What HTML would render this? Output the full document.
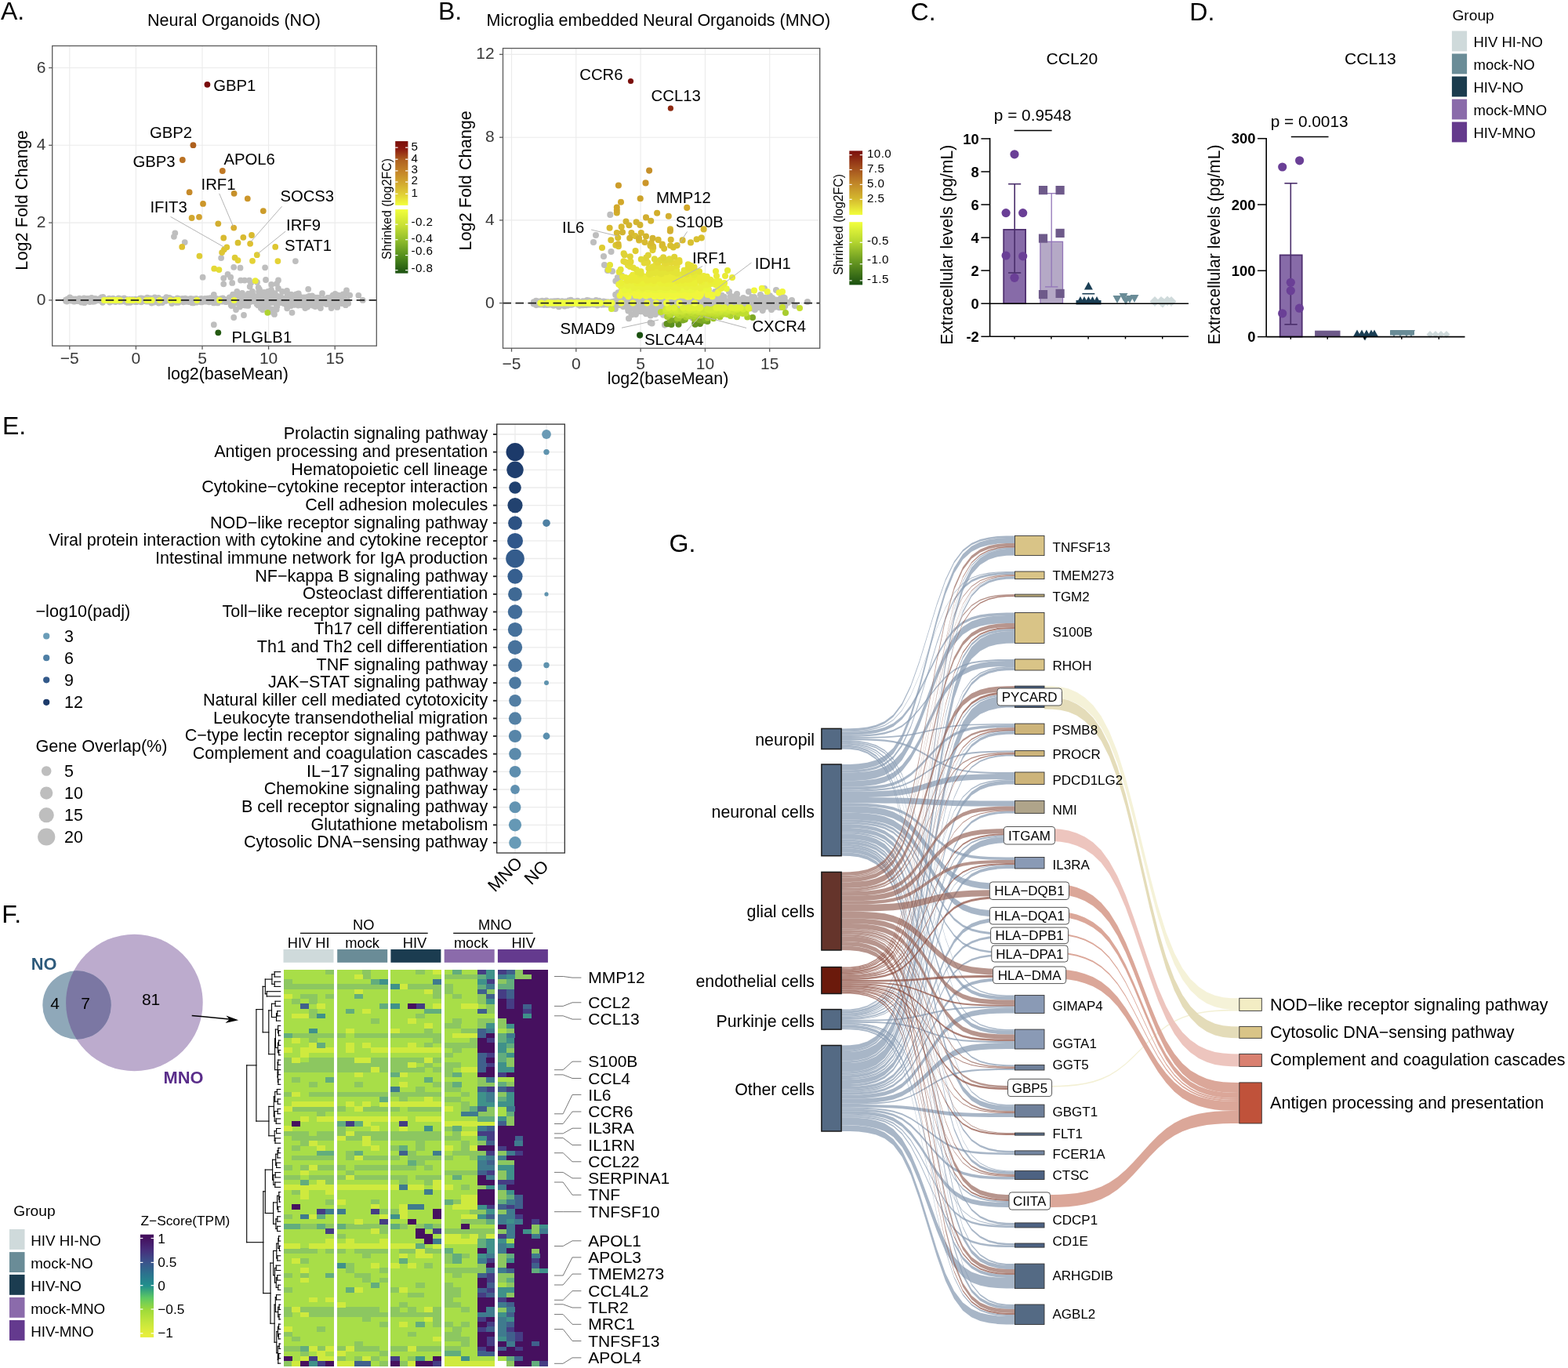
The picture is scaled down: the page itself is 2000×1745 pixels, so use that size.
<!DOCTYPE html>
<html><head><meta charset="utf-8"><title>Figure</title>
<style>html,body{margin:0;padding:0;background:#fff;}svg{display:block;}</style></head>
<body><svg width="2000" height="1745" viewBox="0 0 2000 1745" font-family="Liberation Sans, sans-serif" fill="#000">
<text x="1" y="24.7" font-size="32">A.</text>
<text x="298.5" y="32.8" font-size="21.5" text-anchor="middle">Neural Organoids (NO)</text>
<rect x="66.7" y="58.5" width="413.6" height="382.7" fill="#fff"/>
<g stroke="#ebebeb" stroke-width="1.1"><line x1="88.8" y1="58.5" x2="88.8" y2="441.2"/><line x1="173.4" y1="58.5" x2="173.4" y2="441.2"/><line x1="258" y1="58.5" x2="258" y2="441.2"/><line x1="342.6" y1="58.5" x2="342.6" y2="441.2"/><line x1="427.2" y1="58.5" x2="427.2" y2="441.2"/><line x1="66.7" y1="382.9" x2="480.3" y2="382.9"/><line x1="66.7" y1="284.1" x2="480.3" y2="284.1"/><line x1="66.7" y1="185.3" x2="480.3" y2="185.3"/><line x1="66.7" y1="86.5" x2="480.3" y2="86.5"/></g>
<path d="M201.5 381.6h0M110.1 381.2h0M278.7 383.2h0M268.3 382.5h0M97.4 383.4h0M116.7 382.7h0M238.2 382.5h0M164.9 383.6h0M312.0 389.1h0M438.9 384.3h0M396.0 382.0h0M195.9 382.3h0M380.6 386.6h0M219.2 383.9h0M283.0 382.4h0M158.6 382.7h0M331.2 384.4h0M248.6 381.1h0M192.8 382.3h0M172.5 385.1h0M292.7 379.5h0M188.5 384.6h0M440.3 387.2h0M139.0 381.7h0M261.6 380.8h0M361.9 381.8h0M402.2 384.2h0M294.7 386.6h0M389.3 393.0h0M105.8 382.5h0M338.9 377.4h0M187.3 383.0h0M224.1 383.1h0M251.7 383.2h0M144.9 382.5h0M363.2 382.2h0M173.8 385.2h0M113.0 381.0h0M247.1 385.8h0M381.8 387.3h0M185.0 384.1h0M405.4 379.6h0M138.6 382.4h0M168.6 381.9h0M260.1 383.9h0M85.2 383.5h0M236.1 384.2h0M430.4 380.1h0M271.2 384.5h0M103.4 384.4h0M411.0 374.2h0M226.5 384.8h0M228.9 381.2h0M106.4 381.6h0M108.2 382.7h0M207.4 382.0h0M102.8 382.1h0M120.6 382.9h0M216.0 379.9h0M307.1 381.9h0M175.5 383.7h0M128.4 381.7h0M392.6 390.7h0M115.0 382.5h0M120.9 383.5h0M385.2 381.0h0M92.1 381.2h0M137.1 383.5h0M281.3 381.1h0M439.7 381.5h0M337.0 384.1h0M364.5 381.6h0M367.1 382.0h0M442.0 370.4h0M377.0 383.2h0M272.0 384.0h0M213.1 382.6h0M185.4 382.8h0M178.0 384.2h0M246.4 386.4h0M424.6 376.6h0M163.9 383.3h0M166.2 382.6h0M310.7 378.5h0M389.5 385.9h0M114.6 385.1h0M324.0 380.6h0M257.6 385.3h0M148.7 382.6h0M375.0 388.9h0M227.7 385.8h0M347.4 378.7h0M129.9 381.0h0M377.1 377.7h0M384.4 386.4h0M283.3 384.0h0M131.4 379.0h0M320.1 382.2h0M423.4 379.1h0M160.5 384.9h0M175.3 383.2h0M297.1 380.8h0M236.2 380.7h0M212.4 380.5h0M250.4 385.7h0M236.7 384.5h0M417.6 386.4h0M90.5 383.3h0M243.8 382.8h0M374.4 382.7h0M256.0 383.2h0M202.3 384.8h0M272.3 385.3h0M122.3 383.8h0M287.5 382.9h0M364.7 380.5h0M288.1 382.7h0M245.0 386.2h0M306.5 387.4h0M248.3 383.1h0M277.7 386.4h0M338.1 380.6h0M426.5 389.5h0M389.3 385.5h0M128.0 383.4h0M171.3 382.7h0M110.3 384.2h0M410.0 387.4h0M344.2 379.1h0M435.7 378.1h0M430.2 391.9h0M386.6 382.2h0M240.7 384.2h0M154.9 383.0h0M199.6 383.0h0M285.3 383.2h0M244.0 381.6h0M310.7 382.6h0M107.1 380.3h0M437.2 383.4h0M180.3 380.4h0M182.1 382.3h0M130.9 385.8h0M381.7 379.8h0M138.1 381.2h0M338.5 384.8h0M104.7 383.5h0M110.1 384.3h0M425.1 382.5h0M395.2 384.1h0M397.6 384.9h0M420.8 379.7h0M130.7 384.0h0M123.5 383.1h0M142.5 382.0h0M197.2 382.6h0M194.7 382.8h0M265.6 384.1h0M148.4 383.1h0M174.8 382.7h0M89.3 383.1h0M152.6 384.8h0M256.4 382.3h0M381.6 383.5h0M263.8 382.1h0M268.0 384.2h0M333.9 390.1h0M340.8 378.2h0M230.9 383.2h0M130.9 382.5h0M109.5 383.0h0M143.1 384.0h0M114.5 381.3h0M327.7 387.9h0M171.8 383.3h0M141.0 381.3h0M245.9 383.2h0M437.5 375.4h0M172.6 381.7h0M213.4 383.2h0M84.1 384.1h0M266.6 381.8h0M156.8 383.0h0M179.8 382.9h0M116.4 383.2h0M91.9 382.6h0M194.4 382.7h0M276.2 380.9h0M356.8 384.2h0M225.4 385.9h0M202.4 382.1h0M347.2 383.1h0M99.7 381.3h0M311.9 388.3h0M379.2 386.4h0M387.5 384.1h0M384.4 379.4h0M335.9 385.7h0M95.1 382.0h0M121.9 381.9h0M387.8 385.8h0M331.3 385.9h0M84.9 382.2h0M266.7 385.3h0M278.4 383.2h0M351.8 383.8h0M110.8 383.1h0M158.4 380.5h0M352.9 389.7h0M258.0 382.8h0M332.4 390.3h0M111.9 384.3h0M137.4 383.0h0M194.5 380.5h0M290.3 382.4h0M181.5 382.9h0M328.2 384.0h0M271.6 384.0h0M252.8 383.6h0M408.8 382.6h0M439.5 375.3h0M382.0 382.1h0M247.2 383.0h0M427.7 380.9h0M295.3 390.1h0M132.0 383.5h0M382.1 379.4h0M167.9 384.4h0M410.3 382.7h0M262.6 382.9h0M247.7 383.2h0M208.8 382.1h0M198.7 382.9h0M356.8 383.2h0M127.4 380.8h0M411.7 385.0h0M219.1 387.1h0M298.1 376.1h0M239.4 383.0h0M120.7 382.4h0M387.4 380.8h0M180.4 383.3h0M269.6 382.4h0M431.6 376.7h0M379.1 376.9h0M283.5 384.7h0M345.5 383.3h0M357.5 386.1h0M187.8 379.7h0M130.0 381.9h0M255.5 383.6h0M352.6 378.1h0M178.4 383.6h0M286.5 383.9h0M227.2 382.5h0M159.3 382.1h0M413.3 381.7h0M446.2 376.6h0M134.5 382.7h0M208.1 382.3h0M116.9 382.8h0M290.9 381.8h0M406.5 385.5h0M274.4 382.1h0M220.8 383.2h0M184.7 382.4h0M435.7 387.1h0M397.6 383.0h0M182.3 382.9h0M245.9 381.4h0M430.7 381.9h0M95.5 383.1h0M341.8 392.0h0M83.8 382.6h0M226.2 380.4h0M394.9 388.6h0M174.1 382.2h0M273.8 382.4h0M331.8 384.7h0M361.9 387.1h0M284.3 380.4h0M168.3 382.3h0M418.4 383.4h0M175.3 382.2h0M315.2 382.0h0M274.5 382.5h0M295.8 382.2h0M87.5 380.9h0M193.4 386.5h0M318.2 378.6h0M256.6 382.8h0M433.2 380.7h0M195.5 381.2h0M329.1 382.4h0M177.3 384.6h0M166.2 385.8h0M96.1 383.7h0M332.0 380.3h0M373.7 384.9h0M436.5 383.0h0M382.0 382.0h0M191.0 380.4h0M430.0 382.1h0M235.4 381.9h0M325.7 378.7h0M161.2 381.7h0M438.1 381.9h0M226.8 382.7h0M410.5 385.5h0M422.6 393.1h0M151.2 380.6h0M95.3 383.9h0M325.4 384.8h0M145.3 382.0h0M84.8 383.2h0M431.3 380.2h0M434.5 386.3h0M382.8 378.6h0M101.6 384.3h0M418.2 382.4h0M216.2 382.6h0M233.2 383.1h0M379.0 381.1h0M106.5 382.8h0M418.4 383.0h0M207.1 386.1h0M182.8 380.9h0M179.1 383.4h0M344.4 382.9h0M358.6 382.3h0M314.4 377.9h0M256.6 382.7h0M431.8 386.9h0M240.1 382.2h0M263.2 382.1h0M375.7 383.7h0M383.0 387.7h0M200.0 383.7h0M215.4 382.8h0M155.5 383.5h0M357.6 382.2h0M284.7 382.7h0M202.2 379.9h0M443.1 383.7h0M114.3 381.5h0M341.9 380.9h0M168.9 384.7h0M329.0 380.8h0M391.8 378.8h0M190.6 380.9h0M289.9 384.6h0M156.2 381.2h0M173.7 382.9h0M405.4 381.2h0M202.4 386.6h0M268.3 380.1h0M167.9 382.1h0M444.2 386.9h0M256.4 381.7h0M416.4 388.1h0M190.6 382.2h0M437.7 381.6h0M422.1 380.7h0M178.3 384.1h0M366.7 375.6h0M309.2 380.4h0M217.9 382.3h0M176.5 382.1h0M301.8 382.8h0M202.8 382.7h0M330.5 383.7h0M373.0 381.1h0M106.7 381.7h0M283.9 382.0h0M316.2 380.5h0M232.8 380.9h0M186.8 384.2h0M197.4 379.5h0M289.8 383.9h0M398.1 377.3h0M216.1 382.1h0M157.8 380.6h0M85.9 381.6h0M382.2 384.7h0M404.9 382.6h0M284.4 382.7h0M316.8 374.7h0M218.6 381.8h0M267.2 382.2h0M273.3 381.9h0M420.4 388.2h0M435.5 382.6h0M129.8 379.1h0M259.3 384.3h0M103.1 381.6h0M412.7 384.2h0M383.7 382.4h0M230.9 383.9h0M391.6 380.9h0M229.1 382.0h0M272.1 383.5h0M173.6 382.4h0M347.4 374.3h0M359.3 381.9h0M388.6 385.9h0M311.8 385.1h0M236.5 384.3h0M323.4 384.4h0M243.2 380.9h0M261.8 382.6h0M169.3 382.7h0M250.4 385.5h0M149.0 383.6h0M130.5 382.8h0M240.4 381.6h0M269.3 382.0h0M98.6 383.3h0M350.5 385.1h0M269.8 381.2h0M221.2 382.3h0M429.6 376.7h0M350.0 400.9h0M154.2 381.2h0M431.7 383.8h0M143.8 382.1h0M107.6 386.2h0M211.4 382.9h0M409.9 384.6h0M380.4 389.6h0M159.5 382.9h0M179.3 384.2h0M97.1 382.9h0M150.0 381.1h0M331.0 369.1h0M145.1 382.7h0M276.8 383.6h0M315.2 380.3h0M294.7 389.2h0M121.8 380.8h0M227.1 383.0h0M373.9 379.0h0M214.8 383.0h0M361.9 380.7h0M101.3 380.7h0M382.0 388.4h0M296.9 389.4h0M197.5 382.5h0M138.1 382.9h0M307.8 389.2h0M131.8 383.2h0M166.4 383.1h0M84.7 383.2h0M212.9 381.8h0M165.3 382.0h0M296.0 381.7h0M256.5 380.9h0M132.7 381.9h0M138.0 383.3h0M118.6 384.8h0M368.3 387.5h0M179.8 380.8h0M288.3 382.7h0M211.2 383.9h0M424.6 385.4h0M174.1 382.5h0M277.1 383.2h0M231.4 382.9h0M367.1 381.9h0M284.1 382.1h0M156.3 383.2h0M304.9 386.3h0M147.3 385.0h0M196.3 383.0h0M407.3 380.8h0M344.0 380.2h0M253.0 384.9h0M353.6 382.7h0M168.2 382.2h0M97.8 384.2h0M336.6 373.0h0M342.6 385.9h0M370.5 384.0h0M180.2 385.3h0M162.7 385.9h0M403.9 383.0h0M354.3 377.8h0M355.2 381.0h0M170.7 383.8h0M413.9 384.4h0M439.9 387.0h0M389.2 380.9h0M347.3 385.4h0M195.7 382.4h0M112.0 380.9h0M415.1 381.5h0M421.7 382.7h0M135.3 382.5h0M335.7 382.7h0M337.3 379.3h0M215.9 382.1h0M381.1 380.9h0M399.4 384.5h0M427.3 382.5h0M96.2 382.2h0M392.1 391.5h0M313.5 387.0h0M120.1 380.9h0M158.3 381.5h0M199.8 383.2h0M177.1 382.8h0M186.5 383.2h0M200.4 384.3h0M434.4 380.5h0M95.0 384.6h0M233.9 385.3h0M209.9 381.9h0M340.1 381.7h0M116.8 380.0h0M382.0 380.9h0M361.0 382.9h0M85.3 384.6h0M373.6 382.7h0M263.6 384.5h0M178.5 380.6h0M427.1 381.9h0M265.0 380.7h0M123.7 383.3h0M370.4 383.8h0M370.0 384.7h0M227.3 381.7h0M407.6 382.4h0M158.7 383.1h0M179.5 381.5h0M221.7 383.9h0M405.3 386.4h0M358.2 380.8h0M318.8 383.7h0M390.4 381.4h0M353.6 387.6h0M294.4 381.0h0M251.8 382.1h0M153.4 383.6h0M193.4 383.7h0M140.0 385.6h0M140.5 382.9h0M273.7 381.6h0M142.3 383.4h0M438.5 381.2h0M120.8 382.2h0M223.5 383.1h0M441.6 383.7h0M155.1 384.5h0M315.8 382.1h0M96.1 381.5h0M228.9 382.3h0M265.8 385.1h0M313.8 380.4h0M231.0 381.3h0M353.3 391.1h0M356.2 381.3h0M166.9 383.4h0M365.3 388.9h0M393.8 385.0h0M197.6 384.2h0M312.3 387.4h0M343.2 380.4h0M174.7 384.3h0M309.8 381.4h0M329.4 378.8h0M366.8 379.0h0M261.9 382.5h0M281.4 383.0h0M142.2 382.2h0M272.6 386.4h0M120.5 384.6h0M344.7 384.6h0M316.3 389.9h0M428.6 383.3h0M332.7 382.8h0M441.9 384.4h0M104.3 383.1h0M88.6 381.4h0M236.0 384.9h0M211.8 381.8h0M180.2 382.5h0M425.7 378.1h0M163.4 382.4h0M160.9 384.3h0M130.8 382.5h0M314.5 388.2h0M288.2 382.3h0M212.2 379.1h0M316.1 379.8h0M190.8 384.4h0M283.2 380.9h0M212.8 380.9h0M393.2 384.5h0M238.7 382.1h0M151.3 380.5h0M186.0 382.9h0M172.8 383.4h0M239.6 381.3h0M315.6 387.3h0M394.6 377.7h0M384.9 382.1h0M386.1 384.5h0M89.2 379.3h0M322.3 382.4h0M120.7 382.2h0M366.1 381.2h0M139.3 380.7h0M144.8 384.4h0M407.9 382.0h0M408.9 393.0h0M388.9 384.2h0M353.6 386.3h0M404.8 383.1h0M134.4 381.8h0M263.1 381.3h0M136.3 382.3h0M262.5 384.7h0M397.6 382.9h0M389.6 387.0h0M389.5 384.6h0M236.1 382.3h0M315.5 383.2h0M94.1 384.6h0M422.6 385.8h0M440.9 389.2h0M96.1 382.6h0M345.0 386.0h0M216.9 380.4h0M256.3 385.4h0M160.4 383.3h0M242.0 384.6h0M384.5 381.1h0M384.8 385.3h0M268.0 382.9h0M438.4 382.2h0M199.1 384.2h0M192.6 384.7h0M369.0 385.1h0M346.6 385.0h0M193.0 383.0h0M86.0 381.7h0M305.2 376.7h0M370.8 390.2h0M311.7 385.6h0M300.6 381.9h0M250.3 380.8h0M361.2 382.6h0M365.5 381.2h0M322.3 380.6h0M288.2 385.2h0M177.6 383.4h0M199.6 381.4h0M240.4 385.1h0M103.6 385.6h0M290.2 382.2h0M378.5 382.5h0M417.9 380.0h0M299.1 382.3h0M440.5 384.1h0M318.2 382.2h0M138.9 382.8h0M332.5 382.9h0M435.3 381.8h0M90.2 383.5h0M345.4 383.1h0M102.0 383.8h0M365.3 379.9h0M114.4 384.8h0M312.4 389.6h0M176.1 382.1h0M434.5 382.4h0M320.4 382.8h0M112.7 383.8h0M144.1 380.7h0M396.9 380.3h0M292.9 381.9h0M330.0 382.1h0M318.3 385.6h0M235.8 384.9h0M427.5 374.9h0M289.9 383.0h0M438.0 381.9h0M384.7 389.3h0M386.1 387.9h0M196.0 385.7h0M220.8 381.6h0M332.8 378.6h0M186.8 384.5h0M84.3 383.0h0M297.1 375.7h0M406.6 380.2h0M399.2 387.6h0M183.3 381.3h0M332.8 393.0h0M209.9 381.3h0M373.8 381.0h0M346.1 397.8h0M350.6 374.2h0M329.4 389.4h0M353.0 378.2h0M346.4 394.3h0M331.9 382.2h0M366.2 393.3h0M350.8 374.5h0M402.1 391.0h0M307.8 383.9h0M327.4 385.1h0M353.6 379.1h0M336.3 388.7h0M314.4 385.5h0M326.9 383.3h0M457.3 376.8h0M334.7 380.7h0M306.0 391.3h0M371.4 375.7h0M323.0 376.5h0M354.8 382.7h0M413.7 383.7h0M302.4 382.2h0M341.7 371.8h0M272.8 375.9h0M352.7 394.7h0M371.2 384.0h0M368.0 381.9h0M351.9 380.5h0M387.0 380.3h0M371.7 388.1h0M416.2 387.5h0M388.0 379.5h0M332.3 380.9h0M371.2 384.2h0M301.5 386.5h0M394.5 385.5h0M317.1 378.5h0M393.2 368.8h0M369.9 383.1h0M371.2 381.7h0M302.3 371.8h0M399.2 389.8h0M402.9 379.6h0M333.7 391.9h0M357.4 383.1h0M380.8 374.4h0M393.2 386.5h0M332.3 374.7h0M346.8 385.9h0M334.3 378.5h0M373.5 377.7h0M358.2 378.8h0M377.7 375.3h0M399.6 382.1h0M462.7 382.9h0M223.3 297.3h0M221.9 301.8h0M235.7 309.1h0M282.1 329.1h0M376.9 333.1h0M298.2 340.8h0M306.5 341.7h0M338.1 341.3h0M258.6 353.7h0M290.5 349.9h0M294.2 353.7h0M285.2 354.8h0M296.2 360.9h0M285.2 362.3h0M307.0 357.6h0M312.0 357.6h0M318.0 357.6h0M320.0 361.0h0M328.0 360.0h0M339.0 357.0h0M355.0 357.5h0M353.0 362.0h0M346.2 363.0h0M318.7 365.6h0M329.6 366.8h0M298.2 405.0h0M272.8 414.2h0M311.0 402.0h0M372.5 398.8h0M301.0 395.0h0M335.0 395.0h0M346.0 370.0h0M360.0 372.0h0M322.0 372.0h0M309.0 374.0h0M366.0 371.0h0M355.0 368.0h0M330.0 372.0h0" stroke="#bebebe" stroke-width="7.80" stroke-linecap="round" fill="none"/>
<path d="M278.3 424.3h0" stroke="#245a12" stroke-width="7.80" stroke-linecap="round" fill="none"/><path d="M341.3 398.8h0" stroke="#aed230" stroke-width="7.80" stroke-linecap="round" fill="none"/><path d="M132.8 382.9h0M136.2 382.9h0M139.6 382.9h0M142.9 382.9h0M146.3 382.9h0M149.7 382.9h0M153.1 382.9h0M163.2 382.9h0M166.6 382.9h0M170.0 382.9h0M176.8 382.9h0M186.9 382.9h0M190.3 382.9h0M193.7 382.9h0M203.9 382.9h0M217.4 382.9h0M224.2 382.9h0M227.5 382.9h0M251.2 382.9h0M280.0 382.9h0M298.6 382.9h0" stroke="#f0ff3c" stroke-width="7.80" stroke-linecap="round" fill="none"/><path d="M325.7 358.2h0" stroke="#eaea36" stroke-width="7.80" stroke-linecap="round" fill="none"/><path d="M279.4 344.1h0" stroke="#e4de36" stroke-width="7.80" stroke-linecap="round" fill="none"/><path d="M273.2 342.7h0" stroke="#e4d836" stroke-width="7.80" stroke-linecap="round" fill="none"/><path d="M303.5 332.1h0M322.0 332.8h0M354.4 333.1h0" stroke="#e4d236" stroke-width="7.80" stroke-linecap="round" fill="none"/><path d="M327.8 325.2h0M254.4 326.6h0M299.6 328.7h0" stroke="#decc36" stroke-width="7.80" stroke-linecap="round" fill="none"/><path d="M283.1 322.1h0" stroke="#dec636" stroke-width="7.80" stroke-linecap="round" fill="none"/><path d="M289.3 315.3h0M285.9 318.3h0M351.2 314.9h0" stroke="#dec630" stroke-width="7.80" stroke-linecap="round" fill="none"/><path d="M319.1 310.8h0M232.2 314.9h0" stroke="#dec030" stroke-width="7.80" stroke-linecap="round" fill="none"/><path d="M303.5 309.7h0" stroke="#d8c030" stroke-width="7.80" stroke-linecap="round" fill="none"/><path d="M285.2 303.5h0M321.0 300.0h0M310.3 302.8h0" stroke="#d8ba30" stroke-width="7.80" stroke-linecap="round" fill="none"/><path d="M298.2 290.6h0" stroke="#d8ae30" stroke-width="7.80" stroke-linecap="round" fill="none"/><path d="M278.3 285.3h0" stroke="#d2ae30" stroke-width="7.80" stroke-linecap="round" fill="none"/><path d="M244.6 278.0h0" stroke="#d2a830" stroke-width="7.80" stroke-linecap="round" fill="none"/><path d="M254.0 276.8h0" stroke="#d2a230" stroke-width="7.80" stroke-linecap="round" fill="none"/><path d="M335.8 269.1h0" stroke="#cc9c2a" stroke-width="7.80" stroke-linecap="round" fill="none"/><path d="M315.8 253.3h0M259.0 259.9h0" stroke="#cc962a" stroke-width="7.80" stroke-linecap="round" fill="none"/><path d="M298.6 246.8h0" stroke="#c6902a" stroke-width="7.80" stroke-linecap="round" fill="none"/><path d="M241.6 245.2h0" stroke="#c68a2a" stroke-width="7.80" stroke-linecap="round" fill="none"/><path d="M283.8 218.0h0" stroke="#c07824" stroke-width="7.80" stroke-linecap="round" fill="none"/><path d="M232.8 204.0h0" stroke="#ba7224" stroke-width="7.80" stroke-linecap="round" fill="none"/><path d="M246.4 185.2h0" stroke="#ae601e" stroke-width="7.80" stroke-linecap="round" fill="none"/><path d="M264.4 107.8h0" stroke="#780c0c" stroke-width="7.80" stroke-linecap="round" fill="none"/>
<line x1="66.7" y1="382.9" x2="480.3" y2="382.9" stroke="#222" stroke-width="1.6" stroke-dasharray="10.5 5.5" stroke-dashoffset="-4"/>
<g stroke="#b5b5b5" stroke-width="1"><line x1="217.5" y1="276.4" x2="286.5" y2="315.6"/><line x1="279.7" y1="246.8" x2="297.5" y2="288.8"/><line x1="359.5" y1="263.3" x2="319.6" y2="308.7"/><line x1="364.3" y1="295" x2="328.5" y2="323.9"/></g>
<g font-size="20.3"><text x="272.2" y="116.2">GBP1</text><text x="191" y="176.2">GBP2</text><text x="169.4" y="212.8">GBP3</text><text x="285.4" y="210.4">APOL6</text><text x="256.5" y="241.6">IRF1</text><text x="191.4" y="271.2">IFIT3</text><text x="357.4" y="256.9">SOCS3</text><text x="365" y="294">IRF9</text><text x="362.9" y="319.7">STAT1</text><text x="295.5" y="436.6">PLGLB1</text></g>
<rect x="66.7" y="58.5" width="413.6" height="382.7" fill="none" stroke="#5a5a5a" stroke-width="1.3"/>
<g stroke="#5a5a5a" stroke-width="1.3"><line x1="88.8" y1="441.2" x2="88.8" y2="445.7"/><line x1="173.4" y1="441.2" x2="173.4" y2="445.7"/><line x1="258" y1="441.2" x2="258" y2="445.7"/><line x1="342.6" y1="441.2" x2="342.6" y2="445.7"/><line x1="427.2" y1="441.2" x2="427.2" y2="445.7"/><line x1="62.2" y1="382.9" x2="66.7" y2="382.9"/><line x1="62.2" y1="284.1" x2="66.7" y2="284.1"/><line x1="62.2" y1="185.3" x2="66.7" y2="185.3"/><line x1="62.2" y1="86.5" x2="66.7" y2="86.5"/></g>
<g font-size="21" fill="#383838"><text x="58.4" y="388.9" text-anchor="end">0</text><text x="58.4" y="290.1" text-anchor="end">2</text><text x="58.4" y="191.3" text-anchor="end">4</text><text x="58.4" y="92.5" text-anchor="end">6</text><text x="88.8" y="464.3" text-anchor="middle">−5</text><text x="173.4" y="464.3" text-anchor="middle">0</text><text x="258" y="464.3" text-anchor="middle">5</text><text x="342.6" y="464.3" text-anchor="middle">10</text><text x="427.2" y="464.3" text-anchor="middle">15</text></g>
<text x="290.6" y="483.5" font-size="21.4" text-anchor="middle">log2(baseMean)</text>
<text transform="translate(35.2,255.4) rotate(-90)" font-size="21.7" text-anchor="middle">Log2 Fold Change</text>
<defs><linearGradient id="cbAu" x1="0" y1="0" x2="0" y2="1"><stop offset="0" stop-color="#7a0e0a"/><stop offset="0.12" stop-color="#8c1a10"/><stop offset="0.3" stop-color="#b0621f"/><stop offset="0.48" stop-color="#c58528"/><stop offset="0.66" stop-color="#d3a92e"/><stop offset="0.84" stop-color="#e2d235"/><stop offset="1" stop-color="#f2ff3c"/></linearGradient><linearGradient id="cbAl" x1="0" y1="0" x2="0" y2="1"><stop offset="0" stop-color="#f2ff3c"/><stop offset="0.25" stop-color="#c8e034"/><stop offset="0.5" stop-color="#8cba2a"/><stop offset="0.75" stop-color="#4e8a1c"/><stop offset="1" stop-color="#1a5010"/></linearGradient><linearGradient id="cbBu" x1="0" y1="0" x2="0" y2="1"><stop offset="0" stop-color="#7a0e0a"/><stop offset="0.25" stop-color="#a04a1c"/><stop offset="0.5" stop-color="#c08428"/><stop offset="0.75" stop-color="#d4b82e"/><stop offset="1" stop-color="#f2ff3c"/></linearGradient><linearGradient id="cbBl" x1="0" y1="0" x2="0" y2="1"><stop offset="0" stop-color="#f2ff3c"/><stop offset="0.3" stop-color="#b8d830"/><stop offset="0.6" stop-color="#6e9e22"/><stop offset="1" stop-color="#1a5010"/></linearGradient></defs>
<rect x="504.2" y="180.1" width="16.2" height="81.8" fill="url(#cbAu)"/>
<rect x="504.2" y="267.1" width="16.2" height="81.5" fill="url(#cbAl)"/>
<g stroke="#fff" stroke-width="1.2"><line x1="504.2" y1="188.2" x2="507.5" y2="188.2"/><line x1="517.1" y1="188.2" x2="520.4" y2="188.2"/><line x1="504.2" y1="203.2" x2="507.5" y2="203.2"/><line x1="517.1" y1="203.2" x2="520.4" y2="203.2"/><line x1="504.2" y1="217.9" x2="507.5" y2="217.9"/><line x1="517.1" y1="217.9" x2="520.4" y2="217.9"/><line x1="504.2" y1="232.1" x2="507.5" y2="232.1"/><line x1="517.1" y1="232.1" x2="520.4" y2="232.1"/><line x1="504.2" y1="247.3" x2="507.5" y2="247.3"/><line x1="517.1" y1="247.3" x2="520.4" y2="247.3"/><line x1="504.2" y1="286.2" x2="507.5" y2="286.2"/><line x1="517.1" y1="286.2" x2="520.4" y2="286.2"/><line x1="504.2" y1="305.7" x2="507.5" y2="305.7"/><line x1="517.1" y1="305.7" x2="520.4" y2="305.7"/><line x1="504.2" y1="325.6" x2="507.5" y2="325.6"/><line x1="517.1" y1="325.6" x2="520.4" y2="325.6"/><line x1="504.2" y1="344.7" x2="507.5" y2="344.7"/><line x1="517.1" y1="344.7" x2="520.4" y2="344.7"/></g>
<g font-size="15.2" letter-spacing="0.4"><text x="524.5" y="191.8">5</text><text x="524.5" y="206.5">4</text><text x="524.5" y="220.6">3</text><text x="524.5" y="235.4">2</text><text x="524.5" y="250.6">1</text><text x="524.5" y="288.3">-0.2</text><text x="524.5" y="309.4">-0.4</text><text x="524.5" y="325">-0.6</text><text x="524.5" y="347">-0.8</text></g>
<text transform="translate(498.8,266.5) rotate(-90)" font-size="15.9" text-anchor="middle">Shrinked (log2FC)</text>
<text x="559" y="24.5" font-size="32">B.</text>
<text x="620.5" y="32.8" font-size="21.5">Microglia embedded Neural Organoids (MNO)</text>
<rect x="641.5" y="61.6" width="404.20000000000005" height="382.59999999999997" fill="#fff"/>
<g stroke="#ebebeb" stroke-width="1.1"><line x1="652.5" y1="61.6" x2="652.5" y2="444.2"/><line x1="734.8" y1="61.6" x2="734.8" y2="444.2"/><line x1="817.1" y1="61.6" x2="817.1" y2="444.2"/><line x1="899.4" y1="61.6" x2="899.4" y2="444.2"/><line x1="981.7" y1="61.6" x2="981.7" y2="444.2"/><line x1="641.5" y1="386.6" x2="1045.7" y2="386.6"/><line x1="641.5" y1="280.9" x2="1045.7" y2="280.9"/><line x1="641.5" y1="175.2" x2="1045.7" y2="175.2"/><line x1="641.5" y1="69.4" x2="1045.7" y2="69.4"/></g>
<path d="M825.7 397.8h0M829.9 391.0h0M843.5 389.5h0M844.8 388.4h0M882.7 386.0h0M777.9 387.3h0M709.6 385.7h0M693.9 388.9h0M995.7 381.7h0M878.1 388.3h0M731.0 384.7h0M699.6 386.4h0M741.5 386.6h0M829.4 385.3h0M821.9 383.1h0M886.0 391.9h0M840.9 389.7h0M769.8 388.1h0M1000.7 380.0h0M907.7 386.9h0M781.7 386.4h0M703.0 385.3h0M926.4 392.0h0M804.5 380.6h0M988.0 386.5h0M747.8 386.6h0M972.7 396.1h0M808.0 383.8h0M703.9 388.5h0M767.1 388.6h0M708.5 388.6h0M923.8 378.9h0M718.4 386.6h0M699.7 385.9h0M936.3 384.7h0M824.1 380.5h0M741.7 386.7h0M887.1 389.4h0M717.9 387.6h0M767.1 386.1h0M992.1 385.6h0M964.5 389.4h0M748.1 389.1h0M886.5 380.2h0M712.7 385.5h0M763.4 386.7h0M928.5 388.0h0M704.0 385.4h0M709.4 387.6h0M873.5 388.6h0M799.8 390.4h0M835.7 382.7h0M864.9 384.4h0M730.0 387.3h0M972.1 385.5h0M741.4 387.7h0M917.8 384.5h0M985.4 387.4h0M963.6 389.5h0M713.8 387.6h0M692.9 385.5h0M906.6 387.5h0M763.0 385.6h0M774.7 388.5h0M736.8 386.7h0M753.8 387.2h0M860.0 382.2h0M770.4 388.4h0M974.9 386.4h0M766.9 386.3h0M823.5 383.5h0M798.9 386.2h0M864.1 383.2h0M966.4 384.2h0M995.2 389.5h0M868.1 393.4h0M725.5 386.3h0M972.6 386.5h0M905.5 385.5h0M884.7 386.9h0M835.3 387.2h0M1001.2 389.6h0M704.6 389.1h0M969.4 388.2h0M917.1 388.4h0M974.2 392.4h0M793.4 388.0h0M960.1 393.4h0M814.4 383.9h0M864.3 396.8h0M881.1 391.8h0M875.9 381.9h0M706.2 389.8h0M962.9 395.0h0M914.2 393.2h0M867.0 381.0h0M821.9 385.4h0M921.3 387.8h0M690.0 388.1h0M754.4 387.7h0M904.6 393.9h0M975.9 386.5h0M762.6 385.3h0M898.1 386.3h0M745.5 384.9h0M892.3 376.5h0M822.3 382.9h0M894.2 389.6h0M744.2 389.2h0M973.9 384.0h0M963.0 390.0h0M782.1 385.2h0M724.2 389.6h0M952.9 386.5h0M908.8 382.6h0M734.8 387.0h0M825.1 387.2h0M813.4 383.0h0M881.3 391.2h0M949.8 386.5h0M995.7 387.9h0M690.6 386.4h0M960.6 381.4h0M863.6 384.5h0M779.7 386.5h0M724.1 386.9h0M826.5 376.8h0M756.7 386.1h0M725.7 384.5h0M823.8 384.4h0M882.7 392.0h0M988.1 391.8h0M900.2 384.7h0M737.8 384.9h0M683.9 389.1h0M738.0 386.2h0M767.9 388.0h0M847.5 379.9h0M877.7 386.4h0M934.7 390.0h0M971.4 379.8h0M912.3 380.2h0M722.2 388.7h0M972.6 385.2h0M801.4 396.5h0M936.2 389.6h0M983.6 391.5h0M746.2 386.1h0M912.2 383.4h0M910.8 393.5h0M748.9 383.0h0M994.2 392.3h0M852.8 385.4h0M972.6 389.5h0M955.2 387.4h0M822.0 384.8h0M857.1 385.9h0M689.6 388.4h0M940.2 380.9h0M736.0 385.5h0M788.0 386.4h0M728.2 387.4h0M846.3 388.3h0M901.7 396.6h0M984.0 395.0h0M708.1 386.4h0M751.5 387.9h0M914.4 387.3h0M885.5 396.7h0M860.2 388.1h0M780.5 388.8h0M969.5 382.1h0M747.3 384.1h0M848.7 397.8h0M864.4 384.6h0M842.0 380.4h0M874.7 372.9h0M846.1 384.2h0M809.1 384.5h0M838.1 393.1h0M902.3 380.6h0M813.3 384.0h0M987.6 384.2h0M832.4 388.5h0M721.2 389.3h0M969.5 384.0h0M833.4 388.0h0M878.8 383.5h0M977.5 382.5h0M687.8 384.6h0M742.8 386.3h0M783.9 384.2h0M794.5 387.1h0M915.1 388.3h0M719.9 387.8h0M743.9 386.7h0M850.7 391.3h0M813.2 384.6h0M850.4 384.7h0M883.1 383.6h0M885.4 396.7h0M876.8 388.5h0M955.5 386.0h0M940.6 381.0h0M970.2 387.8h0M976.7 383.9h0M750.5 383.3h0M723.5 386.6h0M757.3 386.8h0M711.6 387.8h0M947.6 391.9h0M720.9 385.3h0M809.8 387.0h0M745.0 386.9h0M899.5 374.8h0M717.5 388.8h0M842.8 386.3h0M900.6 392.8h0M741.1 385.9h0M692.5 386.3h0M857.6 393.4h0M727.5 386.8h0M739.7 385.7h0M998.3 380.3h0M978.0 385.6h0M985.9 385.9h0M828.8 386.2h0M830.4 391.3h0M845.9 393.1h0M684.7 385.7h0M905.5 384.7h0M826.2 389.4h0M917.8 388.5h0M733.5 386.0h0M845.0 375.5h0M937.8 385.9h0M906.7 381.8h0M810.3 392.3h0M872.9 401.6h0M938.8 386.9h0M763.4 384.4h0M930.2 389.6h0M942.0 392.7h0M962.9 382.5h0M903.5 385.6h0M810.7 395.5h0M912.4 382.2h0M831.0 384.5h0M683.9 388.0h0M880.8 380.7h0M755.0 384.4h0M788.9 387.4h0M892.2 392.5h0M805.5 389.4h0M1001.4 389.9h0M925.0 390.8h0M995.1 381.9h0M917.6 385.9h0M762.9 387.0h0M743.2 386.3h0M801.1 383.3h0M971.2 385.1h0M857.0 400.4h0M862.8 387.3h0M999.9 390.6h0M704.9 388.8h0M872.3 386.5h0M979.0 387.6h0M731.8 387.6h0M839.5 386.0h0M876.6 374.7h0M815.5 382.0h0M849.6 390.7h0M772.2 387.5h0M890.8 390.6h0M910.5 388.2h0M775.5 385.4h0M694.2 386.5h0M730.7 386.6h0M968.6 390.0h0M920.7 376.8h0M983.6 383.4h0M704.1 385.2h0M833.8 389.7h0M992.8 386.4h0M981.3 382.4h0M912.5 401.0h0M942.6 384.7h0M874.2 381.1h0M826.7 381.7h0M745.8 384.8h0M720.4 386.0h0M822.6 389.5h0M764.6 388.1h0M867.4 394.6h0M850.8 382.2h0M1000.7 381.3h0M757.0 387.4h0M717.0 384.4h0M881.1 392.4h0M795.8 386.9h0M861.8 378.6h0M870.4 392.5h0M741.4 388.6h0M760.4 383.1h0M962.5 387.6h0M693.2 385.4h0M817.0 385.0h0M880.6 381.3h0M703.8 385.4h0M708.2 387.5h0M883.0 392.6h0M800.3 387.7h0M790.8 386.5h0M919.5 385.9h0M718.9 387.1h0M940.2 390.8h0M748.9 388.5h0M816.7 387.1h0M798.9 383.7h0M890.3 381.9h0M856.6 386.9h0M920.0 383.4h0M799.0 387.4h0M711.6 386.1h0M707.1 387.1h0M861.6 394.6h0M776.4 386.4h0M929.4 384.5h0M893.0 384.9h0M706.7 387.4h0M903.2 378.6h0M771.3 385.7h0M913.5 382.7h0M798.1 384.8h0M863.2 381.0h0M975.3 379.5h0M821.1 390.9h0M938.2 387.6h0M808.7 382.2h0M980.5 384.6h0M796.6 387.3h0M797.8 387.6h0M804.9 382.6h0M743.1 389.2h0M854.0 390.3h0M948.9 388.6h0M924.1 387.4h0M963.2 386.7h0M846.0 385.5h0M855.1 399.2h0M889.5 392.3h0M938.6 382.6h0M933.4 384.9h0M707.5 384.3h0M969.1 383.8h0M707.7 387.2h0M919.9 388.0h0M888.8 386.5h0M926.1 384.2h0M847.9 386.1h0M788.9 388.2h0M991.3 388.5h0M853.0 392.0h0M911.9 389.7h0M812.3 397.9h0M945.7 390.0h0M939.2 392.4h0M948.1 380.0h0M886.0 395.2h0M848.6 389.0h0M815.8 395.8h0M815.4 381.3h0M998.6 382.1h0M801.0 384.8h0M816.9 383.5h0M774.2 386.1h0M779.5 386.7h0M717.3 388.2h0M738.1 388.8h0M700.5 388.6h0M972.3 385.4h0M692.2 385.8h0M750.2 386.0h0M756.0 387.0h0M752.4 388.7h0M739.9 386.8h0M923.6 384.5h0M780.5 389.4h0M834.4 389.5h0M764.1 383.9h0M790.3 388.9h0M856.2 380.8h0M751.4 387.1h0M696.4 383.9h0M804.0 389.7h0M849.8 390.8h0M998.3 386.9h0M891.5 386.5h0M832.2 385.8h0M799.7 385.9h0M875.0 394.6h0M731.0 385.8h0M763.7 385.4h0M959.5 391.5h0M999.2 387.1h0M766.0 387.5h0M927.8 387.0h0M680.9 385.3h0M944.3 392.6h0M706.9 386.9h0M711.7 384.1h0M834.6 399.5h0M868.8 384.0h0M955.7 388.6h0M814.3 377.8h0M974.7 381.2h0M747.4 385.0h0M854.9 389.7h0M947.5 386.9h0M780.4 386.8h0M778.6 386.0h0M830.4 387.7h0M901.0 391.5h0M714.4 388.0h0M990.8 384.2h0M946.8 386.9h0M801.5 387.3h0M908.4 386.1h0M827.5 379.8h0M683.8 383.8h0M746.8 386.7h0M878.2 387.9h0M853.7 381.6h0M776.2 387.4h0M894.5 382.1h0M762.8 385.8h0M786.2 384.2h0M983.8 391.7h0M786.9 387.6h0M945.9 385.0h0M710.8 386.1h0M898.0 387.5h0M809.6 389.8h0M949.1 387.8h0M753.2 387.0h0M730.9 385.4h0M703.8 385.5h0M976.0 390.3h0M888.2 383.8h0M926.6 385.1h0M786.9 388.0h0M812.8 381.3h0M905.1 386.1h0M995.7 385.4h0M875.8 394.1h0M686.4 387.3h0M889.3 382.4h0M714.6 388.0h0M933.6 383.7h0M945.3 388.1h0M926.5 387.9h0M970.3 389.7h0M841.1 388.1h0M726.0 387.7h0M846.1 401.7h0M910.1 384.8h0M983.8 388.6h0M881.8 385.9h0M759.0 386.0h0M865.5 388.1h0M978.7 389.5h0M796.4 387.4h0M993.0 386.2h0M724.0 385.0h0M860.5 390.4h0M860.3 387.6h0M998.9 379.1h0M942.9 388.0h0M945.2 387.6h0M773.1 385.7h0M864.6 389.0h0M947.1 384.9h0M705.0 384.8h0M690.8 384.6h0M982.0 377.4h0M891.8 389.4h0M917.3 381.8h0M803.0 394.6h0M685.7 388.2h0M744.5 387.5h0M804.5 386.0h0M863.3 383.6h0M765.1 384.9h0M862.8 390.3h0M692.6 384.6h0M895.9 378.4h0M873.1 376.0h0M831.3 392.9h0M901.7 382.7h0M923.8 386.6h0M999.7 390.6h0M949.5 384.4h0M819.8 390.9h0M862.1 381.3h0M849.0 390.2h0M819.2 382.8h0M698.0 387.4h0M913.4 379.7h0M872.3 391.6h0M921.8 388.2h0M702.9 384.6h0M720.4 388.4h0M807.8 384.6h0M697.2 387.3h0M757.2 388.4h0M778.8 387.5h0M702.4 385.9h0M973.0 381.6h0M958.6 387.7h0M815.7 385.3h0M920.1 388.9h0M862.4 384.6h0M934.8 387.5h0M720.2 390.4h0M680.7 387.5h0M758.8 387.0h0M700.6 385.3h0M967.8 385.2h0M794.9 388.1h0M868.4 385.3h0M968.9 386.4h0M779.3 390.3h0M994.2 386.5h0M832.2 385.4h0M976.6 383.8h0M968.3 384.4h0M794.2 383.8h0M832.1 381.5h0M1000.0 380.4h0M745.3 387.3h0M963.0 388.3h0M696.5 384.6h0M780.9 385.0h0M969.5 382.9h0M723.8 388.4h0M903.9 381.3h0M705.8 387.3h0M752.1 387.5h0M743.5 384.3h0M738.6 386.4h0M934.2 381.5h0M800.0 388.3h0M869.8 395.9h0M754.0 387.7h0M894.6 375.1h0M769.3 387.0h0M996.0 387.7h0M821.8 393.0h0M695.0 386.9h0M873.0 387.5h0M938.3 384.0h0M708.5 387.2h0M759.4 384.0h0M770.1 387.6h0M968.4 387.3h0M997.5 382.9h0M921.4 385.8h0M804.0 381.0h0M738.2 387.4h0M858.9 389.7h0M891.8 390.5h0M931.8 390.7h0M951.8 387.0h0M900.1 399.5h0M736.3 387.1h0M930.7 384.2h0M756.0 384.7h0M821.8 385.3h0M934.4 392.6h0M756.2 387.7h0M866.7 386.3h0M840.6 379.6h0M909.9 385.0h0M864.3 384.3h0M729.2 387.3h0M686.2 388.3h0M822.2 386.5h0M764.9 386.4h0M971.7 387.9h0M863.1 395.6h0M756.9 387.4h0M727.4 386.8h0M781.4 386.2h0M879.9 390.7h0M869.4 387.3h0M708.9 386.2h0M762.3 387.5h0M731.8 387.7h0M933.0 392.6h0M700.1 387.9h0M749.9 385.8h0M992.0 382.8h0M924.8 385.6h0M997.0 384.3h0M919.6 383.6h0M693.1 386.4h0M725.9 383.3h0M806.6 388.3h0M705.0 385.0h0M691.5 383.9h0M916.1 386.7h0M754.3 386.6h0M758.1 384.6h0M828.6 382.0h0M788.7 387.2h0M995.4 387.3h0M809.8 387.6h0M889.0 382.1h0M903.5 384.9h0M957.9 392.6h0M829.0 392.5h0M806.6 383.7h0M931.3 389.4h0M749.6 387.2h0M856.9 383.8h0M733.1 386.3h0M830.6 383.1h0M779.5 391.3h0M898.5 381.1h0M957.4 385.6h0M703.8 385.1h0M902.4 389.4h0M686.4 385.6h0M738.9 386.7h0M976.9 383.2h0M910.0 387.2h0M729.8 385.1h0M981.1 390.3h0M912.7 379.7h0M971.6 383.6h0M803.9 386.0h0M707.2 385.6h0M927.9 388.7h0M847.2 381.6h0M757.0 386.1h0M693.6 385.4h0M690.7 384.9h0M780.7 388.4h0M724.1 385.7h0M907.3 387.2h0M894.3 378.1h0M727.7 386.2h0M909.3 382.5h0M810.6 394.6h0M753.0 384.5h0M774.2 387.2h0M693.5 385.7h0M688.4 388.0h0M940.1 389.8h0M993.6 388.1h0M975.5 381.7h0M749.9 387.5h0M987.1 391.3h0M959.2 386.1h0M709.3 384.4h0M817.8 388.1h0M803.5 385.4h0M785.8 387.9h0M731.4 386.6h0M809.7 389.8h0M894.0 386.1h0M757.5 385.4h0M816.0 383.9h0M728.9 388.7h0M858.0 390.7h0M905.2 381.4h0M797.4 386.4h0M700.7 387.0h0M839.5 385.6h0M868.5 391.2h0M761.8 386.3h0M688.0 388.5h0M862.1 377.5h0M764.5 387.1h0M831.1 389.6h0M878.0 381.8h0M865.4 388.0h0M983.0 386.0h0M879.7 394.0h0M812.4 390.3h0M946.8 385.2h0M962.8 392.2h0M692.7 384.2h0M724.1 388.0h0M796.2 386.7h0M994.1 385.3h0M753.8 385.8h0M898.8 386.6h0M855.0 386.4h0M806.9 386.2h0M889.2 380.4h0M856.4 391.4h0M947.2 389.7h0M991.4 388.2h0M965.0 383.9h0M781.1 387.1h0M900.8 394.6h0M989.9 385.7h0M880.0 389.4h0M838.0 391.3h0M772.2 387.2h0M920.9 389.1h0M760.5 386.8h0M784.8 385.8h0M720.9 384.9h0M700.8 385.9h0M906.7 385.6h0M716.7 389.2h0M834.8 383.9h0M732.7 384.5h0M697.6 389.0h0M762.0 389.4h0M806.4 387.0h0M910.3 386.7h0M785.4 384.1h0M787.6 386.4h0M946.4 393.2h0M862.6 393.9h0M880.4 382.6h0M947.2 386.0h0M801.5 389.2h0M895.3 386.2h0M684.9 385.6h0M868.4 373.5h0M723.4 388.1h0M901.2 393.1h0M807.8 383.0h0M980.1 385.5h0M909.4 386.7h0M718.5 385.3h0M915.2 385.5h0M999.4 384.4h0M689.0 385.6h0M854.6 391.7h0M779.7 386.4h0M937.4 385.1h0M806.2 390.3h0M878.8 385.2h0M805.5 401.4h0M903.3 395.7h0M727.6 387.4h0M736.7 383.7h0M761.2 384.3h0M837.2 383.2h0M686.7 385.6h0M862.1 382.0h0M768.4 384.9h0M753.5 388.1h0M763.8 386.4h0M696.9 383.5h0M779.8 385.3h0M705.7 385.8h0M1000.5 383.0h0M745.4 385.4h0M813.5 391.1h0M939.5 387.5h0M857.2 385.5h0M891.3 389.6h0M981.8 388.5h0M958.0 382.9h0M948.1 386.7h0M913.2 386.0h0M734.7 386.3h0M718.6 385.3h0M922.4 385.1h0M780.0 386.8h0M747.9 386.6h0M988.4 382.4h0M940.5 386.3h0M934.8 386.9h0M938.2 390.1h0M946.1 385.5h0M712.8 391.2h0M985.5 391.0h0M760.9 385.2h0M972.4 382.1h0M753.4 386.3h0M805.1 391.9h0M940.7 382.9h0M797.5 387.6h0M770.1 387.7h0M971.0 387.3h0M787.9 386.0h0M918.5 385.2h0M855.8 378.1h0M898.8 385.5h0M726.4 385.9h0M792.9 386.8h0M841.8 386.3h0M809.9 389.4h0M986.1 382.8h0M746.2 385.6h0M922.5 388.7h0M715.3 384.9h0M989.5 386.9h0M751.0 388.7h0M737.6 385.2h0M768.2 388.3h0M783.9 390.1h0M739.4 389.6h0M728.0 382.9h0M884.2 392.1h0M748.6 385.0h0M878.3 378.7h0M882.3 393.4h0M842.5 389.0h0M949.3 387.3h0M901.9 394.1h0M815.1 384.3h0M803.9 385.7h0M864.3 379.5h0M845.9 379.3h0M823.9 385.1h0M870.9 396.7h0M729.2 388.7h0M830.9 378.0h0M780.9 386.7h0M917.0 383.1h0M958.9 386.8h0M721.1 384.8h0M755.6 386.7h0M950.2 391.4h0M946.7 393.1h0M936.5 397.5h0M701.3 387.0h0M959.8 387.2h0M939.6 389.1h0M826.2 396.9h0M743.4 387.3h0M770.2 387.0h0M858.6 388.2h0M933.1 389.2h0M937.2 386.5h0M954.9 386.0h0M971.2 390.9h0M936.2 384.7h0M712.7 385.4h0M692.3 388.4h0M948.1 380.9h0M718.2 385.9h0M953.0 383.5h0M878.5 384.9h0M997.6 387.4h0M746.8 388.8h0M914.0 394.4h0M743.7 387.4h0M685.4 388.1h0M789.5 387.5h0M769.9 384.6h0M874.1 387.7h0M721.6 387.5h0M903.2 389.3h0M717.7 386.4h0M982.5 389.1h0M743.4 387.6h0M999.8 388.6h0M796.1 389.0h0M780.1 387.3h0M883.1 385.0h0M816.8 384.3h0M827.1 391.5h0M843.0 382.0h0M906.3 388.3h0M755.9 387.7h0M960.6 387.9h0M772.4 385.1h0M826.5 392.9h0M980.2 390.9h0M873.5 380.9h0M824.4 381.5h0M770.8 386.0h0M822.0 382.4h0M903.5 387.8h0M896.2 386.4h0M722.9 385.0h0M967.9 386.6h0M790.1 384.9h0M943.8 383.9h0M855.7 392.3h0M712.4 386.1h0M797.2 387.0h0M800.7 387.9h0M790.9 388.9h0M968.7 385.9h0M883.7 387.0h0M831.1 390.4h0M781.9 385.2h0M895.8 397.7h0M993.9 392.2h0M917.6 388.1h0M904.1 397.0h0M829.7 411.6h0M918.3 386.1h0M823.8 381.9h0M900.5 366.8h0M885.1 381.3h0M901.4 382.3h0M873.8 390.9h0M905.6 379.0h0M824.3 396.1h0M873.0 374.9h0M865.8 400.2h0M909.9 382.4h0M959.1 387.1h0M960.3 390.8h0M914.1 386.9h0M823.2 389.9h0M932.5 383.4h0M858.5 379.9h0M914.0 381.4h0M887.3 385.7h0M839.1 388.4h0M880.2 393.2h0M862.5 386.7h0M884.2 380.3h0M830.4 390.7h0M886.6 390.6h0M889.3 391.3h0M926.0 388.8h0M825.7 382.5h0M947.0 395.6h0M869.3 387.4h0M919.7 381.9h0M868.1 399.1h0M903.9 380.6h0M895.1 387.3h0M839.8 370.3h0M823.0 398.8h0M917.3 386.7h0M904.0 385.3h0M947.9 382.2h0M851.2 380.6h0M824.1 400.2h0M927.0 389.6h0M874.2 392.7h0M896.9 388.3h0M841.7 393.0h0M908.2 394.6h0M880.5 395.0h0M894.5 375.0h0M899.6 379.8h0M894.5 394.8h0M862.0 387.4h0M894.0 392.2h0M901.5 393.1h0M877.8 387.9h0M825.2 380.6h0M877.2 387.1h0M873.6 403.0h0M814.4 394.3h0M917.9 390.2h0M901.3 395.3h0M838.5 391.3h0M920.8 394.5h0M867.4 384.9h0M880.9 388.0h0M908.7 385.8h0M831.5 383.3h0M841.3 390.3h0M937.7 378.1h0M937.7 386.2h0M841.4 393.3h0M946.9 386.6h0M815.1 376.6h0M900.1 378.4h0M892.5 403.4h0M843.2 388.9h0M867.7 377.0h0M846.0 388.6h0M872.5 388.5h0M830.3 396.7h0M889.3 389.3h0M883.7 395.5h0M875.1 394.9h0M831.3 385.5h0M902.4 383.7h0M873.1 390.7h0M935.3 382.9h0M847.6 395.7h0M891.0 385.6h0M835.6 371.5h0M784.8 393.9h0M885.4 380.8h0M795.0 391.0h0M936.9 382.3h0M864.1 387.6h0M836.8 385.0h0M829.8 402.5h0M809.3 387.5h0M818.0 379.9h0M930.3 383.9h0M903.2 379.7h0M886.4 381.6h0M895.2 382.2h0M831.2 392.6h0M831.9 381.9h0M896.8 393.5h0M832.4 392.0h0M912.6 388.7h0M864.6 392.8h0M869.8 376.4h0M845.3 390.4h0M948.2 385.0h0M825.9 380.0h0M820.6 383.9h0M832.1 381.3h0M849.3 393.1h0M877.3 387.9h0M854.8 392.7h0M952.5 381.9h0M889.2 396.1h0M852.2 390.0h0M896.0 376.4h0M852.6 386.8h0M856.5 386.9h0M845.3 385.2h0M925.0 389.5h0M860.9 387.0h0M818.4 374.9h0M817.3 390.4h0M836.9 377.1h0M854.1 391.5h0M956.4 388.4h0M841.5 387.9h0M883.4 393.2h0M867.1 389.4h0M906.2 382.4h0M911.0 388.7h0M909.4 389.4h0M925.0 386.3h0M856.7 379.0h0M809.8 394.8h0M840.7 388.8h0M822.1 396.5h0M793.7 387.0h0M841.9 372.1h0M908.4 396.1h0M931.9 387.5h0M921.5 392.3h0M925.0 383.5h0M857.1 394.0h0M858.7 386.0h0M978.8 380.7h0M939.6 388.8h0M860.9 385.2h0M863.2 391.2h0M866.1 381.8h0M872.1 386.2h0M863.7 389.3h0M860.8 378.8h0M885.0 377.1h0M867.7 380.2h0M815.5 390.8h0M872.4 392.4h0M870.1 394.5h0M868.0 392.7h0M874.9 390.0h0M832.0 390.8h0M876.2 397.0h0M879.2 378.9h0M865.3 383.9h0M901.8 393.6h0M931.9 377.9h0M830.9 372.5h0M844.6 377.4h0M797.1 379.7h0M881.0 397.1h0M839.6 395.4h0M836.3 385.2h0M867.3 405.9h0M861.6 384.5h0M878.9 375.7h0M796.0 386.1h0M876.4 382.7h0M817.4 397.2h0M867.7 387.3h0M797.1 385.2h0M874.8 382.6h0M896.6 394.2h0M854.5 382.3h0M947.8 387.3h0M870.3 378.5h0M836.5 389.0h0M853.3 394.9h0M883.4 373.2h0M885.7 384.3h0M873.7 379.8h0M882.8 394.2h0M879.3 377.5h0M871.4 379.3h0M872.0 373.3h0M887.2 383.2h0M862.5 381.9h0M865.3 398.5h0M888.1 396.5h0M938.7 384.7h0M875.8 382.9h0M941.1 390.5h0M903.9 369.5h0M805.5 390.8h0M889.7 384.9h0M802.3 394.6h0M939.1 390.3h0M898.9 397.7h0M835.8 401.0h0M886.7 379.6h0M879.1 389.8h0M885.4 384.5h0M862.5 383.9h0M959.1 379.0h0M850.4 396.9h0M957.6 384.0h0M927.4 385.5h0M865.3 380.9h0M923.2 383.2h0M828.3 380.5h0M860.0 390.4h0M890.3 390.4h0M974.8 385.6h0M886.6 389.2h0M885.8 389.5h0M900.2 381.7h0M911.2 396.9h0M860.8 387.2h0M822.5 385.1h0M869.0 387.4h0M891.6 392.3h0M942.1 383.8h0M851.5 384.5h0M907.1 393.3h0M859.8 382.8h0M818.4 385.5h0M901.9 394.5h0M912.1 372.0h0M884.1 388.1h0M878.2 395.1h0M898.9 386.6h0M907.2 377.6h0M876.7 386.5h0M889.2 375.4h0M812.5 387.9h0M848.2 386.9h0M911.0 387.3h0M906.8 386.5h0M844.5 392.6h0M815.7 386.2h0M858.3 381.8h0M916.8 391.4h0M828.5 383.5h0M837.4 386.3h0M901.4 390.6h0M951.8 391.0h0M893.5 390.8h0M867.8 389.0h0M900.1 388.8h0M843.8 391.5h0M862.1 382.4h0M863.4 379.0h0M912.0 393.2h0M919.6 396.9h0M876.4 394.9h0M871.0 379.6h0M875.2 389.0h0M930.2 390.9h0M839.6 380.9h0M901.6 398.1h0M881.7 382.2h0M868.2 390.7h0M881.0 386.3h0M845.0 381.8h0M807.4 388.4h0M967.1 392.1h0M873.6 404.1h0M839.6 396.1h0M877.8 391.4h0M954.1 391.6h0M874.0 386.3h0M902.8 381.4h0M808.1 372.1h0M862.0 393.0h0M804.5 391.0h0M799.0 386.5h0M849.4 385.5h0M841.3 387.3h0M970.7 383.2h0M882.0 394.9h0M937.9 394.6h0M814.5 378.6h0M849.4 378.2h0M899.7 372.3h0M951.8 385.6h0M848.0 383.6h0M935.3 387.3h0M858.8 390.5h0M872.5 390.4h0M924.1 392.9h0M893.9 402.1h0M831.5 393.3h0M836.5 392.9h0M901.2 383.7h0M878.3 386.5h0M845.1 394.9h0M813.9 390.9h0M826.3 390.2h0M906.0 384.0h0M931.8 391.6h0M827.2 373.6h0M904.8 391.0h0M931.5 389.6h0M946.5 389.5h0M857.4 382.9h0M825.7 389.1h0M957.9 386.2h0M827.5 389.7h0M873.6 393.3h0M892.4 379.0h0M876.8 381.6h0M887.4 386.9h0M842.5 381.0h0M932.7 389.7h0M837.1 384.2h0M879.2 379.9h0M895.8 388.8h0M815.3 383.5h0M879.0 397.0h0M810.9 401.0h0M901.3 391.0h0M837.0 392.5h0M869.9 387.7h0M860.1 382.6h0M918.6 388.8h0M942.3 388.4h0M837.6 386.8h0M813.2 390.1h0M829.2 391.0h0M883.1 405.5h0M891.5 386.1h0M865.3 382.8h0M889.3 390.5h0M831.6 382.7h0M907.1 398.5h0M843.3 396.4h0M910.2 392.0h0M821.0 377.2h0M894.1 386.3h0M885.1 389.2h0M876.0 381.5h0M893.5 391.2h0M878.7 374.6h0M850.7 397.4h0M879.5 396.1h0M987.2 385.5h0M899.6 385.3h0M959.0 392.0h0M872.3 399.9h0M927.8 388.2h0M950.4 389.0h0M829.6 393.0h0M909.0 393.9h0M885.5 393.2h0M843.8 392.0h0M944.2 392.2h0M888.2 382.2h0M842.4 398.8h0M939.0 381.0h0M863.6 396.6h0M911.8 388.3h0M838.9 390.8h0M839.2 396.7h0M817.5 383.8h0M885.7 375.8h0M845.6 394.1h0M931.3 383.8h0M879.4 387.4h0M841.7 391.7h0M854.9 406.2h0M955.9 385.0h0M964.0 383.0h0M895.5 382.0h0M801.2 395.3h0M910.8 390.8h0M804.3 388.1h0M818.4 388.0h0M941.6 392.5h0M854.6 384.1h0M872.8 386.7h0M837.5 390.5h0M866.2 378.8h0M825.5 389.4h0M904.6 379.2h0M924.2 391.6h0M855.8 375.4h0M853.7 386.0h0M837.3 392.8h0M817.0 361.3h0M804.5 362.2h0M788.5 373.4h0M824.0 369.8h0M831.9 378.0h0M799.9 373.2h0M815.1 384.2h0M805.8 365.5h0M792.7 373.7h0M834.5 368.3h0M798.6 378.7h0M791.0 381.2h0M829.9 370.5h0M799.4 369.1h0M824.2 384.4h0M831.4 368.6h0M796.4 361.5h0M824.5 377.7h0M834.8 381.4h0M811.5 376.3h0M809.6 362.3h0M817.0 369.8h0M841.0 382.0h0M797.0 364.3h0M792.8 351.6h0M803.8 371.4h0M809.0 361.7h0M836.9 373.7h0M794.1 372.4h0M824.9 380.3h0M835.0 369.7h0M797.2 372.6h0M797.4 361.3h0M786.9 359.0h0M787.8 354.1h0M815.5 370.1h0M789.7 382.6h0M804.5 355.6h0M818.8 364.1h0M787.8 380.4h0M785.4 358.5h0M794.3 375.2h0M822.6 369.3h0M802.8 370.4h0M800.8 367.1h0M804.7 374.0h0M798.5 375.1h0M799.2 383.9h0M802.1 366.5h0M799.7 380.8h0M832.9 376.5h0M813.7 376.7h0M835.3 371.9h0M820.1 369.4h0M824.1 374.0h0M808.0 373.6h0M813.2 372.5h0M814.7 371.1h0M829.6 367.3h0M797.1 383.6h0M801.5 383.4h0M830.1 372.9h0M800.6 378.5h0M834.2 370.0h0M823.6 369.6h0M827.1 375.6h0M807.1 368.9h0M834.9 367.5h0M837.0 371.0h0M788.5 375.3h0M840.1 376.7h0M813.8 376.7h0M833.8 375.8h0M841.2 384.3h0M841.4 385.3h0M792.7 371.0h0M821.0 382.4h0M816.6 361.5h0M809.3 363.6h0M818.3 370.8h0M794.2 368.8h0M836.0 373.5h0M796.7 369.8h0M815.5 376.3h0M817.5 369.4h0M785.2 375.9h0M822.0 380.1h0M788.4 357.1h0M803.4 355.9h0M816.4 382.3h0M686.8 387.2h0M778.3 273.9h0M779.5 321.0h0M770.0 327.0h0M811.0 398.0h0M802.0 406.3h0M831.5 412.5h0M848.0 414.6h0M760.0 300.0h0M757.0 309.0h0M771.0 338.0h0M775.0 345.0h0M781.0 346.0h0M962.0 379.0h0M970.0 376.0h0M985.0 380.0h0M995.0 383.0h0M1005.0 386.0h0M955.0 372.0h0M975.0 368.0h0M990.0 370.0h0M940.0 375.0h0M930.0 372.0h0M1030.0 385.0h0M1010.0 383.0h0M1014.0 390.0h0M1000.0 392.0h0M997.0 378.0h0" stroke="#bebebe" stroke-width="8.10" stroke-linecap="round" fill="none"/>
<path d="M816.1 427.6h0" stroke="#1a5010" stroke-width="8.10" stroke-linecap="round" fill="none"/><path d="M856.4 414.0h0" stroke="#5a901e" stroke-width="8.10" stroke-linecap="round" fill="none"/><path d="M892.9 413.0h0M886.7 413.8h0M850.6 413.0h0M852.1 413.1h0M865.5 413.7h0" stroke="#60901e" stroke-width="8.10" stroke-linecap="round" fill="none"/><path d="M886.3 412.5h0" stroke="#66961e" stroke-width="8.10" stroke-linecap="round" fill="none"/><path d="M902.4 409.9h0" stroke="#72a224" stroke-width="8.10" stroke-linecap="round" fill="none"/><path d="M896.0 409.4h0" stroke="#78a224" stroke-width="8.10" stroke-linecap="round" fill="none"/><path d="M871.0 408.5h0M898.6 408.8h0" stroke="#78a824" stroke-width="8.10" stroke-linecap="round" fill="none"/><path d="M873.8 407.6h0M854.7 407.7h0" stroke="#7eae24" stroke-width="8.10" stroke-linecap="round" fill="none"/><path d="M861.9 408.4h0M892.3 408.3h0M854.9 408.5h0M960.0 405.0h0" stroke="#7ea824" stroke-width="8.10" stroke-linecap="round" fill="none"/><path d="M885.7 406.9h0" stroke="#9cc02a" stroke-width="8.10" stroke-linecap="round" fill="none"/><path d="M868.5 406.8h0" stroke="#84ae24" stroke-width="8.10" stroke-linecap="round" fill="none"/><path d="M899.2 406.7h0" stroke="#84b424" stroke-width="8.10" stroke-linecap="round" fill="none"/><path d="M863.8 406.3h0M910.1 406.3h0" stroke="#9cc62a" stroke-width="8.10" stroke-linecap="round" fill="none"/><path d="M865.6 405.8h0M902.7 405.6h0" stroke="#a2c62a" stroke-width="8.10" stroke-linecap="round" fill="none"/><path d="M886.1 405.1h0" stroke="#a2cc2a" stroke-width="8.10" stroke-linecap="round" fill="none"/><path d="M875.2 404.5h0M953.3 404.5h0" stroke="#a8cc2a" stroke-width="8.10" stroke-linecap="round" fill="none"/><path d="M911.5 403.1h0M885.3 403.3h0M879.0 403.3h0M931.8 403.0h0" stroke="#aed230" stroke-width="8.10" stroke-linecap="round" fill="none"/><path d="M851.1 404.1h0M939.9 404.2h0M918.4 404.3h0M1002.0 399.0h0" stroke="#a8cc30" stroke-width="8.10" stroke-linecap="round" fill="none"/><path d="M903.3 402.2h0M891.4 402.1h0M915.9 402.3h0M868.7 402.5h0M893.7 402.5h0" stroke="#b4d230" stroke-width="8.10" stroke-linecap="round" fill="none"/><path d="M866.1 401.9h0M876.6 401.6h0M855.6 401.5h0" stroke="#b4d830" stroke-width="8.10" stroke-linecap="round" fill="none"/><path d="M871.5 400.6h0M853.2 400.4h0M876.7 400.3h0M884.6 400.2h0M922.3 400.8h0M902.0 401.1h0M927.5 400.9h0M911.8 400.4h0M910.6 400.3h0M886.1 400.3h0M887.2 400.8h0" stroke="#bad830" stroke-width="8.10" stroke-linecap="round" fill="none"/><path d="M941.9 400.1h0M912.5 400.0h0" stroke="#bade30" stroke-width="8.10" stroke-linecap="round" fill="none"/><path d="M915.2 400.0h0M854.0 398.7h0M947.4 400.0h0M854.3 399.2h0M862.9 399.8h0M898.9 398.6h0M871.5 398.7h0M881.3 399.0h0M947.5 399.5h0M925.2 399.0h0M904.9 399.0h0M951.5 399.6h0M881.8 398.6h0M907.2 399.5h0M945.2 398.7h0M894.9 398.7h0M843.0 398.0h0" stroke="#c0de30" stroke-width="8.10" stroke-linecap="round" fill="none"/><path d="M903.9 397.6h0M905.1 397.8h0" stroke="#c6e430" stroke-width="8.10" stroke-linecap="round" fill="none"/><path d="M909.3 398.5h0M918.7 398.3h0M893.9 398.1h0M905.8 398.3h0M908.0 398.3h0M908.2 397.9h0M890.9 398.2h0M869.9 398.1h0M916.4 398.1h0M900.7 398.2h0M936.0 397.9h0M1020.0 393.0h0M998.0 392.0h0" stroke="#c6de30" stroke-width="8.10" stroke-linecap="round" fill="none"/><path d="M928.4 397.2h0M919.4 397.4h0M925.9 397.4h0M889.4 397.0h0M884.7 397.1h0M866.4 397.0h0M890.3 397.1h0M891.4 397.4h0M914.9 397.6h0M897.6 397.5h0M860.1 397.5h0M890.2 397.1h0M869.7 397.0h0" stroke="#c6e436" stroke-width="8.10" stroke-linecap="round" fill="none"/><path d="M852.6 396.7h0M903.3 396.5h0M878.6 396.7h0M855.6 396.3h0M934.8 396.4h0M868.3 396.7h0M906.2 396.8h0M914.3 395.7h0M869.9 396.1h0M889.6 396.7h0M911.7 396.9h0M897.8 396.5h0M899.4 396.6h0M871.7 396.6h0M890.7 396.6h0M895.9 397.0h0M901.7 395.8h0M897.8 396.4h0M931.4 396.3h0M848.9 396.9h0M919.3 396.4h0M862.9 396.9h0M932.4 395.8h0M886.1 395.9h0" stroke="#cce436" stroke-width="8.10" stroke-linecap="round" fill="none"/><path d="M919.9 395.6h0M905.4 395.6h0M885.6 395.6h0M861.9 395.5h0M874.7 395.5h0" stroke="#ccea36" stroke-width="8.10" stroke-linecap="round" fill="none"/><path d="M855.8 394.8h0M849.5 394.2h0M885.7 394.3h0M909.9 395.0h0M880.4 395.4h0M890.9 394.2h0M909.7 394.9h0M910.5 394.0h0M890.3 395.2h0M861.2 394.4h0M948.0 394.6h0M922.2 394.4h0M905.9 395.1h0M873.4 395.3h0M926.3 394.4h0M888.6 394.9h0M912.6 394.4h0M928.9 395.0h0M855.0 394.6h0M902.2 394.3h0M877.7 394.9h0M940.5 394.7h0M887.3 395.0h0M886.8 394.4h0M919.8 394.4h0M780.0 394.0h0" stroke="#d2ea36" stroke-width="8.10" stroke-linecap="round" fill="none"/><path d="M878.5 393.9h0M955.3 393.7h0M921.0 393.8h0" stroke="#d8ea36" stroke-width="8.10" stroke-linecap="round" fill="none"/><path d="M891.5 392.9h0M936.5 393.3h0M880.8 392.7h0" stroke="#d8f036" stroke-width="8.10" stroke-linecap="round" fill="none"/><path d="M913.3 392.4h0M932.9 392.4h0M944.7 392.4h0M932.4 392.4h0M918.6 392.4h0M871.1 392.4h0M924.1 392.4h0M860.1 392.4h0M915.0 392.4h0M940.1 392.4h0M892.9 392.4h0M881.6 392.4h0M954.6 392.4h0M885.6 392.4h0M883.3 392.4h0M877.9 392.4h0M892.3 392.4h0M852.9 392.4h0M893.3 392.4h0" stroke="#def036" stroke-width="8.10" stroke-linecap="round" fill="none"/><path d="M751.3 386.6h0M780.4 386.6h0M746.1 386.6h0M729.7 386.6h0M738.3 386.6h0M753.5 386.6h0M766.0 386.6h0M761.1 386.6h0M711.6 386.6h0M760.6 386.6h0M698.3 386.6h0M700.5 386.6h0M735.5 386.6h0M705.7 386.6h0M740.4 386.6h0M714.9 386.6h0M775.7 386.6h0M728.7 386.6h0M763.9 386.6h0M775.8 386.6h0M730.4 386.6h0M759.6 386.6h0M734.1 386.6h0M725.5 386.6h0M700.2 386.6h0M749.4 386.6h0M773.7 386.6h0M752.1 386.6h0M717.9 386.6h0M737.1 386.6h0M721.6 386.6h0M724.8 386.6h0M759.9 386.6h0M689.3 386.6h0M733.1 386.6h0M735.9 386.6h0M702.3 386.6h0M756.2 386.6h0M712.1 386.6h0M725.9 386.6h0M711.6 386.6h0M743.8 386.6h0M728.4 386.6h0M751.7 386.6h0M727.9 386.6h0M760.9 386.6h0M739.5 386.6h0M698.4 386.6h0M734.1 386.6h0M712.0 386.6h0M716.2 386.6h0M776.1 386.6h0M733.0 386.6h0M756.8 386.6h0M703.1 386.6h0M746.7 386.6h0M699.6 386.6h0M709.1 386.6h0M700.5 386.6h0M691.0 386.6h0M792.4 386.6h0M807.2 386.6h0M825.3 386.6h0M836.9 386.6h0M850.0 386.6h0M866.5 386.6h0M886.2 386.6h0" stroke="#f0ff3c" stroke-width="8.10" stroke-linecap="round" fill="none"/><path d="M851.5 378.7h0M860.2 378.7h0M876.8 378.6h0M891.5 378.4h0M851.3 378.4h0M879.4 378.4h0M908.5 378.3h0M841.6 378.2h0M801.5 378.2h0M834.7 378.2h0M888.2 378.0h0M855.9 378.0h0M850.8 377.9h0M854.2 377.9h0M844.2 377.9h0M851.7 377.6h0M815.7 377.6h0M844.6 377.6h0M878.5 377.5h0M841.5 377.5h0M838.6 377.5h0M823.9 377.5h0M875.0 377.5h0M840.6 377.4h0M852.7 377.4h0M824.0 377.4h0M864.3 377.3h0" stroke="#f0fc3c" stroke-width="8.10" stroke-linecap="round" fill="none"/><path d="M879.2 377.1h0M886.6 377.1h0M790.6 377.0h0M893.2 377.0h0M858.5 377.0h0M812.4 377.0h0M815.5 377.0h0M847.0 376.9h0M835.7 376.9h0M810.7 376.9h0M839.1 376.8h0M847.9 376.8h0M869.4 376.8h0M887.4 376.7h0M842.6 376.7h0M872.1 376.7h0M850.8 376.6h0M839.7 376.6h0M828.0 376.5h0M822.3 376.3h0M835.0 376.3h0M817.0 376.1h0M859.3 376.1h0M864.8 376.1h0M903.9 376.1h0M886.0 376.1h0M908.3 376.0h0M902.5 376.0h0M812.8 375.9h0M833.9 375.8h0M906.8 375.8h0M882.2 375.7h0M819.3 375.7h0M862.1 375.6h0M894.0 375.6h0M798.8 375.4h0M827.6 375.2h0M871.8 375.1h0M861.6 375.1h0M836.8 375.1h0M851.2 375.0h0M798.2 374.8h0M875.2 374.8h0M838.2 374.7h0M840.9 374.6h0M864.0 374.6h0M834.4 374.6h0M859.1 374.6h0M866.2 374.5h0M866.3 374.5h0M848.8 374.4h0M860.7 374.4h0M868.6 374.3h0M857.0 374.3h0M867.6 374.2h0M844.8 374.2h0M825.3 374.1h0M915.3 374.1h0M876.5 374.1h0M797.7 374.0h0M857.1 374.0h0M799.8 374.0h0M840.0 373.9h0M858.0 373.9h0M866.3 373.9h0M828.5 373.9h0M854.8 373.8h0M855.4 373.8h0M876.6 373.8h0M816.6 373.8h0M855.3 373.7h0M841.6 373.7h0M829.9 373.5h0M840.4 373.5h0M833.9 373.4h0M863.4 373.4h0M822.7 373.4h0M879.4 373.4h0M993.8 373.3h0M851.1 373.3h0M864.0 373.3h0M894.4 373.2h0M837.8 373.2h0M805.4 373.2h0M877.4 373.2h0M793.0 373.1h0M877.0 373.0h0M883.6 373.0h0M857.5 372.9h0M854.7 372.9h0M876.5 372.9h0M802.1 372.9h0M865.7 372.8h0M826.7 372.7h0M813.3 372.7h0M886.8 372.7h0M820.5 372.7h0M839.2 372.6h0M796.7 372.6h0M887.1 372.6h0M860.7 372.6h0M849.0 372.5h0M855.2 372.5h0M885.6 372.5h0M863.6 372.3h0M861.9 372.3h0M894.4 372.3h0M855.2 372.3h0M821.3 372.3h0M860.8 372.1h0M827.5 372.0h0M978.7 372.0h0M998.0 372.0h0M847.1 371.9h0M807.5 371.9h0M855.4 371.8h0M854.8 371.8h0M846.6 371.8h0M858.5 371.8h0M859.7 371.8h0M815.9 371.8h0M842.2 371.7h0M852.3 371.6h0M848.4 371.6h0M835.3 371.6h0M812.9 371.6h0M824.1 371.5h0M852.7 371.3h0M793.7 371.3h0M853.1 371.2h0M870.0 371.2h0M916.3 371.2h0M894.8 371.2h0M887.7 371.1h0M873.0 371.1h0M876.6 371.1h0M815.3 371.0h0M865.4 371.0h0M833.8 370.9h0M821.0 370.8h0M854.0 370.7h0M821.9 370.7h0M825.5 370.7h0M848.7 370.7h0M962.0 370.6h0M897.5 370.5h0M836.7 370.5h0M832.1 370.5h0M903.6 370.4h0M841.8 370.4h0M852.5 370.4h0M806.6 370.3h0M873.6 370.3h0M851.1 370.3h0M863.7 370.2h0M830.8 370.1h0M837.5 370.1h0M875.2 370.1h0M971.8 367.8h0" stroke="#f0f63c" stroke-width="8.10" stroke-linecap="round" fill="none"/><path d="M836.1 370.1h0M866.6 370.0h0M838.2 370.0h0M860.1 369.9h0M881.1 369.9h0M797.9 369.9h0M848.7 369.9h0M834.3 369.9h0M861.3 369.9h0M852.3 369.8h0M857.5 369.7h0M877.4 369.7h0M869.6 369.7h0M796.6 369.7h0M846.1 369.7h0M804.3 369.7h0M819.0 369.6h0M826.4 369.4h0M841.9 369.2h0M884.1 369.2h0M827.9 369.1h0M903.4 369.0h0M852.1 368.8h0M860.7 368.7h0M841.9 368.6h0M862.0 368.6h0M874.6 368.6h0M798.3 368.4h0M926.7 368.3h0M811.5 368.3h0M855.9 368.3h0M894.2 368.2h0M824.7 368.2h0M815.9 368.2h0M843.0 368.0h0M862.6 368.0h0M819.0 367.8h0M895.9 367.7h0M841.4 367.7h0" stroke="#eaf63c" stroke-width="8.10" stroke-linecap="round" fill="none"/><path d="M920.0 368.0h0M819.8 367.7h0M865.0 367.7h0M893.3 367.6h0M836.1 367.2h0M863.9 367.2h0M850.9 367.1h0M848.7 367.0h0M808.5 366.9h0M831.2 366.7h0M865.4 366.7h0M847.4 366.7h0M822.2 366.5h0M859.2 366.5h0M845.8 366.5h0M887.0 366.4h0M851.5 366.3h0M875.8 366.2h0M809.8 366.2h0M809.9 366.1h0M811.1 366.1h0M851.8 366.1h0M864.2 366.0h0M831.2 365.9h0M826.5 365.9h0M824.5 365.8h0M821.6 365.8h0M817.3 365.8h0M840.7 365.8h0M860.2 365.8h0M841.8 365.8h0M842.0 365.6h0M827.2 365.6h0M883.4 365.6h0M842.6 365.4h0M836.3 365.4h0M884.7 365.3h0M809.3 365.3h0M862.8 365.1h0M915.5 365.1h0M918.0 364.9h0M841.8 364.8h0M791.5 364.8h0M824.3 364.7h0M808.4 364.5h0M800.7 364.4h0M872.9 364.3h0M826.0 364.2h0M840.1 364.1h0M855.4 364.0h0M831.6 364.0h0M867.1 363.9h0M825.6 363.9h0M823.7 363.9h0M895.4 363.8h0M840.3 363.7h0M851.9 363.7h0M851.8 363.6h0M842.9 363.6h0M818.5 363.5h0M876.5 363.5h0M862.6 363.4h0M899.4 363.4h0M842.6 363.4h0M807.9 363.3h0M826.0 363.3h0M837.8 363.2h0M912.7 363.2h0M902.3 363.1h0M901.7 363.1h0M845.5 363.0h0M789.3 362.8h0M830.6 362.8h0M894.3 362.8h0M881.1 362.8h0M823.4 362.7h0M813.0 362.7h0M819.0 362.7h0M863.2 362.6h0M896.5 362.6h0M858.1 362.6h0M923.4 362.4h0M830.0 362.4h0M794.2 362.3h0M906.6 362.2h0M847.9 361.9h0M842.4 361.9h0M842.0 361.9h0M800.9 361.9h0" stroke="#eaf03c" stroke-width="8.10" stroke-linecap="round" fill="none"/><path d="M855.5 361.7h0M850.1 361.6h0M866.5 361.6h0M820.5 361.5h0M878.8 361.5h0M843.8 361.5h0M850.8 361.5h0M885.5 361.5h0M871.9 361.5h0M832.9 361.4h0M884.1 361.3h0M812.2 361.2h0M842.9 361.2h0M855.7 361.2h0M848.6 361.1h0M851.9 361.1h0M852.5 361.0h0M924.0 361.0h0M886.8 360.9h0M816.3 360.9h0M872.3 360.9h0M792.4 360.8h0M844.9 360.8h0M913.9 360.8h0M871.3 360.6h0M830.5 360.6h0M853.7 360.4h0M826.2 360.3h0M823.0 360.1h0M846.5 360.1h0M853.4 360.0h0M852.0 360.0h0M831.6 360.0h0M830.7 359.8h0M878.5 359.7h0M861.8 359.7h0M875.4 359.5h0M842.9 359.5h0M895.2 359.5h0M863.8 359.4h0M842.2 359.4h0M845.8 359.4h0M855.3 359.3h0M906.4 359.3h0M910.7 359.2h0M913.8 359.2h0M886.8 359.1h0M820.6 359.1h0M838.5 358.8h0M854.5 358.8h0M858.2 358.8h0M917.4 358.8h0M833.9 358.8h0M813.0 358.7h0M870.7 358.6h0M810.4 358.6h0M883.7 358.5h0M815.2 358.3h0" stroke="#eaf036" stroke-width="8.10" stroke-linecap="round" fill="none"/><path d="M799.7 358.1h0M892.9 358.0h0M863.7 358.0h0M812.9 358.0h0M834.5 357.9h0M825.2 357.8h0M825.3 357.7h0M805.3 357.6h0M870.5 357.4h0M847.0 357.4h0M810.1 357.3h0M827.8 357.2h0M813.1 357.1h0M906.3 356.9h0M877.2 356.8h0M870.9 356.8h0M849.8 356.8h0M855.3 356.5h0M832.2 356.3h0M879.8 356.2h0M833.1 356.2h0M827.6 356.0h0M815.1 356.0h0M846.1 355.9h0M899.7 355.8h0M864.7 355.8h0M831.5 355.7h0M853.4 355.7h0M809.1 355.6h0M863.9 355.6h0M863.0 355.6h0M828.6 355.6h0M840.6 355.5h0M856.6 355.5h0M874.1 355.1h0M814.7 355.1h0M804.4 355.1h0M845.5 355.1h0M814.4 355.0h0M826.9 355.0h0M864.0 355.0h0M811.0 355.0h0M867.4 354.9h0M803.2 354.9h0M803.3 354.9h0M842.5 354.8h0M847.5 354.8h0M855.3 354.7h0M860.2 354.7h0M852.4 354.6h0M881.0 354.6h0M818.2 354.6h0M879.1 354.5h0M870.2 354.4h0M876.4 354.4h0M823.5 354.3h0M821.6 354.2h0M797.8 354.0h0M934.0 354.0h0M884.5 353.8h0M851.2 353.6h0M838.4 353.6h0M853.9 353.2h0M822.4 353.2h0M898.2 353.2h0M805.2 353.2h0M862.9 353.2h0M896.1 353.1h0M794.1 353.1h0M883.9 353.1h0M886.4 352.8h0M901.7 352.7h0M897.2 352.7h0M867.8 352.6h0M820.9 352.6h0M871.7 352.5h0M879.6 352.5h0M892.3 352.1h0M897.6 352.1h0M858.1 352.1h0M914.0 352.0h0M925.0 352.0h0M866.1 352.0h0M841.0 351.9h0M854.1 351.8h0M862.6 351.7h0M818.3 351.7h0M826.9 351.6h0M808.3 351.5h0M873.3 351.5h0M812.4 351.4h0M855.3 351.4h0M884.6 351.4h0M861.9 351.3h0M891.5 351.2h0M807.9 351.1h0M842.3 350.9h0M807.1 350.9h0M879.4 350.8h0M848.1 350.7h0M913.0 346.0h0" stroke="#eaea36" stroke-width="8.10" stroke-linecap="round" fill="none"/><path d="M816.7 350.4h0M885.4 350.4h0M869.3 350.2h0M928.0 345.0h0" stroke="#e4ea36" stroke-width="8.10" stroke-linecap="round" fill="none"/><path d="M828.6 349.9h0M875.7 349.7h0M843.6 349.4h0M827.8 348.9h0M863.4 348.7h0M841.8 348.6h0M817.7 348.6h0M834.0 348.4h0M862.8 348.3h0M872.4 347.9h0M831.3 347.9h0M830.1 347.9h0M841.8 347.4h0M876.9 347.3h0M839.5 347.2h0M876.5 347.2h0M858.6 347.1h0M883.1 347.1h0M813.4 347.0h0M789.7 346.9h0M850.3 346.9h0M828.9 346.7h0M875.7 346.4h0M817.5 346.4h0M892.0 346.2h0M835.4 346.2h0M844.8 346.2h0M840.5 346.1h0M876.6 346.0h0M836.3 345.9h0M884.7 345.9h0M861.7 345.7h0M863.3 345.4h0M855.2 345.3h0M859.3 345.3h0M873.1 345.3h0M829.4 345.1h0M846.3 344.7h0M872.6 344.7h0M855.6 344.6h0M883.8 344.5h0M885.5 344.3h0M884.1 344.2h0M811.9 344.0h0M776.0 344.0h0M830.6 343.9h0M791.6 343.9h0M862.2 343.8h0M845.7 343.7h0M849.6 343.1h0M778.0 338.0h0" stroke="#e4e436" stroke-width="8.10" stroke-linecap="round" fill="none"/><path d="M852.4 342.5h0M827.4 342.3h0M856.4 342.0h0M877.6 341.8h0M883.7 341.7h0M807.7 341.6h0M842.8 341.6h0M846.6 341.4h0M883.6 341.3h0M832.1 341.3h0M885.5 340.7h0M832.5 340.4h0M803.5 339.9h0M850.5 339.5h0M837.5 339.3h0M863.5 339.3h0M881.3 338.7h0M801.0 338.2h0M877.7 337.2h0M839.3 336.5h0M836.9 336.5h0M838.1 336.5h0M847.8 336.3h0M848.4 336.3h0M863.9 336.1h0" stroke="#e4de36" stroke-width="8.10" stroke-linecap="round" fill="none"/><path d="M848.9 335.8h0M821.7 335.4h0M826.0 335.3h0M861.5 335.3h0M822.2 335.1h0M802.7 334.9h0M826.1 334.8h0M838.7 334.8h0M856.6 334.7h0M797.4 334.2h0M855.5 334.2h0M804.5 333.9h0M866.6 333.9h0M855.7 333.8h0M795.4 333.2h0M864.9 333.2h0M847.7 332.9h0M841.0 332.8h0M845.2 332.1h0M866.4 332.1h0" stroke="#e4d836" stroke-width="8.10" stroke-linecap="round" fill="none"/><path d="M848.8 331.9h0M842.9 331.3h0M854.5 331.3h0M817.8 330.7h0M834.8 330.4h0M853.8 330.3h0" stroke="#ded836" stroke-width="8.10" stroke-linecap="round" fill="none"/><path d="M824.3 328.6h0M846.1 328.4h0M860.2 327.8h0M803.8 327.3h0M826.8 325.5h0M796.6 325.2h0M795.6 323.4h0" stroke="#ded236" stroke-width="8.10" stroke-linecap="round" fill="none"/><path d="M810.6 320.1h0M832.5 319.1h0M833.2 316.3h0M768.0 316.0h0" stroke="#decc30" stroke-width="8.10" stroke-linecap="round" fill="none"/><path d="M788.9 314.2h0M785.4 312.8h0M829.5 312.7h0" stroke="#d8c630" stroke-width="8.10" stroke-linecap="round" fill="none"/><path d="M847.1 317.1h0M858.8 315.4h0M833.0 314.4h0M829.7 313.7h0M844.6 313.4h0M855.1 313.2h0M863.6 313.1h0M881.0 309.4h0M779.3 306.2h0M888.6 305.2h0M894.8 303.4h0M788.2 303.2h0M810.2 301.1h0" stroke="#d8c030" stroke-width="8.10" stroke-linecap="round" fill="none"/><path d="M844.8 311.6h0M788.6 311.4h0M830.7 310.0h0M822.4 309.0h0M815.1 306.5h0M870.6 306.4h0M839.6 305.9h0M855.7 305.8h0M786.8 297.0h0M805.4 297.0h0M817.8 297.0h0M854.9 292.4h0M897.6 292.4h0M777.6 290.8h0M792.7 289.4h0" stroke="#d8ba30" stroke-width="8.10" stroke-linecap="round" fill="none"/><path d="M815.0 303.9h0M832.5 303.9h0M803.2 303.8h0M824.0 301.5h0M794.0 296.2h0M802.4 287.3h0M816.4 286.9h0M811.6 283.2h0M798.5 282.5h0M830.2 281.8h0" stroke="#d2b430" stroke-width="8.10" stroke-linecap="round" fill="none"/><path d="M854.8 294.8h0M824.0 277.4h0M852.8 275.7h0" stroke="#d2ae30" stroke-width="8.10" stroke-linecap="round" fill="none"/><path d="M838.1 271.8h0M786.8 271.5h0" stroke="#d2ae2a" stroke-width="8.10" stroke-linecap="round" fill="none"/><path d="M786.8 268.0h0M876.2 264.9h0M786.8 264.6h0M792.0 257.8h0" stroke="#d2a82a" stroke-width="8.10" stroke-linecap="round" fill="none"/><path d="M816.7 253.2h0" stroke="#cca22a" stroke-width="8.10" stroke-linecap="round" fill="none"/><path d="M788.9 236.5h0" stroke="#cc9c2a" stroke-width="8.10" stroke-linecap="round" fill="none"/><path d="M823.5 233.4h0" stroke="#cc962a" stroke-width="8.10" stroke-linecap="round" fill="none"/><path d="M828.1 217.6h0" stroke="#c6902a" stroke-width="8.10" stroke-linecap="round" fill="none"/>
<circle cx="804.5" cy="103.5" r="3.6" fill="#7a0e0a"/>
<circle cx="855.4" cy="138.2" r="3.6" fill="#8e2a12"/>
<line x1="641.5" y1="386.6" x2="1045.7" y2="386.6" stroke="#222" stroke-width="1.6" stroke-dasharray="10.5 5.5"/>
<g stroke="#b5b5b5" stroke-width="1"><line x1="754.1" y1="293" x2="788.1" y2="301.2"/><line x1="876.5" y1="295.5" x2="864.9" y2="313"/><line x1="896.1" y1="339.5" x2="857.6" y2="359.7"/><line x1="958.5" y1="335" x2="909.9" y2="371.6"/><line x1="952" y1="418.4" x2="897" y2="403.7"/><line x1="875.9" y1="422" x2="893.4" y2="402.8"/><line x1="793" y1="418.2" x2="840" y2="408"/></g>
<g font-size="20.3"><text x="739.3" y="102">CCR6</text><text x="830.6" y="128.7">CCL13</text><text x="836.9" y="259.2">MMP12</text><text x="861.8" y="289.7">S100B</text><text x="717.1" y="297">IL6</text><text x="882.9" y="335.5">IRF1</text><text x="962.7" y="342.7">IDH1</text><text x="959.4" y="423">CXCR4</text><text x="714.6" y="425.8">SMAD9</text><text x="822" y="440.4">SLC4A4</text></g>
<rect x="641.5" y="61.6" width="404.20000000000005" height="382.59999999999997" fill="none" stroke="#5a5a5a" stroke-width="1.3"/>
<g stroke="#5a5a5a" stroke-width="1.3"><line x1="652.5" y1="444.2" x2="652.5" y2="448.7"/><line x1="734.8" y1="444.2" x2="734.8" y2="448.7"/><line x1="817.1" y1="444.2" x2="817.1" y2="448.7"/><line x1="899.4" y1="444.2" x2="899.4" y2="448.7"/><line x1="981.7" y1="444.2" x2="981.7" y2="448.7"/><line x1="637.0" y1="386.6" x2="641.5" y2="386.6"/><line x1="637.0" y1="280.9" x2="641.5" y2="280.9"/><line x1="637.0" y1="175.2" x2="641.5" y2="175.2"/><line x1="637.0" y1="69.4" x2="641.5" y2="69.4"/></g>
<g font-size="21" fill="#383838"><text x="630.6" y="392.6" text-anchor="end">0</text><text x="630.6" y="286.9" text-anchor="end">4</text><text x="630.6" y="181.2" text-anchor="end">8</text><text x="630.6" y="75.4" text-anchor="end">12</text><text x="652.5" y="471" text-anchor="middle">−5</text><text x="734.8" y="471" text-anchor="middle">0</text><text x="817.1" y="471" text-anchor="middle">5</text><text x="899.4" y="471" text-anchor="middle">10</text><text x="981.7" y="471" text-anchor="middle">15</text></g>
<text x="852" y="490" font-size="21.4" text-anchor="middle">log2(baseMean)</text>
<text transform="translate(601.3,230.3) rotate(-90)" font-size="21.7" text-anchor="middle">Log2 Fold Change</text>
<rect x="1083.3" y="192.4" width="16.8" height="81.7" fill="url(#cbBu)"/>
<rect x="1083.3" y="283.2" width="16.8" height="80.2" fill="url(#cbBl)"/>
<g stroke="#fff" stroke-width="1.2"><line x1="1083.3" y1="197.6" x2="1086.6" y2="197.6"/><line x1="1096.8" y1="197.6" x2="1100.1" y2="197.6"/><line x1="1083.3" y1="216.5" x2="1086.6" y2="216.5"/><line x1="1096.8" y1="216.5" x2="1100.1" y2="216.5"/><line x1="1083.3" y1="235.4" x2="1086.6" y2="235.4"/><line x1="1096.8" y1="235.4" x2="1100.1" y2="235.4"/><line x1="1083.3" y1="254.3" x2="1086.6" y2="254.3"/><line x1="1096.8" y1="254.3" x2="1100.1" y2="254.3"/><line x1="1083.3" y1="309.3" x2="1086.6" y2="309.3"/><line x1="1096.8" y1="309.3" x2="1100.1" y2="309.3"/><line x1="1083.3" y1="336.8" x2="1086.6" y2="336.8"/><line x1="1096.8" y1="336.8" x2="1100.1" y2="336.8"/><line x1="1083.3" y1="357.9" x2="1086.6" y2="357.9"/><line x1="1096.8" y1="357.9" x2="1100.1" y2="357.9"/></g>
<g font-size="15.2" letter-spacing="0.4"><text x="1106" y="200.7">10.0</text><text x="1106" y="220">7.5</text><text x="1106" y="238.8">5.0</text><text x="1106" y="257.7">2.5</text><text x="1106" y="312.4">-0.5</text><text x="1106" y="335.9">-1.0</text><text x="1106" y="360.6">-1.5</text></g>
<text transform="translate(1074.5,286.4) rotate(-90)" font-size="15.9" text-anchor="middle">Shrinked (log2FC)</text>
<text x="1161.6" y="26" font-size="32">C.</text>
<text x="1367.4" y="82.2" font-size="21.1" text-anchor="middle">CCL20</text>
<rect x="1280.2" y="292.9" width="27.9" height="94.3" fill="#876ba8" stroke="#4f3070" stroke-width="1.8"/>
<rect x="1326.9" y="308.3" width="28.6" height="78.9" fill="#b5a9c6" stroke="#9275b8" stroke-width="1.3"/>
<g stroke="#4a2e6b" stroke-width="1.6"><line x1="1294.2" y1="234.7" x2="1294.2" y2="348"/><line x1="1286.1" y1="234.7" x2="1302.2" y2="234.7"/><line x1="1286.1" y1="348" x2="1302.2" y2="348"/></g>
<g stroke="#9275b8" stroke-width="1.3"><line x1="1341.2" y1="246.7" x2="1341.2" y2="365.9"/><line x1="1333" y1="246.7" x2="1349.4" y2="246.7"/><line x1="1333" y1="365.9" x2="1349.4" y2="365.9"/></g>
<g fill="#6a3f96"><circle cx="1294" cy="196.8" r="5.6"/><circle cx="1283.1" cy="271.6" r="5.6"/><circle cx="1304.7" cy="271.6" r="5.6"/><circle cx="1283.1" cy="326" r="5.6"/><circle cx="1304.7" cy="326.8" r="5.6"/><circle cx="1294" cy="354.3" r="5.6"/></g>
<g fill="#6e5a8a"><rect x="1324.9" y="237.0" width="11.2" height="11.2"/><rect x="1346.5" y="237.0" width="11.2" height="11.2"/><rect x="1324.9" y="298.5" width="11.2" height="11.2"/><rect x="1346.5" y="291.8" width="11.2" height="11.2"/><rect x="1324.9" y="370.0" width="11.2" height="11.2"/><rect x="1346.5" y="368.8" width="11.2" height="11.2"/></g>
<line x1="1380.4" y1="374.7" x2="1396.3" y2="374.7" stroke="#1b3f55" stroke-width="1.6"/><polygon points="1382.9,369.4 1393.9,369.4 1388.4,359.6" fill="#1b3f55"/><polygon points="1372.5,387.9 1383.5,387.9 1378.0,378.1" fill="#1b3f55"/><polygon points="1377.5,387.9 1388.5,387.9 1383.0,378.1" fill="#1b3f55"/><polygon points="1382.9,387.9 1393.9,387.9 1388.4,378.1" fill="#1b3f55"/><polygon points="1388.0,387.9 1399.0,387.9 1393.5,378.1" fill="#1b3f55"/><polygon points="1393.5,387.9 1404.5,387.9 1399.0,378.1" fill="#1b3f55"/><rect x="1372.5" y="383" width="32" height="5.5" fill="#1b3f55"/>
<polygon points="1419.5,377.1 1430.5,377.1 1425.0,386.9" fill="#6a8c97"/><polygon points="1427.5,374.1 1438.5,374.1 1433.0,383.9" fill="#6a8c97"/><polygon points="1435.5,377.1 1446.5,377.1 1441.0,386.9" fill="#6a8c97"/><polygon points="1441.5,376.1 1452.5,376.1 1447.0,385.9" fill="#6a8c97"/><polygon points="1430.5,379.1 1441.5,379.1 1436.0,388.9" fill="#6a8c97"/>
<polygon points="1466.5,384.5 1473.0,378.0 1479.5,384.5 1473.0,391.0" fill="#cfdadb"/><polygon points="1474.5,384.5 1481.0,378.0 1487.5,384.5 1481.0,391.0" fill="#cfdadb"/><polygon points="1482.5,384.0 1489.0,377.5 1495.5,384.0 1489.0,390.5" fill="#cfdadb"/><polygon points="1476.5,386.0 1483.0,379.5 1489.5,386.0 1483.0,392.5" fill="#cfdadb"/><polygon points="1487.5,384.5 1494.0,378.0 1500.5,384.5 1494.0,391.0" fill="#cfdadb"/>
<g stroke="#000" stroke-width="1.6" fill="none"><line x1="1262.6" y1="176" x2="1262.6" y2="429.2"/><line x1="1262.6" y1="429.2" x2="1516" y2="429.2"/><line x1="1262.6" y1="387.2" x2="1516" y2="387.2"/></g>
<g stroke="#000" stroke-width="1.5"><line x1="1251.4" y1="176.9" x2="1262.6" y2="176.9"/><line x1="1251.4" y1="219.0" x2="1262.6" y2="219.0"/><line x1="1251.4" y1="261.0" x2="1262.6" y2="261.0"/><line x1="1251.4" y1="303.1" x2="1262.6" y2="303.1"/><line x1="1251.4" y1="345.1" x2="1262.6" y2="345.1"/><line x1="1251.4" y1="387.2" x2="1262.6" y2="387.2"/><line x1="1251.4" y1="429.3" x2="1262.6" y2="429.3"/><line x1="1294" y1="429.2" x2="1294" y2="432.4"/><line x1="1340.9" y1="429.2" x2="1340.9" y2="432.4"/><line x1="1388.1" y1="429.2" x2="1388.1" y2="432.4"/><line x1="1435.5" y1="429.2" x2="1435.5" y2="432.4"/><line x1="1482.7" y1="429.2" x2="1482.7" y2="432.4"/></g>
<g font-size="18.4" font-weight="bold"><text x="1248.8" y="183.5" text-anchor="end">10</text><text x="1248.8" y="225.6" text-anchor="end">8</text><text x="1248.8" y="267.6" text-anchor="end">6</text><text x="1248.8" y="309.7" text-anchor="end">4</text><text x="1248.8" y="351.7" text-anchor="end">2</text><text x="1248.8" y="393.8" text-anchor="end">0</text><text x="1248.8" y="435.9" text-anchor="end">-2</text></g>
<text x="1267.8" y="154.2" font-size="20.8">p = 0.9548</text>
<line x1="1293.6" y1="166.5" x2="1341.6" y2="166.5" stroke="#000" stroke-width="1.3"/>
<text transform="translate(1215,312.2) rotate(-90)" font-size="21.15" text-anchor="middle">Extracellular levels (pg/mL)</text>
<text x="1517.3" y="26" font-size="32">D.</text>
<text x="1747.8" y="82.2" font-size="21.1" text-anchor="middle">CCL13</text>
<rect x="1632.7" y="325.4" width="28" height="104.2" fill="#876ba8" stroke="#4f3070" stroke-width="1.8"/>
<g stroke="#4a2e6b" stroke-width="1.6"><line x1="1646.3" y1="233.8" x2="1646.3" y2="413.8"/><line x1="1638.4" y1="233.8" x2="1654.7" y2="233.8"/><line x1="1638.4" y1="413.8" x2="1654.7" y2="413.8"/></g>
<g fill="#6a3f96"><circle cx="1635.7" cy="213" r="5.6"/><circle cx="1657.6" cy="204.8" r="5.6"/><circle cx="1646.3" cy="360.3" r="5.6"/><circle cx="1646.3" cy="370.8" r="5.6"/><circle cx="1657.4" cy="393.2" r="5.6"/><circle cx="1635.7" cy="399.8" r="5.6"/></g>
<rect x="1677.1" y="421.7" width="32.4" height="7.9" fill="#6e5a8a"/>
<polygon points="1726.0,429.5 1736.0,429.5 1731.0,420.5" fill="#1b3f55"/><polygon points="1732.0,429.5 1742.0,429.5 1737.0,420.5" fill="#1b3f55"/><polygon points="1738.0,429.5 1748.0,429.5 1743.0,420.5" fill="#1b3f55"/><polygon points="1744.0,429.5 1754.0,429.5 1749.0,420.5" fill="#1b3f55"/><polygon points="1748.0,429.5 1758.0,429.5 1753.0,420.5" fill="#1b3f55"/><polygon points="1737.0,427.4 1745.0,427.4 1741.0,434.6" fill="#1b3f55"/>
<polygon points="1773.0,421.0 1783.0,421.0 1778.0,430.0" fill="#6a8c97"/><polygon points="1781.0,421.0 1791.0,421.0 1786.0,430.0" fill="#6a8c97"/><polygon points="1789.0,421.0 1799.0,421.0 1794.0,430.0" fill="#6a8c97"/><polygon points="1795.0,421.0 1805.0,421.0 1800.0,430.0" fill="#6a8c97"/><rect x="1773" y="421.5" width="31" height="6" fill="#6a8c97"/>
<polygon points="1819.5,426.5 1824.0,422.0 1828.5,426.5 1824.0,431.0" fill="#cfdadb"/><polygon points="1826.5,426.5 1831.0,422.0 1835.5,426.5 1831.0,431.0" fill="#cfdadb"/><polygon points="1833.5,426.5 1838.0,422.0 1842.5,426.5 1838.0,431.0" fill="#cfdadb"/><polygon points="1840.5,426.5 1845.0,422.0 1849.5,426.5 1845.0,431.0" fill="#cfdadb"/>
<g stroke="#000" stroke-width="1.6" fill="none"><line x1="1615.2" y1="176" x2="1615.2" y2="429.6"/><line x1="1615.2" y1="429.6" x2="1868.5" y2="429.6"/></g>
<g stroke="#000" stroke-width="1.5"><line x1="1604" y1="176.7" x2="1615.2" y2="176.7"/><line x1="1604" y1="261.0" x2="1615.2" y2="261.0"/><line x1="1604" y1="345.3" x2="1615.2" y2="345.3"/><line x1="1604" y1="429.6" x2="1615.2" y2="429.6"/><line x1="1646.3" y1="429.6" x2="1646.3" y2="432.8"/><line x1="1693.2" y1="429.6" x2="1693.2" y2="432.8"/><line x1="1740.4" y1="429.6" x2="1740.4" y2="432.8"/><line x1="1787.8" y1="429.6" x2="1787.8" y2="432.8"/><line x1="1835.3" y1="429.6" x2="1835.3" y2="432.8"/></g>
<g font-size="18.4" font-weight="bold"><text x="1601.5" y="183.3" text-anchor="end">300</text><text x="1601.5" y="267.6" text-anchor="end">200</text><text x="1601.5" y="351.9" text-anchor="end">100</text><text x="1601.5" y="436.2" text-anchor="end">0</text></g>
<text x="1620.7" y="162.1" font-size="20.8">p = 0.0013</text>
<line x1="1646.8" y1="174.5" x2="1694.5" y2="174.5" stroke="#000" stroke-width="1.3"/>
<text transform="translate(1556,312) rotate(-90)" font-size="21.15" text-anchor="middle">Extracellular levels (pg/mL)</text>
<text x="1852.4" y="26.4" font-size="19.2">Group</text>
<rect x="1851.9" y="39.5" width="19.2" height="25.9" fill="#cfdadb"/>
<text x="1879.5" y="60.1" font-size="18.5">HIV HI-NO</text>
<rect x="1851.9" y="68.5" width="19.2" height="25.9" fill="#6a8c97"/>
<text x="1879.5" y="89.1" font-size="18.5">mock-NO</text>
<rect x="1851.9" y="97.5" width="19.2" height="25.9" fill="#1b3c4e"/>
<text x="1879.5" y="118.1" font-size="18.5">HIV-NO</text>
<rect x="1851.9" y="126.5" width="19.2" height="25.9" fill="#8a6baa"/>
<text x="1879.5" y="147.1" font-size="18.5">mock-MNO</text>
<rect x="1851.9" y="155.5" width="19.2" height="25.9" fill="#643a8c"/>
<text x="1879.5" y="176.1" font-size="18.5">HIV-MNO</text>
<text x="3" y="554" font-size="32">E.</text>
<g stroke="#ebebeb" stroke-width="1.3"><line x1="633.7" y1="554.0" x2="720.3" y2="554.0"/><line x1="633.7" y1="576.6" x2="720.3" y2="576.6"/><line x1="633.7" y1="599.3" x2="720.3" y2="599.3"/><line x1="633.7" y1="622.0" x2="720.3" y2="622.0"/><line x1="633.7" y1="644.6" x2="720.3" y2="644.6"/><line x1="633.7" y1="667.2" x2="720.3" y2="667.2"/><line x1="633.7" y1="689.9" x2="720.3" y2="689.9"/><line x1="633.7" y1="712.5" x2="720.3" y2="712.5"/><line x1="633.7" y1="735.2" x2="720.3" y2="735.2"/><line x1="633.7" y1="757.9" x2="720.3" y2="757.9"/><line x1="633.7" y1="780.5" x2="720.3" y2="780.5"/><line x1="633.7" y1="803.1" x2="720.3" y2="803.1"/><line x1="633.7" y1="825.8" x2="720.3" y2="825.8"/><line x1="633.7" y1="848.5" x2="720.3" y2="848.5"/><line x1="633.7" y1="871.1" x2="720.3" y2="871.1"/><line x1="633.7" y1="893.8" x2="720.3" y2="893.8"/><line x1="633.7" y1="916.4" x2="720.3" y2="916.4"/><line x1="633.7" y1="939.0" x2="720.3" y2="939.0"/><line x1="633.7" y1="961.7" x2="720.3" y2="961.7"/><line x1="633.7" y1="984.3" x2="720.3" y2="984.3"/><line x1="633.7" y1="1007.0" x2="720.3" y2="1007.0"/><line x1="633.7" y1="1029.7" x2="720.3" y2="1029.7"/><line x1="633.7" y1="1052.3" x2="720.3" y2="1052.3"/><line x1="633.7" y1="1074.9" x2="720.3" y2="1074.9"/><line x1="657" y1="541.1" x2="657" y2="1088"/><line x1="697" y1="541.1" x2="697" y2="1088"/></g>
<circle cx="697" cy="554.0" r="5.9" fill="#6a9ab5"/><circle cx="657" cy="576.6" r="11.5" fill="#1c3a6a"/><circle cx="697" cy="576.6" r="3.7" fill="#5f93ae"/><circle cx="657" cy="599.3" r="10.7" fill="#1f3e6e"/><circle cx="657" cy="622.0" r="7.8" fill="#1e3f6e"/><circle cx="657" cy="644.6" r="9.6" fill="#22426f"/><circle cx="657" cy="667.2" r="8.9" fill="#2d5283"/><circle cx="697" cy="667.2" r="4.8" fill="#4e80a3"/><circle cx="657" cy="689.9" r="10" fill="#30578a"/><circle cx="657" cy="712.5" r="11.8" fill="#345c8c"/><circle cx="657" cy="735.2" r="9.6" fill="#365f8f"/><circle cx="657" cy="757.9" r="8.9" fill="#3f6994"/><circle cx="697" cy="757.9" r="2.6" fill="#5f93ae"/><circle cx="657" cy="780.5" r="9.2" fill="#436d99"/><circle cx="657" cy="803.1" r="9.2" fill="#46719b"/><circle cx="657" cy="825.8" r="9.2" fill="#47729c"/><circle cx="657" cy="848.5" r="8.9" fill="#4a759e"/><circle cx="697" cy="848.5" r="3.7" fill="#5f93ae"/><circle cx="657" cy="871.1" r="7.8" fill="#4d79a0"/><circle cx="697" cy="871.1" r="3.0" fill="#5f93ae"/><circle cx="657" cy="893.8" r="7.8" fill="#527ea3"/><circle cx="657" cy="916.4" r="8.1" fill="#5481a5"/><circle cx="657" cy="939.0" r="8.1" fill="#5785a8"/><circle cx="697" cy="939.0" r="4.4" fill="#5a8fae"/><circle cx="657" cy="961.7" r="7.8" fill="#5b8aab"/><circle cx="657" cy="984.3" r="7.4" fill="#5e8eae"/><circle cx="657" cy="1007.0" r="5.9" fill="#6090b0"/><circle cx="657" cy="1029.7" r="7.4" fill="#6394b2"/><circle cx="657" cy="1052.3" r="8.1" fill="#6598b5"/><circle cx="657" cy="1074.9" r="7.8" fill="#689bb7"/>
<rect x="633.7" y="541.1" width="86.59999999999991" height="546.9" fill="none" stroke="#333" stroke-width="1.3"/>
<g stroke="#222" stroke-width="1.9"><line x1="629" y1="554.0" x2="633.7" y2="554.0"/><line x1="629" y1="576.6" x2="633.7" y2="576.6"/><line x1="629" y1="599.3" x2="633.7" y2="599.3"/><line x1="629" y1="622.0" x2="633.7" y2="622.0"/><line x1="629" y1="644.6" x2="633.7" y2="644.6"/><line x1="629" y1="667.2" x2="633.7" y2="667.2"/><line x1="629" y1="689.9" x2="633.7" y2="689.9"/><line x1="629" y1="712.5" x2="633.7" y2="712.5"/><line x1="629" y1="735.2" x2="633.7" y2="735.2"/><line x1="629" y1="757.9" x2="633.7" y2="757.9"/><line x1="629" y1="780.5" x2="633.7" y2="780.5"/><line x1="629" y1="803.1" x2="633.7" y2="803.1"/><line x1="629" y1="825.8" x2="633.7" y2="825.8"/><line x1="629" y1="848.5" x2="633.7" y2="848.5"/><line x1="629" y1="871.1" x2="633.7" y2="871.1"/><line x1="629" y1="893.8" x2="633.7" y2="893.8"/><line x1="629" y1="916.4" x2="633.7" y2="916.4"/><line x1="629" y1="939.0" x2="633.7" y2="939.0"/><line x1="629" y1="961.7" x2="633.7" y2="961.7"/><line x1="629" y1="984.3" x2="633.7" y2="984.3"/><line x1="629" y1="1007.0" x2="633.7" y2="1007.0"/><line x1="629" y1="1029.7" x2="633.7" y2="1029.7"/><line x1="629" y1="1052.3" x2="633.7" y2="1052.3"/><line x1="629" y1="1074.9" x2="633.7" y2="1074.9"/></g>
<g font-size="21.5"><text x="622.3" y="560.3" text-anchor="end">Prolactin signaling pathway</text><text x="622.3" y="582.9" text-anchor="end">Antigen processing and presentation</text><text x="622.3" y="605.6" text-anchor="end">Hematopoietic cell lineage</text><text x="622.3" y="628.2" text-anchor="end">Cytokine−cytokine receptor interaction</text><text x="622.3" y="650.9" text-anchor="end">Cell adhesion molecules</text><text x="622.3" y="673.5" text-anchor="end">NOD−like receptor signaling pathway</text><text x="622.3" y="696.2" text-anchor="end">Viral protein interaction with cytokine and cytokine receptor</text><text x="622.3" y="718.8" text-anchor="end">Intestinal immune network for IgA production</text><text x="622.3" y="741.5" text-anchor="end">NF−kappa B signaling pathway</text><text x="622.3" y="764.1" text-anchor="end">Osteoclast differentiation</text><text x="622.3" y="786.8" text-anchor="end">Toll−like receptor signaling pathway</text><text x="622.3" y="809.4" text-anchor="end">Th17 cell differentiation</text><text x="622.3" y="832.1" text-anchor="end">Th1 and Th2 cell differentiation</text><text x="622.3" y="854.8" text-anchor="end">TNF signaling pathway</text><text x="622.3" y="877.4" text-anchor="end">JAK−STAT signaling pathway</text><text x="622.3" y="900.0" text-anchor="end">Natural killer cell mediated cytotoxicity</text><text x="622.3" y="922.7" text-anchor="end">Leukocyte transendothelial migration</text><text x="622.3" y="945.3" text-anchor="end">C−type lectin receptor signaling pathway</text><text x="622.3" y="968.0" text-anchor="end">Complement and coagulation cascades</text><text x="622.3" y="990.6" text-anchor="end">IL−17 signaling pathway</text><text x="622.3" y="1013.3" text-anchor="end">Chemokine signaling pathway</text><text x="622.3" y="1036.0" text-anchor="end">B cell receptor signaling pathway</text><text x="622.3" y="1058.6" text-anchor="end">Glutathione metabolism</text><text x="622.3" y="1081.2" text-anchor="end">Cytosolic DNA−sensing pathway</text></g>
<text transform="translate(667.5,1102.5) rotate(-45)" font-size="22" text-anchor="end">MNO</text>
<text transform="translate(701,1106.5) rotate(-45)" font-size="22" text-anchor="end">NO</text>
<text x="45.5" y="787.1" font-size="21.6">−log10(padj)</text>
<circle cx="59.2" cy="811.4" r="4.1" fill="#6a9db8"/><text x="82.1" y="819.0" font-size="21.4">3</text>
<circle cx="59.2" cy="839.2" r="4.1" fill="#4e7fa5"/><text x="82.1" y="846.8" font-size="21.4">6</text>
<circle cx="59.2" cy="867.3" r="4.1" fill="#33598a"/><text x="82.1" y="874.9" font-size="21.4">9</text>
<circle cx="59.2" cy="895.8" r="4.1" fill="#1c3a6a"/><text x="82.1" y="903.4" font-size="21.4">12</text>
<text x="45.5" y="959.4" font-size="21.6">Gene Overlap(%)</text>
<circle cx="59.2" cy="983.5" r="6.3" fill="#bebebe"/><text x="82.1" y="991.1" font-size="21.4">5</text>
<circle cx="59.2" cy="1011.6" r="8.1" fill="#bebebe"/><text x="82.1" y="1019.2" font-size="21.4">10</text>
<circle cx="59.2" cy="1039.7" r="9.6" fill="#bebebe"/><text x="82.1" y="1047.3" font-size="21.4">15</text>
<circle cx="59.2" cy="1067.5" r="11.1" fill="#bebebe"/><text x="82.1" y="1075.1" font-size="21.4">20</text>
<text x="2.2" y="1177.2" font-size="32">F.</text>
<defs><clipPath id="vennclip"><circle cx="171.4" cy="1279" r="87.3"/></clipPath></defs>
<circle cx="171.4" cy="1279" r="87.3" fill="#bcabcd"/>
<circle cx="98" cy="1282" r="43.7" fill="#8fa8b9"/>
<circle cx="98" cy="1282" r="43.7" fill="#7b77a3" clip-path="url(#vennclip)"/>
<g font-size="21" text-anchor="middle"><text x="70.1" y="1286.8">4</text><text x="109.1" y="1286.8">7</text><text x="192.6" y="1281.5">81</text></g>
<text x="39.8" y="1236.8" font-size="21.8" font-weight="bold" fill="#2d5a7b">NO</text>
<text x="208.6" y="1381.9" font-size="21.8" font-weight="bold" fill="#5a2d8a">MNO</text>
<line x1="244.7" y1="1295.4" x2="297" y2="1300.6" stroke="#000" stroke-width="1.5"/>
<polygon points="304.1,1301.3 288.5,1295.5 292.5,1300.3 287.5,1305" fill="#000"/>
<g shape-rendering="crispEdges"><path fill="#a8de48" d="M361.5 1236.60h53.7v6.64h-53.7zM430.2 1236.60h32.4v6.64h-32.4zM472.9 1236.60h21.7v6.64h-21.7zM498.4 1236.60h32.4v6.64h-32.4zM541.1 1236.60h11.1v6.64h-11.1zM566.7 1236.60h11.1v6.64h-11.1zM588.0 1236.60h21.7v6.64h-21.7zM361.5 1242.84h64.4v6.64h-64.4zM430.2 1242.84h21.7v6.64h-21.7zM472.9 1242.84h21.7v6.64h-21.7zM498.4 1242.84h64.4v6.64h-64.4zM372.2 1249.08h53.7v6.64h-53.7zM430.2 1249.08h43.1v6.64h-43.1zM498.4 1249.08h53.7v6.64h-53.7zM566.7 1249.08h43.1v6.64h-43.1zM577.4 1255.33h32.4v6.64h-32.4zM361.5 1261.57h64.4v6.64h-64.4zM430.2 1261.57h21.7v6.64h-21.7zM462.2 1261.57h32.4v6.64h-32.4zM498.4 1261.57h43.1v6.64h-43.1zM577.4 1261.57h32.4v6.64h-32.4zM372.2 1267.81h11.1v6.64h-11.1zM404.2 1267.81h11.1v6.64h-11.1zM430.2 1267.81h21.7v6.64h-21.7zM462.2 1267.81h32.4v6.64h-32.4zM498.4 1267.81h53.7v6.64h-53.7zM566.7 1267.81h11.1v6.64h-11.1zM588.0 1267.81h21.7v6.64h-21.7zM361.5 1274.05h11.1v6.64h-11.1zM382.8 1274.05h11.1v6.64h-11.1zM404.2 1274.05h21.7v6.64h-21.7zM430.2 1274.05h64.4v6.64h-64.4zM498.4 1274.05h64.4v6.64h-64.4zM566.7 1274.05h43.1v6.64h-43.1zM361.5 1280.29h21.7v6.64h-21.7zM393.5 1280.29h11.1v6.64h-11.1zM414.8 1280.29h11.1v6.64h-11.1zM430.2 1280.29h53.7v6.64h-53.7zM509.1 1280.29h11.1v6.64h-11.1zM541.1 1280.29h11.1v6.64h-11.1zM566.7 1280.29h21.7v6.64h-21.7zM609.4 1280.29h11.1v6.64h-11.1zM361.5 1286.54h32.4v6.64h-32.4zM404.2 1286.54h21.7v6.64h-21.7zM430.2 1286.54h11.1v6.64h-11.1zM451.5 1286.54h11.1v6.64h-11.1zM472.9 1286.54h21.7v6.64h-21.7zM498.4 1286.54h43.1v6.64h-43.1zM566.7 1286.54h43.1v6.64h-43.1zM361.5 1292.78h11.1v6.64h-11.1zM414.8 1292.78h11.1v6.64h-11.1zM430.2 1292.78h64.4v6.64h-64.4zM498.4 1292.78h32.4v6.64h-32.4zM541.1 1292.78h21.7v6.64h-21.7zM566.7 1292.78h64.4v6.64h-64.4zM361.5 1299.02h64.4v6.64h-64.4zM430.2 1299.02h43.1v6.64h-43.1zM483.5 1299.02h11.1v6.64h-11.1zM498.4 1299.02h21.7v6.64h-21.7zM530.4 1299.02h32.4v6.64h-32.4zM566.7 1299.02h11.1v6.64h-11.1zM588.0 1299.02h21.7v6.64h-21.7zM361.5 1305.26h64.4v6.64h-64.4zM430.2 1305.26h64.4v6.64h-64.4zM498.4 1305.26h43.1v6.64h-43.1zM551.7 1305.26h11.1v6.64h-11.1zM588.0 1305.26h21.7v6.64h-21.7zM361.5 1311.50h32.4v6.64h-32.4zM404.2 1311.50h21.7v6.64h-21.7zM430.2 1311.50h11.1v6.64h-11.1zM451.5 1311.50h43.1v6.64h-43.1zM509.1 1311.50h32.4v6.64h-32.4zM551.7 1311.50h11.1v6.64h-11.1zM566.7 1311.50h21.7v6.64h-21.7zM634.9 1311.50h11.1v6.64h-11.1zM440.9 1317.75h11.1v6.64h-11.1zM566.7 1317.75h11.1v6.64h-11.1zM361.5 1323.99h11.1v6.64h-11.1zM382.8 1323.99h11.1v6.64h-11.1zM404.2 1323.99h21.7v6.64h-21.7zM430.2 1323.99h64.4v6.64h-64.4zM498.4 1323.99h53.7v6.64h-53.7zM566.7 1323.99h32.4v6.64h-32.4zM361.5 1330.23h32.4v6.64h-32.4zM414.8 1330.23h11.1v6.64h-11.1zM430.2 1330.23h11.1v6.64h-11.1zM451.5 1330.23h11.1v6.64h-11.1zM472.9 1330.23h21.7v6.64h-21.7zM498.4 1330.23h21.7v6.64h-21.7zM530.4 1330.23h11.1v6.64h-11.1zM551.7 1330.23h11.1v6.64h-11.1zM372.2 1336.47h11.1v6.64h-11.1zM430.2 1336.47h11.1v6.64h-11.1zM451.5 1336.47h21.7v6.64h-21.7zM566.7 1336.47h11.1v6.64h-11.1zM588.0 1336.47h21.7v6.64h-21.7zM361.5 1342.71h21.7v6.64h-21.7zM393.5 1342.71h32.4v6.64h-32.4zM430.2 1342.71h64.4v6.64h-64.4zM498.4 1342.71h64.4v6.64h-64.4zM577.4 1342.71h32.4v6.64h-32.4zM382.8 1348.96h11.1v6.64h-11.1zM566.7 1348.96h43.1v6.64h-43.1zM530.4 1355.20h11.1v6.64h-11.1zM551.7 1355.20h11.1v6.64h-11.1zM588.0 1355.20h21.7v6.64h-21.7zM541.1 1361.44h11.1v6.64h-11.1zM577.4 1361.44h11.1v6.64h-11.1zM361.5 1367.68h64.4v6.64h-64.4zM430.2 1367.68h21.7v6.64h-21.7zM462.2 1367.68h32.4v6.64h-32.4zM519.7 1367.68h43.1v6.64h-43.1zM588.0 1367.68h21.7v6.64h-21.7zM361.5 1373.92h11.1v6.64h-11.1zM382.8 1373.92h32.4v6.64h-32.4zM430.2 1373.92h64.4v6.64h-64.4zM498.4 1373.92h43.1v6.64h-43.1zM551.7 1373.92h11.1v6.64h-11.1zM566.7 1373.92h43.1v6.64h-43.1zM634.9 1373.92h21.7v6.64h-21.7zM361.5 1380.17h32.4v6.64h-32.4zM404.2 1380.17h21.7v6.64h-21.7zM430.2 1380.17h21.7v6.64h-21.7zM462.2 1380.17h32.4v6.64h-32.4zM498.4 1380.17h11.1v6.64h-11.1zM519.7 1380.17h32.4v6.64h-32.4zM588.0 1380.17h21.7v6.64h-21.7zM361.5 1386.41h64.4v6.64h-64.4zM430.2 1386.41h64.4v6.64h-64.4zM509.1 1386.41h21.7v6.64h-21.7zM541.1 1386.41h21.7v6.64h-21.7zM588.0 1386.41h21.7v6.64h-21.7zM382.8 1392.65h11.1v6.64h-11.1zM566.7 1392.65h21.7v6.64h-21.7zM598.7 1392.65h11.1v6.64h-11.1zM361.5 1398.89h64.4v6.64h-64.4zM430.2 1398.89h53.7v6.64h-53.7zM498.4 1398.89h11.1v6.64h-11.1zM519.7 1398.89h21.7v6.64h-21.7zM551.7 1398.89h11.1v6.64h-11.1zM588.0 1398.89h21.7v6.64h-21.7zM361.5 1405.13h11.1v6.64h-11.1zM430.2 1405.13h11.1v6.64h-11.1zM451.5 1405.13h11.1v6.64h-11.1zM472.9 1405.13h11.1v6.64h-11.1zM566.7 1405.13h21.7v6.64h-21.7zM598.7 1405.13h11.1v6.64h-11.1zM440.9 1411.38h11.1v6.64h-11.1zM509.1 1411.38h11.1v6.64h-11.1zM577.4 1411.38h11.1v6.64h-11.1zM634.9 1411.38h11.1v6.64h-11.1zM361.5 1417.62h43.1v6.64h-43.1zM414.8 1417.62h11.1v6.64h-11.1zM430.2 1417.62h64.4v6.64h-64.4zM498.4 1417.62h64.4v6.64h-64.4zM566.7 1417.62h21.7v6.64h-21.7zM634.9 1417.62h11.1v6.64h-11.1zM361.5 1423.86h21.7v6.64h-21.7zM393.5 1423.86h11.1v6.64h-11.1zM519.7 1423.86h11.1v6.64h-11.1zM566.7 1423.86h43.1v6.64h-43.1zM361.5 1430.10h11.1v6.64h-11.1zM382.8 1430.10h43.1v6.64h-43.1zM472.9 1430.10h21.7v6.64h-21.7zM498.4 1430.10h11.1v6.64h-11.1zM519.7 1430.10h43.1v6.64h-43.1zM372.2 1436.34h53.7v6.64h-53.7zM440.9 1436.34h32.4v6.64h-32.4zM483.5 1436.34h11.1v6.64h-11.1zM498.4 1436.34h11.1v6.64h-11.1zM519.7 1436.34h21.7v6.64h-21.7zM551.7 1436.34h11.1v6.64h-11.1zM588.0 1436.34h21.7v6.64h-21.7zM393.5 1442.59h11.1v6.64h-11.1zM566.7 1442.59h11.1v6.64h-11.1zM361.5 1448.83h11.1v6.64h-11.1zM588.0 1448.83h21.7v6.64h-21.7zM361.5 1455.07h21.7v6.64h-21.7zM404.2 1455.07h21.7v6.64h-21.7zM430.2 1455.07h32.4v6.64h-32.4zM472.9 1455.07h21.7v6.64h-21.7zM498.4 1455.07h32.4v6.64h-32.4zM541.1 1455.07h21.7v6.64h-21.7zM566.7 1455.07h21.7v6.64h-21.7zM598.7 1455.07h11.1v6.64h-11.1zM361.5 1461.31h11.1v6.64h-11.1zM382.8 1461.31h21.7v6.64h-21.7zM414.8 1461.31h11.1v6.64h-11.1zM430.2 1461.31h43.1v6.64h-43.1zM483.5 1461.31h11.1v6.64h-11.1zM519.7 1461.31h11.1v6.64h-11.1zM541.1 1461.31h21.7v6.64h-21.7zM577.4 1461.31h11.1v6.64h-11.1zM361.5 1467.55h43.1v6.64h-43.1zM430.2 1467.55h11.1v6.64h-11.1zM462.2 1467.55h32.4v6.64h-32.4zM498.4 1467.55h11.1v6.64h-11.1zM530.4 1467.55h21.7v6.64h-21.7zM566.7 1467.55h11.1v6.64h-11.1zM361.5 1473.80h11.1v6.64h-11.1zM430.2 1473.80h11.1v6.64h-11.1zM509.1 1473.80h11.1v6.64h-11.1zM577.4 1473.80h21.7v6.64h-21.7zM361.5 1480.04h64.4v6.64h-64.4zM430.2 1480.04h64.4v6.64h-64.4zM498.4 1480.04h21.7v6.64h-21.7zM541.1 1480.04h21.7v6.64h-21.7zM566.7 1480.04h43.1v6.64h-43.1zM372.2 1486.28h11.1v6.64h-11.1zM440.9 1486.28h11.1v6.64h-11.1zM530.4 1486.28h11.1v6.64h-11.1zM551.7 1486.28h11.1v6.64h-11.1zM566.7 1486.28h43.1v6.64h-43.1zM361.5 1492.52h21.7v6.64h-21.7zM393.5 1492.52h32.4v6.64h-32.4zM430.2 1492.52h11.1v6.64h-11.1zM451.5 1492.52h43.1v6.64h-43.1zM498.4 1492.52h64.4v6.64h-64.4zM382.8 1498.76h11.1v6.64h-11.1zM519.7 1498.76h11.1v6.64h-11.1zM566.7 1498.76h11.1v6.64h-11.1zM588.0 1498.76h21.7v6.64h-21.7zM361.5 1505.00h21.7v6.64h-21.7zM393.5 1505.00h11.1v6.64h-11.1zM430.2 1505.00h64.4v6.64h-64.4zM498.4 1505.00h11.1v6.64h-11.1zM519.7 1505.00h21.7v6.64h-21.7zM566.7 1505.00h43.1v6.64h-43.1zM541.1 1511.25h11.1v6.64h-11.1zM577.4 1511.25h11.1v6.64h-11.1zM598.7 1511.25h11.1v6.64h-11.1zM361.5 1517.49h11.1v6.64h-11.1zM393.5 1517.49h21.7v6.64h-21.7zM430.2 1517.49h64.4v6.64h-64.4zM498.4 1517.49h43.1v6.64h-43.1zM551.7 1517.49h11.1v6.64h-11.1zM566.7 1517.49h43.1v6.64h-43.1zM361.5 1523.73h21.7v6.64h-21.7zM393.5 1523.73h32.4v6.64h-32.4zM430.2 1523.73h64.4v6.64h-64.4zM498.4 1523.73h64.4v6.64h-64.4zM566.7 1523.73h21.7v6.64h-21.7zM361.5 1529.97h53.7v6.64h-53.7zM440.9 1529.97h32.4v6.64h-32.4zM483.5 1529.97h11.1v6.64h-11.1zM498.4 1529.97h64.4v6.64h-64.4zM361.5 1536.21h11.1v6.64h-11.1zM382.8 1536.21h43.1v6.64h-43.1zM430.2 1536.21h43.1v6.64h-43.1zM483.5 1536.21h11.1v6.64h-11.1zM498.4 1536.21h11.1v6.64h-11.1zM541.1 1536.21h21.7v6.64h-21.7zM566.7 1536.21h11.1v6.64h-11.1zM361.5 1542.46h43.1v6.64h-43.1zM440.9 1542.46h32.4v6.64h-32.4zM519.7 1542.46h32.4v6.64h-32.4zM566.7 1542.46h32.4v6.64h-32.4zM372.2 1548.70h11.1v6.64h-11.1zM414.8 1548.70h11.1v6.64h-11.1zM430.2 1548.70h53.7v6.64h-53.7zM519.7 1548.70h32.4v6.64h-32.4zM566.7 1548.70h21.7v6.64h-21.7zM361.5 1554.94h64.4v6.64h-64.4zM430.2 1554.94h21.7v6.64h-21.7zM462.2 1554.94h21.7v6.64h-21.7zM498.4 1554.94h21.7v6.64h-21.7zM530.4 1554.94h32.4v6.64h-32.4zM566.7 1554.94h21.7v6.64h-21.7zM519.7 1561.18h11.1v6.64h-11.1zM566.7 1561.18h21.7v6.64h-21.7zM598.7 1561.18h32.4v6.64h-32.4zM361.5 1567.42h53.7v6.64h-53.7zM430.2 1567.42h43.1v6.64h-43.1zM498.4 1567.42h32.4v6.64h-32.4zM541.1 1567.42h11.1v6.64h-11.1zM361.5 1573.67h64.4v6.64h-64.4zM440.9 1573.67h53.7v6.64h-53.7zM498.4 1573.67h32.4v6.64h-32.4zM551.7 1573.67h11.1v6.64h-11.1zM588.0 1573.67h11.1v6.64h-11.1zM361.5 1579.91h53.7v6.64h-53.7zM430.2 1579.91h11.1v6.64h-11.1zM451.5 1579.91h32.4v6.64h-32.4zM498.4 1579.91h43.1v6.64h-43.1zM645.6 1579.91h11.1v6.64h-11.1zM382.8 1586.15h11.1v6.64h-11.1zM541.1 1586.15h11.1v6.64h-11.1zM566.7 1586.15h43.1v6.64h-43.1zM404.2 1592.39h11.1v6.64h-11.1zM440.9 1592.39h11.1v6.64h-11.1zM498.4 1592.39h11.1v6.64h-11.1zM577.4 1592.39h32.4v6.64h-32.4zM361.5 1598.63h64.4v6.64h-64.4zM430.2 1598.63h32.4v6.64h-32.4zM472.9 1598.63h21.7v6.64h-21.7zM498.4 1598.63h11.1v6.64h-11.1zM519.7 1598.63h11.1v6.64h-11.1zM551.7 1598.63h11.1v6.64h-11.1zM598.7 1598.63h11.1v6.64h-11.1zM361.5 1604.88h11.1v6.64h-11.1zM393.5 1604.88h32.4v6.64h-32.4zM430.2 1604.88h64.4v6.64h-64.4zM498.4 1604.88h11.1v6.64h-11.1zM519.7 1604.88h43.1v6.64h-43.1zM588.0 1604.88h21.7v6.64h-21.7zM361.5 1611.12h64.4v6.64h-64.4zM451.5 1611.12h21.7v6.64h-21.7zM483.5 1611.12h11.1v6.64h-11.1zM509.1 1611.12h11.1v6.64h-11.1zM530.4 1611.12h11.1v6.64h-11.1zM551.7 1611.12h11.1v6.64h-11.1zM566.7 1611.12h43.1v6.64h-43.1zM361.5 1617.36h21.7v6.64h-21.7zM393.5 1617.36h32.4v6.64h-32.4zM430.2 1617.36h11.1v6.64h-11.1zM451.5 1617.36h32.4v6.64h-32.4zM498.4 1617.36h64.4v6.64h-64.4zM372.2 1623.60h11.1v6.64h-11.1zM393.5 1623.60h21.7v6.64h-21.7zM430.2 1623.60h21.7v6.64h-21.7zM472.9 1623.60h21.7v6.64h-21.7zM498.4 1623.60h64.4v6.64h-64.4zM566.7 1623.60h11.1v6.64h-11.1zM588.0 1623.60h21.7v6.64h-21.7zM361.5 1629.84h21.7v6.64h-21.7zM393.5 1629.84h32.4v6.64h-32.4zM430.2 1629.84h32.4v6.64h-32.4zM472.9 1629.84h11.1v6.64h-11.1zM498.4 1629.84h64.4v6.64h-64.4zM566.7 1629.84h43.1v6.64h-43.1zM361.5 1636.09h64.4v6.64h-64.4zM430.2 1636.09h43.1v6.64h-43.1zM483.5 1636.09h11.1v6.64h-11.1zM498.4 1636.09h32.4v6.64h-32.4zM541.1 1636.09h21.7v6.64h-21.7zM577.4 1636.09h32.4v6.64h-32.4zM634.9 1636.09h11.1v6.64h-11.1zM372.2 1642.33h53.7v6.64h-53.7zM430.2 1642.33h11.1v6.64h-11.1zM462.2 1642.33h32.4v6.64h-32.4zM519.7 1642.33h43.1v6.64h-43.1zM588.0 1642.33h21.7v6.64h-21.7zM361.5 1648.57h64.4v6.64h-64.4zM430.2 1648.57h64.4v6.64h-64.4zM498.4 1648.57h21.7v6.64h-21.7zM541.1 1648.57h21.7v6.64h-21.7zM588.0 1648.57h21.7v6.64h-21.7zM361.5 1654.81h32.4v6.64h-32.4zM404.2 1654.81h11.1v6.64h-11.1zM430.2 1654.81h64.4v6.64h-64.4zM498.4 1654.81h64.4v6.64h-64.4zM577.4 1654.81h32.4v6.64h-32.4zM361.5 1661.05h64.4v6.64h-64.4zM440.9 1661.05h53.7v6.64h-53.7zM498.4 1661.05h11.1v6.64h-11.1zM519.7 1661.05h43.1v6.64h-43.1zM588.0 1661.05h21.7v6.64h-21.7zM483.5 1667.30h11.1v6.64h-11.1zM509.1 1667.30h11.1v6.64h-11.1zM530.4 1667.30h11.1v6.64h-11.1zM566.7 1667.30h21.7v6.64h-21.7zM598.7 1667.30h11.1v6.64h-11.1zM372.2 1673.54h11.1v6.64h-11.1zM566.7 1673.54h43.1v6.64h-43.1zM361.5 1679.78h64.4v6.64h-64.4zM430.2 1679.78h32.4v6.64h-32.4zM472.9 1679.78h21.7v6.64h-21.7zM498.4 1679.78h43.1v6.64h-43.1zM566.7 1679.78h43.1v6.64h-43.1zM361.5 1686.02h64.4v6.64h-64.4zM430.2 1686.02h53.7v6.64h-53.7zM498.4 1686.02h11.1v6.64h-11.1zM519.7 1686.02h11.1v6.64h-11.1zM541.1 1686.02h11.1v6.64h-11.1zM577.4 1686.02h11.1v6.64h-11.1zM598.7 1686.02h11.1v6.64h-11.1zM372.2 1692.26h32.4v6.64h-32.4zM414.8 1692.26h11.1v6.64h-11.1zM430.2 1692.26h64.4v6.64h-64.4zM498.4 1692.26h64.4v6.64h-64.4zM566.7 1692.26h11.1v6.64h-11.1zM588.0 1692.26h21.7v6.64h-21.7zM372.2 1698.51h53.7v6.64h-53.7zM430.2 1698.51h64.4v6.64h-64.4zM498.4 1698.51h21.7v6.64h-21.7zM530.4 1698.51h32.4v6.64h-32.4zM588.0 1698.51h21.7v6.64h-21.7zM361.5 1704.75h11.1v6.64h-11.1zM382.8 1704.75h43.1v6.64h-43.1zM430.2 1704.75h64.4v6.64h-64.4zM498.4 1704.75h53.7v6.64h-53.7zM598.7 1704.75h11.1v6.64h-11.1zM361.5 1710.99h64.4v6.64h-64.4zM430.2 1710.99h21.7v6.64h-21.7zM462.2 1710.99h32.4v6.64h-32.4zM498.4 1710.99h64.4v6.64h-64.4zM566.7 1710.99h21.7v6.64h-21.7zM598.7 1710.99h11.1v6.64h-11.1zM483.5 1717.23h11.1v6.64h-11.1zM588.0 1717.23h21.7v6.64h-21.7zM361.5 1723.47h21.7v6.64h-21.7zM393.5 1723.47h11.1v6.64h-11.1zM414.8 1723.47h11.1v6.64h-11.1zM440.9 1723.47h43.1v6.64h-43.1zM498.4 1723.47h64.4v6.64h-64.4zM588.0 1723.47h21.7v6.64h-21.7zM372.2 1729.72h11.1v6.64h-11.1zM440.9 1729.72h11.1v6.64h-11.1zM483.5 1729.72h11.1v6.64h-11.1zM509.1 1729.72h11.1v6.64h-11.1zM541.1 1729.72h11.1v6.64h-11.1zM598.7 1729.72h32.4v6.64h-32.4zM634.9 1729.72h11.1v6.64h-11.1zM472.9 1735.96h11.1v6.64h-11.1z"/><path fill="#8cc760" d="M414.8 1236.60h11.1v6.64h-11.1zM462.2 1236.60h11.1v6.64h-11.1zM530.4 1236.60h11.1v6.64h-11.1zM656.2 1236.60h11.1v6.64h-11.1zM462.2 1242.84h11.1v6.64h-11.1zM566.7 1242.84h43.1v6.64h-43.1zM656.2 1242.84h21.7v6.64h-21.7zM361.5 1249.08h11.1v6.64h-11.1zM634.9 1249.08h11.1v6.64h-11.1zM361.5 1255.33h64.4v6.64h-64.4zM430.2 1255.33h64.4v6.64h-64.4zM519.7 1255.33h43.1v6.64h-43.1zM566.7 1255.33h11.1v6.64h-11.1zM551.7 1261.57h11.1v6.64h-11.1zM566.7 1261.57h11.1v6.64h-11.1zM620.0 1261.57h11.1v6.64h-11.1zM382.8 1267.81h21.7v6.64h-21.7zM414.8 1267.81h11.1v6.64h-11.1zM551.7 1267.81h11.1v6.64h-11.1zM577.4 1267.81h11.1v6.64h-11.1zM609.4 1267.81h11.1v6.64h-11.1zM372.2 1274.05h11.1v6.64h-11.1zM393.5 1274.05h11.1v6.64h-11.1zM609.4 1274.05h11.1v6.64h-11.1zM620.0 1280.29h11.1v6.64h-11.1zM393.5 1286.54h11.1v6.64h-11.1zM620.0 1286.54h11.1v6.64h-11.1zM393.5 1292.78h11.1v6.64h-11.1zM530.4 1292.78h11.1v6.64h-11.1zM472.9 1299.02h11.1v6.64h-11.1zM577.4 1299.02h11.1v6.64h-11.1zM609.4 1299.02h21.7v6.64h-21.7zM634.9 1299.02h11.1v6.64h-11.1zM566.7 1305.26h21.7v6.64h-21.7zM609.4 1305.26h11.1v6.64h-11.1zM634.9 1305.26h11.1v6.64h-11.1zM541.1 1311.50h11.1v6.64h-11.1zM588.0 1311.50h21.7v6.64h-21.7zM645.6 1311.50h11.1v6.64h-11.1zM372.2 1317.75h53.7v6.64h-53.7zM430.2 1317.75h11.1v6.64h-11.1zM451.5 1317.75h43.1v6.64h-43.1zM498.4 1317.75h64.4v6.64h-64.4zM393.5 1323.99h11.1v6.64h-11.1zM551.7 1323.99h11.1v6.64h-11.1zM598.7 1323.99h11.1v6.64h-11.1zM541.1 1330.23h11.1v6.64h-11.1zM566.7 1330.23h43.1v6.64h-43.1zM577.4 1336.47h11.1v6.64h-11.1zM645.6 1336.47h11.1v6.64h-11.1zM566.7 1342.71h11.1v6.64h-11.1zM361.5 1348.96h11.1v6.64h-11.1zM393.5 1348.96h32.4v6.64h-32.4zM430.2 1348.96h21.7v6.64h-21.7zM472.9 1348.96h21.7v6.64h-21.7zM498.4 1348.96h43.1v6.64h-43.1zM551.7 1348.96h11.1v6.64h-11.1zM645.6 1348.96h11.1v6.64h-11.1zM361.5 1355.20h64.4v6.64h-64.4zM430.2 1355.20h64.4v6.64h-64.4zM498.4 1355.20h21.7v6.64h-21.7zM541.1 1355.20h11.1v6.64h-11.1zM566.7 1355.20h21.7v6.64h-21.7zM645.6 1355.20h11.1v6.64h-11.1zM361.5 1361.44h64.4v6.64h-64.4zM430.2 1361.44h43.1v6.64h-43.1zM483.5 1361.44h11.1v6.64h-11.1zM498.4 1361.44h43.1v6.64h-43.1zM551.7 1361.44h11.1v6.64h-11.1zM566.7 1361.44h11.1v6.64h-11.1zM566.7 1367.68h11.1v6.64h-11.1zM372.2 1373.92h11.1v6.64h-11.1zM609.4 1373.92h11.1v6.64h-11.1zM393.5 1380.17h11.1v6.64h-11.1zM451.5 1380.17h11.1v6.64h-11.1zM551.7 1380.17h11.1v6.64h-11.1zM566.7 1380.17h11.1v6.64h-11.1zM609.4 1380.17h21.7v6.64h-21.7zM645.6 1380.17h11.1v6.64h-11.1zM530.4 1386.41h11.1v6.64h-11.1zM566.7 1386.41h21.7v6.64h-21.7zM361.5 1392.65h11.1v6.64h-11.1zM393.5 1392.65h32.4v6.64h-32.4zM430.2 1392.65h64.4v6.64h-64.4zM498.4 1392.65h64.4v6.64h-64.4zM588.0 1392.65h11.1v6.64h-11.1zM634.9 1392.65h11.1v6.64h-11.1zM509.1 1398.89h11.1v6.64h-11.1zM566.7 1398.89h21.7v6.64h-21.7zM588.0 1405.13h11.1v6.64h-11.1zM372.2 1411.38h53.7v6.64h-53.7zM430.2 1411.38h11.1v6.64h-11.1zM462.2 1411.38h32.4v6.64h-32.4zM498.4 1411.38h11.1v6.64h-11.1zM519.7 1411.38h43.1v6.64h-43.1zM588.0 1411.38h11.1v6.64h-11.1zM620.0 1411.38h11.1v6.64h-11.1zM404.2 1417.62h11.1v6.64h-11.1zM609.4 1417.62h21.7v6.64h-21.7zM645.6 1423.86h11.1v6.64h-11.1zM645.6 1430.10h11.1v6.64h-11.1zM430.2 1436.34h11.1v6.64h-11.1zM566.7 1436.34h11.1v6.64h-11.1zM361.5 1442.59h32.4v6.64h-32.4zM404.2 1442.59h21.7v6.64h-21.7zM430.2 1442.59h11.1v6.64h-11.1zM451.5 1442.59h43.1v6.64h-43.1zM498.4 1442.59h64.4v6.64h-64.4zM577.4 1442.59h11.1v6.64h-11.1zM372.2 1448.83h53.7v6.64h-53.7zM440.9 1448.83h21.7v6.64h-21.7zM472.9 1448.83h21.7v6.64h-21.7zM498.4 1448.83h64.4v6.64h-64.4zM566.7 1448.83h21.7v6.64h-21.7zM382.8 1455.07h11.1v6.64h-11.1zM530.4 1455.07h11.1v6.64h-11.1zM588.0 1455.07h11.1v6.64h-11.1zM609.4 1455.07h11.1v6.64h-11.1zM372.2 1461.31h11.1v6.64h-11.1zM498.4 1461.31h11.1v6.64h-11.1zM530.4 1461.31h11.1v6.64h-11.1zM588.0 1461.31h11.1v6.64h-11.1zM440.9 1467.55h11.1v6.64h-11.1zM519.7 1467.55h11.1v6.64h-11.1zM577.4 1467.55h43.1v6.64h-43.1zM634.9 1467.55h11.1v6.64h-11.1zM372.2 1473.80h53.7v6.64h-53.7zM440.9 1473.80h11.1v6.64h-11.1zM462.2 1473.80h32.4v6.64h-32.4zM498.4 1473.80h11.1v6.64h-11.1zM519.7 1473.80h43.1v6.64h-43.1zM566.7 1473.80h11.1v6.64h-11.1zM598.7 1473.80h11.1v6.64h-11.1zM530.4 1480.04h11.1v6.64h-11.1zM634.9 1480.04h21.7v6.64h-21.7zM361.5 1486.28h11.1v6.64h-11.1zM382.8 1486.28h11.1v6.64h-11.1zM404.2 1486.28h21.7v6.64h-21.7zM430.2 1486.28h11.1v6.64h-11.1zM451.5 1486.28h43.1v6.64h-43.1zM498.4 1486.28h32.4v6.64h-32.4zM541.1 1486.28h11.1v6.64h-11.1zM440.9 1492.52h11.1v6.64h-11.1zM566.7 1492.52h43.1v6.64h-43.1zM634.9 1492.52h11.1v6.64h-11.1zM361.5 1498.76h21.7v6.64h-21.7zM393.5 1498.76h32.4v6.64h-32.4zM430.2 1498.76h11.1v6.64h-11.1zM451.5 1498.76h43.1v6.64h-43.1zM498.4 1498.76h21.7v6.64h-21.7zM530.4 1498.76h32.4v6.64h-32.4zM634.9 1498.76h11.1v6.64h-11.1zM414.8 1505.00h11.1v6.64h-11.1zM509.1 1505.00h11.1v6.64h-11.1zM541.1 1505.00h11.1v6.64h-11.1zM588.0 1511.25h11.1v6.64h-11.1zM609.4 1511.25h11.1v6.64h-11.1zM372.2 1517.49h11.1v6.64h-11.1zM634.9 1517.49h11.1v6.64h-11.1zM634.9 1523.73h11.1v6.64h-11.1zM414.8 1529.97h11.1v6.64h-11.1zM472.9 1529.97h11.1v6.64h-11.1zM577.4 1529.97h11.1v6.64h-11.1zM483.5 1542.46h11.1v6.64h-11.1zM498.4 1542.46h11.1v6.64h-11.1zM598.7 1542.46h21.7v6.64h-21.7zM634.9 1542.46h11.1v6.64h-11.1zM361.5 1548.70h11.1v6.64h-11.1zM588.0 1554.94h32.4v6.64h-32.4zM382.8 1561.18h21.7v6.64h-21.7zM414.8 1561.18h11.1v6.64h-11.1zM440.9 1561.18h53.7v6.64h-53.7zM509.1 1561.18h11.1v6.64h-11.1zM530.4 1561.18h11.1v6.64h-11.1zM551.7 1561.18h11.1v6.64h-11.1zM677.6 1561.18h11.1v6.64h-11.1zM483.5 1567.42h11.1v6.64h-11.1zM566.7 1567.42h64.4v6.64h-64.4zM634.9 1567.42h11.1v6.64h-11.1zM677.6 1567.42h11.1v6.64h-11.1zM430.2 1573.67h11.1v6.64h-11.1zM609.4 1573.67h11.1v6.64h-11.1zM361.5 1592.39h43.1v6.64h-43.1zM414.8 1592.39h11.1v6.64h-11.1zM430.2 1592.39h11.1v6.64h-11.1zM451.5 1592.39h43.1v6.64h-43.1zM509.1 1592.39h21.7v6.64h-21.7zM541.1 1592.39h21.7v6.64h-21.7zM677.6 1592.39h11.1v6.64h-11.1zM462.2 1598.63h11.1v6.64h-11.1zM566.7 1598.63h11.1v6.64h-11.1zM588.0 1598.63h11.1v6.64h-11.1zM634.9 1598.63h11.1v6.64h-11.1zM382.8 1604.88h11.1v6.64h-11.1zM566.7 1604.88h11.1v6.64h-11.1zM634.9 1604.88h11.1v6.64h-11.1zM440.9 1611.12h11.1v6.64h-11.1zM541.1 1611.12h11.1v6.64h-11.1zM609.4 1611.12h11.1v6.64h-11.1zM634.9 1611.12h11.1v6.64h-11.1zM440.9 1617.36h11.1v6.64h-11.1zM483.5 1617.36h11.1v6.64h-11.1zM566.7 1617.36h53.7v6.64h-53.7zM361.5 1623.60h11.1v6.64h-11.1zM382.8 1623.60h11.1v6.64h-11.1zM451.5 1623.60h21.7v6.64h-21.7zM577.4 1623.60h11.1v6.64h-11.1zM634.9 1623.60h21.7v6.64h-21.7zM462.2 1629.84h11.1v6.64h-11.1zM483.5 1629.84h11.1v6.64h-11.1zM634.9 1629.84h11.1v6.64h-11.1zM530.4 1636.09h11.1v6.64h-11.1zM566.7 1636.09h11.1v6.64h-11.1zM645.6 1636.09h11.1v6.64h-11.1zM361.5 1642.33h11.1v6.64h-11.1zM498.4 1642.33h11.1v6.64h-11.1zM566.7 1642.33h21.7v6.64h-21.7zM519.7 1648.57h21.7v6.64h-21.7zM566.7 1648.57h21.7v6.64h-21.7zM645.6 1648.57h11.1v6.64h-11.1zM566.7 1654.81h11.1v6.64h-11.1zM509.1 1661.05h11.1v6.64h-11.1zM566.7 1661.05h21.7v6.64h-21.7zM361.5 1667.30h11.1v6.64h-11.1zM382.8 1667.30h43.1v6.64h-43.1zM430.2 1667.30h53.7v6.64h-53.7zM498.4 1667.30h11.1v6.64h-11.1zM519.7 1667.30h11.1v6.64h-11.1zM551.7 1667.30h11.1v6.64h-11.1zM588.0 1667.30h11.1v6.64h-11.1zM634.9 1667.30h11.1v6.64h-11.1zM361.5 1673.54h11.1v6.64h-11.1zM393.5 1673.54h32.4v6.64h-32.4zM430.2 1673.54h64.4v6.64h-64.4zM498.4 1673.54h64.4v6.64h-64.4zM462.2 1679.78h11.1v6.64h-11.1zM551.7 1679.78h11.1v6.64h-11.1zM483.5 1686.02h11.1v6.64h-11.1zM551.7 1686.02h11.1v6.64h-11.1zM566.7 1686.02h11.1v6.64h-11.1zM588.0 1686.02h11.1v6.64h-11.1zM404.2 1692.26h11.1v6.64h-11.1zM577.4 1692.26h11.1v6.64h-11.1zM361.5 1698.51h11.1v6.64h-11.1zM519.7 1698.51h11.1v6.64h-11.1zM566.7 1698.51h21.7v6.64h-21.7zM372.2 1704.75h11.1v6.64h-11.1zM566.7 1704.75h32.4v6.64h-32.4zM451.5 1710.99h11.1v6.64h-11.1zM588.0 1710.99h11.1v6.64h-11.1zM361.5 1717.23h21.7v6.64h-21.7zM404.2 1717.23h11.1v6.64h-11.1zM430.2 1717.23h11.1v6.64h-11.1zM451.5 1717.23h32.4v6.64h-32.4zM498.4 1717.23h21.7v6.64h-21.7zM530.4 1717.23h32.4v6.64h-32.4zM566.7 1717.23h21.7v6.64h-21.7zM382.8 1723.47h11.1v6.64h-11.1zM483.5 1723.47h11.1v6.64h-11.1zM430.2 1729.72h11.1v6.64h-11.1zM451.5 1729.72h11.1v6.64h-11.1zM472.9 1729.72h11.1v6.64h-11.1zM519.7 1729.72h11.1v6.64h-11.1zM361.5 1735.96h11.1v6.64h-11.1zM483.5 1735.96h11.1v6.64h-11.1zM509.1 1735.96h11.1v6.64h-11.1zM645.6 1735.96h11.1v6.64h-11.1z"/><path fill="#cfea3e" d="M551.7 1236.60h11.1v6.64h-11.1zM451.5 1242.84h11.1v6.64h-11.1zM509.1 1255.33h11.1v6.64h-11.1zM451.5 1261.57h11.1v6.64h-11.1zM541.1 1261.57h11.1v6.64h-11.1zM361.5 1267.81h11.1v6.64h-11.1zM404.2 1280.29h11.1v6.64h-11.1zM551.7 1280.29h11.1v6.64h-11.1zM588.0 1280.29h21.7v6.64h-21.7zM462.2 1286.54h11.1v6.64h-11.1zM372.2 1292.78h21.7v6.64h-21.7zM519.7 1299.02h11.1v6.64h-11.1zM541.1 1305.26h11.1v6.64h-11.1zM440.9 1311.50h11.1v6.64h-11.1zM498.4 1311.50h11.1v6.64h-11.1zM577.4 1317.75h32.4v6.64h-32.4zM372.2 1323.99h11.1v6.64h-11.1zM393.5 1330.23h11.1v6.64h-11.1zM440.9 1330.23h11.1v6.64h-11.1zM462.2 1330.23h11.1v6.64h-11.1zM519.7 1330.23h11.1v6.64h-11.1zM361.5 1336.47h11.1v6.64h-11.1zM382.8 1336.47h43.1v6.64h-43.1zM440.9 1336.47h11.1v6.64h-11.1zM472.9 1336.47h21.7v6.64h-21.7zM498.4 1336.47h64.4v6.64h-64.4zM382.8 1342.71h11.1v6.64h-11.1zM372.2 1348.96h11.1v6.64h-11.1zM451.5 1348.96h21.7v6.64h-21.7zM541.1 1348.96h11.1v6.64h-11.1zM519.7 1355.20h11.1v6.64h-11.1zM472.9 1361.44h11.1v6.64h-11.1zM588.0 1361.44h21.7v6.64h-21.7zM451.5 1367.68h11.1v6.64h-11.1zM509.1 1367.68h11.1v6.64h-11.1zM509.1 1380.17h11.1v6.64h-11.1zM372.2 1392.65h11.1v6.64h-11.1zM541.1 1398.89h11.1v6.64h-11.1zM372.2 1405.13h53.7v6.64h-53.7zM440.9 1405.13h11.1v6.64h-11.1zM462.2 1405.13h11.1v6.64h-11.1zM483.5 1405.13h11.1v6.64h-11.1zM498.4 1405.13h64.4v6.64h-64.4zM361.5 1411.38h11.1v6.64h-11.1zM451.5 1411.38h11.1v6.64h-11.1zM566.7 1411.38h11.1v6.64h-11.1zM382.8 1423.86h11.1v6.64h-11.1zM404.2 1423.86h21.7v6.64h-21.7zM430.2 1423.86h64.4v6.64h-64.4zM498.4 1423.86h21.7v6.64h-21.7zM530.4 1423.86h32.4v6.64h-32.4zM462.2 1430.10h11.1v6.64h-11.1zM566.7 1430.10h64.4v6.64h-64.4zM361.5 1436.34h11.1v6.64h-11.1zM472.9 1436.34h11.1v6.64h-11.1zM509.1 1436.34h11.1v6.64h-11.1zM440.9 1442.59h11.1v6.64h-11.1zM588.0 1442.59h21.7v6.64h-21.7zM430.2 1448.83h11.1v6.64h-11.1zM462.2 1448.83h11.1v6.64h-11.1zM393.5 1455.07h11.1v6.64h-11.1zM462.2 1455.07h11.1v6.64h-11.1zM404.2 1461.31h11.1v6.64h-11.1zM472.9 1461.31h11.1v6.64h-11.1zM566.7 1461.31h11.1v6.64h-11.1zM598.7 1461.31h11.1v6.64h-11.1zM451.5 1473.80h11.1v6.64h-11.1zM393.5 1486.28h11.1v6.64h-11.1zM382.8 1492.52h11.1v6.64h-11.1zM440.9 1498.76h11.1v6.64h-11.1zM404.2 1505.00h11.1v6.64h-11.1zM551.7 1505.00h11.1v6.64h-11.1zM361.5 1511.25h64.4v6.64h-64.4zM430.2 1511.25h64.4v6.64h-64.4zM498.4 1511.25h11.1v6.64h-11.1zM519.7 1511.25h21.7v6.64h-21.7zM551.7 1511.25h11.1v6.64h-11.1zM566.7 1511.25h11.1v6.64h-11.1zM382.8 1517.49h11.1v6.64h-11.1zM414.8 1517.49h11.1v6.64h-11.1zM382.8 1523.73h11.1v6.64h-11.1zM588.0 1523.73h21.7v6.64h-21.7zM430.2 1529.97h11.1v6.64h-11.1zM588.0 1529.97h21.7v6.64h-21.7zM472.9 1536.21h11.1v6.64h-11.1zM509.1 1536.21h11.1v6.64h-11.1zM577.4 1536.21h32.4v6.64h-32.4zM509.1 1542.46h11.1v6.64h-11.1zM393.5 1548.70h11.1v6.64h-11.1zM483.5 1548.70h11.1v6.64h-11.1zM509.1 1548.70h11.1v6.64h-11.1zM588.0 1548.70h21.7v6.64h-21.7zM451.5 1554.94h11.1v6.64h-11.1zM472.9 1567.42h11.1v6.64h-11.1zM566.7 1573.67h21.7v6.64h-21.7zM598.7 1573.67h11.1v6.64h-11.1zM620.0 1573.67h11.1v6.64h-11.1zM414.8 1579.91h11.1v6.64h-11.1zM440.9 1579.91h11.1v6.64h-11.1zM483.5 1579.91h11.1v6.64h-11.1zM566.7 1579.91h43.1v6.64h-43.1zM361.5 1586.15h21.7v6.64h-21.7zM393.5 1586.15h32.4v6.64h-32.4zM430.2 1586.15h64.4v6.64h-64.4zM498.4 1586.15h32.4v6.64h-32.4zM551.7 1586.15h11.1v6.64h-11.1zM530.4 1592.39h11.1v6.64h-11.1zM509.1 1598.63h11.1v6.64h-11.1zM530.4 1598.63h21.7v6.64h-21.7zM372.2 1604.88h11.1v6.64h-11.1zM472.9 1611.12h11.1v6.64h-11.1zM498.4 1611.12h11.1v6.64h-11.1zM519.7 1611.12h11.1v6.64h-11.1zM382.8 1617.36h11.1v6.64h-11.1zM382.8 1629.84h11.1v6.64h-11.1zM451.5 1642.33h11.1v6.64h-11.1zM509.1 1642.33h11.1v6.64h-11.1zM393.5 1654.81h11.1v6.64h-11.1zM414.8 1654.81h11.1v6.64h-11.1zM430.2 1661.05h11.1v6.64h-11.1zM372.2 1667.30h11.1v6.64h-11.1zM541.1 1667.30h11.1v6.64h-11.1zM382.8 1673.54h11.1v6.64h-11.1zM541.1 1679.78h11.1v6.64h-11.1zM509.1 1686.02h11.1v6.64h-11.1zM361.5 1692.26h11.1v6.64h-11.1zM551.7 1704.75h11.1v6.64h-11.1zM393.5 1717.23h11.1v6.64h-11.1zM414.8 1717.23h11.1v6.64h-11.1zM440.9 1717.23h11.1v6.64h-11.1zM519.7 1717.23h11.1v6.64h-11.1zM404.2 1723.47h11.1v6.64h-11.1zM430.2 1723.47h11.1v6.64h-11.1zM382.8 1729.72h11.1v6.64h-11.1zM404.2 1729.72h21.7v6.64h-21.7zM462.2 1729.72h11.1v6.64h-11.1zM566.7 1729.72h21.7v6.64h-21.7zM372.2 1735.96h11.1v6.64h-11.1zM430.2 1735.96h21.7v6.64h-21.7zM519.7 1735.96h11.1v6.64h-11.1zM566.7 1735.96h64.4v6.64h-64.4z"/><path fill="#62ad7d" d="M577.4 1236.60h11.1v6.64h-11.1zM609.4 1242.84h11.1v6.64h-11.1zM472.9 1249.08h11.1v6.64h-11.1zM645.6 1249.08h11.1v6.64h-11.1zM609.4 1255.33h11.1v6.64h-11.1zM634.9 1255.33h21.7v6.64h-21.7zM451.5 1267.81h11.1v6.64h-11.1zM483.5 1280.29h11.1v6.64h-11.1zM440.9 1286.54h11.1v6.64h-11.1zM541.1 1286.54h21.7v6.64h-21.7zM361.5 1317.75h11.1v6.64h-11.1zM634.9 1317.75h11.1v6.64h-11.1zM634.9 1323.99h11.1v6.64h-11.1zM404.2 1330.23h11.1v6.64h-11.1zM645.6 1330.23h11.1v6.64h-11.1zM634.9 1342.71h11.1v6.64h-11.1zM634.9 1348.96h11.1v6.64h-11.1zM498.4 1367.68h11.1v6.64h-11.1zM577.4 1367.68h11.1v6.64h-11.1zM414.8 1373.92h11.1v6.64h-11.1zM541.1 1373.92h11.1v6.64h-11.1zM577.4 1380.17h11.1v6.64h-11.1zM634.9 1380.17h11.1v6.64h-11.1zM483.5 1398.89h11.1v6.64h-11.1zM634.9 1398.89h11.1v6.64h-11.1zM598.7 1411.38h11.1v6.64h-11.1zM645.6 1417.62h11.1v6.64h-11.1zM609.4 1423.86h21.7v6.64h-21.7zM430.2 1430.10h11.1v6.64h-11.1zM451.5 1430.10h11.1v6.64h-11.1zM577.4 1436.34h11.1v6.64h-11.1zM509.1 1461.31h11.1v6.64h-11.1zM404.2 1467.55h21.7v6.64h-21.7zM451.5 1467.55h11.1v6.64h-11.1zM519.7 1480.04h11.1v6.64h-11.1zM577.4 1498.76h11.1v6.64h-11.1zM382.8 1505.00h11.1v6.64h-11.1zM645.6 1523.73h11.1v6.64h-11.1zM566.7 1529.97h11.1v6.64h-11.1zM634.9 1529.97h11.1v6.64h-11.1zM404.2 1548.70h11.1v6.64h-11.1zM620.0 1554.94h11.1v6.64h-11.1zM361.5 1561.18h21.7v6.64h-21.7zM404.2 1561.18h11.1v6.64h-11.1zM430.2 1561.18h11.1v6.64h-11.1zM498.4 1561.18h11.1v6.64h-11.1zM541.1 1561.18h11.1v6.64h-11.1zM609.4 1579.91h11.1v6.64h-11.1zM530.4 1586.15h11.1v6.64h-11.1zM609.4 1586.15h11.1v6.64h-11.1zM566.7 1592.39h11.1v6.64h-11.1zM577.4 1598.63h11.1v6.64h-11.1zM645.6 1598.63h11.1v6.64h-11.1zM509.1 1604.88h11.1v6.64h-11.1zM577.4 1604.88h11.1v6.64h-11.1zM677.6 1617.36h11.1v6.64h-11.1zM414.8 1623.60h11.1v6.64h-11.1zM645.6 1629.84h11.1v6.64h-11.1zM472.9 1636.09h11.1v6.64h-11.1zM440.9 1642.33h11.1v6.64h-11.1zM530.4 1686.02h11.1v6.64h-11.1zM382.8 1717.23h11.1v6.64h-11.1zM566.7 1723.47h21.7v6.64h-21.7zM645.6 1729.72h11.1v6.64h-11.1zM677.6 1735.96h11.1v6.64h-11.1z"/><path fill="#453d84" d="M609.4 1236.60h11.1v6.64h-11.1zM634.9 1236.60h11.1v6.64h-11.1zM620.0 1249.08h11.1v6.64h-11.1zM634.9 1261.57h11.1v6.64h-11.1zM634.9 1267.81h11.1v6.64h-11.1zM645.6 1274.05h11.1v6.64h-11.1zM530.4 1280.29h11.1v6.64h-11.1zM645.6 1280.29h11.1v6.64h-11.1zM666.9 1286.54h11.1v6.64h-11.1zM620.0 1323.99h11.1v6.64h-11.1zM620.0 1342.71h11.1v6.64h-11.1zM620.0 1355.20h11.1v6.64h-11.1zM634.9 1367.68h11.1v6.64h-11.1zM620.0 1386.41h11.1v6.64h-11.1zM645.6 1386.41h11.1v6.64h-11.1zM440.9 1430.10h11.1v6.64h-11.1zM509.1 1430.10h11.1v6.64h-11.1zM609.4 1442.59h21.7v6.64h-21.7zM620.0 1448.83h11.1v6.64h-11.1zM634.9 1461.31h11.1v6.64h-11.1zM620.0 1467.55h11.1v6.64h-11.1zM656.2 1467.55h11.1v6.64h-11.1zM620.0 1492.52h11.1v6.64h-11.1zM634.9 1505.00h21.7v6.64h-21.7zM620.0 1536.21h11.1v6.64h-11.1zM645.6 1536.21h11.1v6.64h-11.1zM404.2 1542.46h11.1v6.64h-11.1zM472.9 1542.46h11.1v6.64h-11.1zM656.2 1548.70h11.1v6.64h-11.1zM483.5 1554.94h11.1v6.64h-11.1zM677.6 1554.94h11.1v6.64h-11.1zM414.8 1567.42h11.1v6.64h-11.1zM551.7 1567.42h11.1v6.64h-11.1zM634.9 1573.67h11.1v6.64h-11.1zM620.0 1604.88h11.1v6.64h-11.1zM677.6 1604.88h11.1v6.64h-11.1zM620.0 1623.60h11.1v6.64h-11.1zM620.0 1629.84h11.1v6.64h-11.1zM620.0 1642.33h11.1v6.64h-11.1zM609.4 1648.57h11.1v6.64h-11.1zM634.9 1654.81h11.1v6.64h-11.1zM609.4 1679.78h11.1v6.64h-11.1zM620.0 1686.02h11.1v6.64h-11.1zM609.4 1692.26h11.1v6.64h-11.1zM645.6 1692.26h11.1v6.64h-11.1zM656.2 1698.51h11.1v6.64h-11.1zM620.0 1704.75h11.1v6.64h-11.1zM656.2 1704.75h11.1v6.64h-11.1zM620.0 1710.99h11.1v6.64h-11.1zM609.4 1717.23h11.1v6.64h-11.1zM656.2 1717.23h11.1v6.64h-11.1zM393.5 1729.72h11.1v6.64h-11.1zM498.4 1729.72h11.1v6.64h-11.1zM404.2 1735.96h11.1v6.64h-11.1zM551.7 1735.96h11.1v6.64h-11.1zM688.2 1735.96h11.1v6.64h-11.1z"/><path fill="#3f918a" d="M620.0 1236.60h11.1v6.64h-11.1zM620.0 1242.84h11.1v6.64h-11.1zM645.6 1242.84h11.1v6.64h-11.1zM483.5 1249.08h11.1v6.64h-11.1zM609.4 1249.08h11.1v6.64h-11.1zM498.4 1255.33h11.1v6.64h-11.1zM620.0 1274.05h11.1v6.64h-11.1zM498.4 1280.29h11.1v6.64h-11.1zM404.2 1292.78h11.1v6.64h-11.1zM666.9 1292.78h11.1v6.64h-11.1zM620.0 1305.26h11.1v6.64h-11.1zM645.6 1305.26h11.1v6.64h-11.1zM393.5 1311.50h11.1v6.64h-11.1zM645.6 1323.99h11.1v6.64h-11.1zM634.9 1330.23h11.1v6.64h-11.1zM634.9 1336.47h11.1v6.64h-11.1zM645.6 1342.71h11.1v6.64h-11.1zM634.9 1355.20h11.1v6.64h-11.1zM634.9 1361.44h21.7v6.64h-21.7zM609.4 1392.65h11.1v6.64h-11.1zM645.6 1392.65h11.1v6.64h-11.1zM609.4 1398.89h11.1v6.64h-11.1zM645.6 1398.89h11.1v6.64h-11.1zM609.4 1405.13h21.7v6.64h-21.7zM634.9 1405.13h21.7v6.64h-21.7zM634.9 1423.86h11.1v6.64h-11.1zM541.1 1436.34h11.1v6.64h-11.1zM609.4 1448.83h11.1v6.64h-11.1zM609.4 1473.80h11.1v6.64h-11.1zM634.9 1486.28h21.7v6.64h-21.7zM645.6 1492.52h11.1v6.64h-11.1zM645.6 1498.76h11.1v6.64h-11.1zM620.0 1511.25h11.1v6.64h-11.1zM645.6 1517.49h11.1v6.64h-11.1zM609.4 1536.21h11.1v6.64h-11.1zM620.0 1542.46h11.1v6.64h-11.1zM498.4 1548.70h11.1v6.64h-11.1zM609.4 1548.70h11.1v6.64h-11.1zM645.6 1554.94h11.1v6.64h-11.1zM688.2 1561.18h11.1v6.64h-11.1zM666.9 1567.42h11.1v6.64h-11.1zM620.0 1579.91h11.1v6.64h-11.1zM634.9 1579.91h11.1v6.64h-11.1zM620.0 1586.15h11.1v6.64h-11.1zM645.6 1586.15h11.1v6.64h-11.1zM620.0 1592.39h11.1v6.64h-11.1zM609.4 1598.63h11.1v6.64h-11.1zM645.6 1604.88h11.1v6.64h-11.1zM430.2 1611.12h11.1v6.64h-11.1zM688.2 1617.36h11.1v6.64h-11.1zM634.9 1642.33h21.7v6.64h-21.7zM634.9 1648.57h11.1v6.64h-11.1zM634.9 1673.54h11.1v6.64h-11.1zM645.6 1679.78h11.1v6.64h-11.1zM634.9 1704.75h11.1v6.64h-11.1zM530.4 1729.72h11.1v6.64h-11.1zM588.0 1729.72h11.1v6.64h-11.1zM393.5 1735.96h11.1v6.64h-11.1z"/><path fill="#40608c" d="M645.6 1236.60h11.1v6.64h-11.1zM609.4 1261.57h11.1v6.64h-11.1zM645.6 1261.57h11.1v6.64h-11.1zM620.0 1267.81h11.1v6.64h-11.1zM645.6 1267.81h11.1v6.64h-11.1zM382.8 1280.29h11.1v6.64h-11.1zM666.9 1280.29h11.1v6.64h-11.1zM609.4 1286.54h11.1v6.64h-11.1zM609.4 1311.50h11.1v6.64h-11.1zM609.4 1317.75h11.1v6.64h-11.1zM609.4 1342.71h11.1v6.64h-11.1zM609.4 1348.96h11.1v6.64h-11.1zM609.4 1355.20h11.1v6.64h-11.1zM609.4 1361.44h11.1v6.64h-11.1zM609.4 1386.41h11.1v6.64h-11.1zM634.9 1386.41h11.1v6.64h-11.1zM609.4 1411.38h11.1v6.64h-11.1zM634.9 1430.10h11.1v6.64h-11.1zM620.0 1436.34h11.1v6.64h-11.1zM656.2 1448.83h11.1v6.64h-11.1zM620.0 1455.07h11.1v6.64h-11.1zM509.1 1467.55h11.1v6.64h-11.1zM620.0 1480.04h11.1v6.64h-11.1zM609.4 1492.52h11.1v6.64h-11.1zM656.2 1523.73h11.1v6.64h-11.1zM656.2 1529.97h11.1v6.64h-11.1zM634.9 1536.21h11.1v6.64h-11.1zM656.2 1536.21h11.1v6.64h-11.1zM620.0 1548.70h11.1v6.64h-11.1zM677.6 1611.12h11.1v6.64h-11.1zM645.6 1617.36h11.1v6.64h-11.1zM609.4 1623.60h11.1v6.64h-11.1zM620.0 1636.09h11.1v6.64h-11.1zM609.4 1642.33h11.1v6.64h-11.1zM620.0 1648.57h11.1v6.64h-11.1zM645.6 1661.05h11.1v6.64h-11.1zM645.6 1673.54h11.1v6.64h-11.1zM645.6 1686.02h11.1v6.64h-11.1zM620.0 1692.26h11.1v6.64h-11.1zM645.6 1698.51h11.1v6.64h-11.1zM645.6 1704.75h11.1v6.64h-11.1zM677.6 1710.99h11.1v6.64h-11.1zM634.9 1717.23h11.1v6.64h-11.1zM609.4 1723.47h21.7v6.64h-21.7zM656.2 1729.72h11.1v6.64h-11.1zM451.5 1735.96h21.7v6.64h-21.7z"/><path fill="#46105f" d="M666.9 1236.60h32.4v6.64h-32.4zM677.6 1242.84h21.7v6.64h-21.7zM656.2 1249.08h43.1v6.64h-43.1zM656.2 1255.33h43.1v6.64h-43.1zM656.2 1261.57h43.1v6.64h-43.1zM656.2 1267.81h43.1v6.64h-43.1zM634.9 1274.05h11.1v6.64h-11.1zM656.2 1274.05h43.1v6.64h-43.1zM519.7 1280.29h11.1v6.64h-11.1zM634.9 1280.29h11.1v6.64h-11.1zM656.2 1280.29h11.1v6.64h-11.1zM677.6 1280.29h21.7v6.64h-21.7zM634.9 1286.54h32.4v6.64h-32.4zM677.6 1286.54h21.7v6.64h-21.7zM634.9 1292.78h32.4v6.64h-32.4zM677.6 1292.78h21.7v6.64h-21.7zM645.6 1299.02h53.7v6.64h-53.7zM656.2 1305.26h43.1v6.64h-43.1zM656.2 1311.50h43.1v6.64h-43.1zM620.0 1317.75h11.1v6.64h-11.1zM656.2 1317.75h43.1v6.64h-43.1zM609.4 1323.99h11.1v6.64h-11.1zM656.2 1323.99h43.1v6.64h-43.1zM609.4 1330.23h21.7v6.64h-21.7zM656.2 1330.23h43.1v6.64h-43.1zM609.4 1336.47h21.7v6.64h-21.7zM656.2 1336.47h43.1v6.64h-43.1zM656.2 1342.71h43.1v6.64h-43.1zM620.0 1348.96h11.1v6.64h-11.1zM656.2 1348.96h43.1v6.64h-43.1zM656.2 1355.20h43.1v6.64h-43.1zM620.0 1361.44h11.1v6.64h-11.1zM656.2 1361.44h43.1v6.64h-43.1zM609.4 1367.68h21.7v6.64h-21.7zM645.6 1367.68h53.7v6.64h-53.7zM656.2 1373.92h43.1v6.64h-43.1zM656.2 1380.17h43.1v6.64h-43.1zM656.2 1386.41h43.1v6.64h-43.1zM656.2 1392.65h43.1v6.64h-43.1zM656.2 1398.89h43.1v6.64h-43.1zM656.2 1405.13h43.1v6.64h-43.1zM656.2 1411.38h43.1v6.64h-43.1zM656.2 1417.62h43.1v6.64h-43.1zM656.2 1423.86h43.1v6.64h-43.1zM372.2 1430.10h11.1v6.64h-11.1zM656.2 1430.10h43.1v6.64h-43.1zM634.9 1436.34h64.4v6.64h-64.4zM634.9 1442.59h64.4v6.64h-64.4zM634.9 1448.83h21.7v6.64h-21.7zM666.9 1448.83h32.4v6.64h-32.4zM634.9 1455.07h21.7v6.64h-21.7zM666.9 1455.07h32.4v6.64h-32.4zM609.4 1461.31h21.7v6.64h-21.7zM645.6 1461.31h53.7v6.64h-53.7zM666.9 1467.55h32.4v6.64h-32.4zM645.6 1473.80h53.7v6.64h-53.7zM656.2 1480.04h43.1v6.64h-43.1zM656.2 1486.28h43.1v6.64h-43.1zM656.2 1492.52h43.1v6.64h-43.1zM609.4 1498.76h11.1v6.64h-11.1zM656.2 1498.76h43.1v6.64h-43.1zM609.4 1505.00h21.7v6.64h-21.7zM656.2 1505.00h43.1v6.64h-43.1zM645.6 1511.25h53.7v6.64h-53.7zM609.4 1517.49h21.7v6.64h-21.7zM656.2 1517.49h43.1v6.64h-43.1zM609.4 1523.73h21.7v6.64h-21.7zM666.9 1523.73h32.4v6.64h-32.4zM609.4 1529.97h21.7v6.64h-21.7zM666.9 1529.97h32.4v6.64h-32.4zM372.2 1536.21h11.1v6.64h-11.1zM666.9 1536.21h32.4v6.64h-32.4zM551.7 1542.46h11.1v6.64h-11.1zM656.2 1542.46h43.1v6.64h-43.1zM551.7 1548.70h11.1v6.64h-11.1zM666.9 1548.70h32.4v6.64h-32.4zM519.7 1554.94h11.1v6.64h-11.1zM666.9 1554.94h11.1v6.64h-11.1zM688.2 1554.94h11.1v6.64h-11.1zM588.0 1561.18h11.1v6.64h-11.1zM634.9 1561.18h11.1v6.64h-11.1zM656.2 1561.18h21.7v6.64h-21.7zM530.4 1567.42h11.1v6.64h-11.1zM656.2 1567.42h11.1v6.64h-11.1zM530.4 1573.67h21.7v6.64h-21.7zM656.2 1573.67h21.7v6.64h-21.7zM688.2 1573.67h11.1v6.64h-11.1zM541.1 1579.91h11.1v6.64h-11.1zM656.2 1579.91h43.1v6.64h-43.1zM656.2 1586.15h43.1v6.64h-43.1zM609.4 1592.39h11.1v6.64h-11.1zM645.6 1592.39h32.4v6.64h-32.4zM688.2 1592.39h11.1v6.64h-11.1zM656.2 1598.63h21.7v6.64h-21.7zM688.2 1598.63h11.1v6.64h-11.1zM656.2 1604.88h21.7v6.64h-21.7zM688.2 1604.88h11.1v6.64h-11.1zM620.0 1611.12h11.1v6.64h-11.1zM645.6 1611.12h32.4v6.64h-32.4zM688.2 1611.12h11.1v6.64h-11.1zM656.2 1617.36h21.7v6.64h-21.7zM656.2 1623.60h43.1v6.64h-43.1zM609.4 1629.84h11.1v6.64h-11.1zM656.2 1629.84h43.1v6.64h-43.1zM609.4 1636.09h11.1v6.64h-11.1zM656.2 1636.09h43.1v6.64h-43.1zM656.2 1642.33h43.1v6.64h-43.1zM656.2 1648.57h43.1v6.64h-43.1zM609.4 1654.81h21.7v6.64h-21.7zM645.6 1654.81h53.7v6.64h-53.7zM609.4 1661.05h21.7v6.64h-21.7zM656.2 1661.05h43.1v6.64h-43.1zM609.4 1667.30h11.1v6.64h-11.1zM656.2 1667.30h43.1v6.64h-43.1zM656.2 1673.54h43.1v6.64h-43.1zM620.0 1679.78h11.1v6.64h-11.1zM656.2 1679.78h43.1v6.64h-43.1zM609.4 1686.02h11.1v6.64h-11.1zM656.2 1686.02h43.1v6.64h-43.1zM656.2 1692.26h43.1v6.64h-43.1zM609.4 1698.51h21.7v6.64h-21.7zM666.9 1698.51h32.4v6.64h-32.4zM609.4 1704.75h11.1v6.64h-11.1zM666.9 1704.75h32.4v6.64h-32.4zM609.4 1710.99h11.1v6.64h-11.1zM634.9 1710.99h11.1v6.64h-11.1zM656.2 1710.99h21.7v6.64h-21.7zM688.2 1710.99h11.1v6.64h-11.1zM620.0 1717.23h11.1v6.64h-11.1zM645.6 1717.23h11.1v6.64h-11.1zM666.9 1717.23h32.4v6.64h-32.4zM634.9 1723.47h64.4v6.64h-64.4zM361.5 1729.72h11.1v6.64h-11.1zM551.7 1729.72h11.1v6.64h-11.1zM666.9 1729.72h32.4v6.64h-32.4zM382.8 1735.96h11.1v6.64h-11.1zM414.8 1735.96h11.1v6.64h-11.1zM498.4 1735.96h11.1v6.64h-11.1zM530.4 1735.96h21.7v6.64h-21.7zM656.2 1735.96h21.7v6.64h-21.7z"/><path fill="#3f7b8e" d="M634.9 1242.84h11.1v6.64h-11.1zM551.7 1249.08h11.1v6.64h-11.1zM620.0 1255.33h11.1v6.64h-11.1zM620.0 1311.50h11.1v6.64h-11.1zM645.6 1317.75h11.1v6.64h-11.1zM620.0 1373.92h11.1v6.64h-11.1zM498.4 1386.41h11.1v6.64h-11.1zM620.0 1392.65h11.1v6.64h-11.1zM620.0 1398.89h11.1v6.64h-11.1zM645.6 1411.38h11.1v6.64h-11.1zM588.0 1417.62h21.7v6.64h-21.7zM609.4 1436.34h11.1v6.64h-11.1zM656.2 1455.07h11.1v6.64h-11.1zM551.7 1467.55h11.1v6.64h-11.1zM645.6 1467.55h11.1v6.64h-11.1zM620.0 1473.80h11.1v6.64h-11.1zM634.9 1473.80h11.1v6.64h-11.1zM609.4 1480.04h11.1v6.64h-11.1zM609.4 1486.28h21.7v6.64h-21.7zM620.0 1498.76h11.1v6.64h-11.1zM509.1 1511.25h11.1v6.64h-11.1zM634.9 1511.25h11.1v6.64h-11.1zM541.1 1517.49h11.1v6.64h-11.1zM645.6 1529.97h11.1v6.64h-11.1zM519.7 1536.21h21.7v6.64h-21.7zM414.8 1542.46h11.1v6.64h-11.1zM430.2 1542.46h11.1v6.64h-11.1zM645.6 1542.46h11.1v6.64h-11.1zM382.8 1548.70h11.1v6.64h-11.1zM634.9 1548.70h21.7v6.64h-21.7zM634.9 1554.94h11.1v6.64h-11.1zM656.2 1554.94h11.1v6.64h-11.1zM645.6 1561.18h11.1v6.64h-11.1zM645.6 1567.42h11.1v6.64h-11.1zM688.2 1567.42h11.1v6.64h-11.1zM645.6 1573.67h11.1v6.64h-11.1zM677.6 1573.67h11.1v6.64h-11.1zM551.7 1579.91h11.1v6.64h-11.1zM634.9 1586.15h11.1v6.64h-11.1zM634.9 1592.39h11.1v6.64h-11.1zM620.0 1598.63h11.1v6.64h-11.1zM677.6 1598.63h11.1v6.64h-11.1zM609.4 1604.88h11.1v6.64h-11.1zM620.0 1617.36h11.1v6.64h-11.1zM634.9 1617.36h11.1v6.64h-11.1zM634.9 1661.05h11.1v6.64h-11.1zM620.0 1667.30h11.1v6.64h-11.1zM645.6 1667.30h11.1v6.64h-11.1zM609.4 1673.54h21.7v6.64h-21.7zM634.9 1679.78h11.1v6.64h-11.1zM634.9 1686.02h11.1v6.64h-11.1zM634.9 1692.26h11.1v6.64h-11.1zM634.9 1698.51h11.1v6.64h-11.1zM645.6 1710.99h11.1v6.64h-11.1z"/></g>
<rect x="361.5" y="1211" width="64.0" height="16.8" fill="#cfdadb"/>
<rect x="430.2" y="1211" width="64.0" height="16.8" fill="#6a8c97"/>
<rect x="498.4" y="1211" width="64.0" height="16.8" fill="#1b3c50"/>
<rect x="566.7" y="1211" width="64.0" height="16.8" fill="#8b6bab"/>
<rect x="634.9" y="1211" width="64.0" height="16.8" fill="#643a8e"/>
<g font-size="18.3"><text x="366.8" y="1209.3">HIV HI</text><text x="440.3" y="1209.3">mock</text><text x="513.8" y="1209.3">HIV</text><text x="578.9" y="1209.3">mock</text><text x="652.4" y="1209.3">HIV</text></g>
<g font-size="18.3" text-anchor="middle"><text x="463.8" y="1185.6">NO</text><text x="631.4" y="1185.6">MNO</text></g>
<g stroke="#000" stroke-width="1.2"><line x1="383" y1="1190.4" x2="545.7" y2="1190.4"/><line x1="578.2" y1="1190.4" x2="679.7" y2="1190.4"/></g>
<g stroke="#000" stroke-width="1.1" stroke-linecap="square"><line x1="350.2" y1="1239.7" x2="350.2" y2="1246.0"/><line x1="350.2" y1="1239.7" x2="357.7" y2="1239.7"/><line x1="350.2" y1="1246.0" x2="357.7" y2="1246.0"/><line x1="350.2" y1="1252.2" x2="350.2" y2="1258.4"/><line x1="350.2" y1="1252.2" x2="357.7" y2="1252.2"/><line x1="350.2" y1="1258.4" x2="357.7" y2="1258.4"/><line x1="346.9" y1="1242.8" x2="346.9" y2="1255.3"/><line x1="346.9" y1="1242.8" x2="350.2" y2="1242.8"/><line x1="346.9" y1="1255.3" x2="350.2" y2="1255.3"/><line x1="340.3" y1="1264.7" x2="340.3" y2="1270.9"/><line x1="340.3" y1="1264.7" x2="357.7" y2="1264.7"/><line x1="340.3" y1="1270.9" x2="357.7" y2="1270.9"/><line x1="338.3" y1="1249.1" x2="338.3" y2="1267.8"/><line x1="338.3" y1="1249.1" x2="346.9" y2="1249.1"/><line x1="338.3" y1="1267.8" x2="340.3" y2="1267.8"/><line x1="351.1" y1="1277.2" x2="351.1" y2="1283.4"/><line x1="351.1" y1="1277.2" x2="357.7" y2="1277.2"/><line x1="351.1" y1="1283.4" x2="357.7" y2="1283.4"/><line x1="353.7" y1="1289.7" x2="353.7" y2="1295.9"/><line x1="353.7" y1="1289.7" x2="357.7" y2="1289.7"/><line x1="353.7" y1="1295.9" x2="357.7" y2="1295.9"/><line x1="352.5" y1="1292.8" x2="352.5" y2="1302.1"/><line x1="352.5" y1="1292.8" x2="353.7" y2="1292.8"/><line x1="352.5" y1="1302.1" x2="357.7" y2="1302.1"/><line x1="346.5" y1="1280.3" x2="346.5" y2="1297.5"/><line x1="346.5" y1="1280.3" x2="351.1" y2="1280.3"/><line x1="346.5" y1="1297.5" x2="352.5" y2="1297.5"/><line x1="355.4" y1="1314.6" x2="355.4" y2="1320.9"/><line x1="355.4" y1="1314.6" x2="357.7" y2="1314.6"/><line x1="355.4" y1="1320.9" x2="357.7" y2="1320.9"/><line x1="354.6" y1="1308.4" x2="354.6" y2="1317.7"/><line x1="354.6" y1="1308.4" x2="357.7" y2="1308.4"/><line x1="354.6" y1="1317.7" x2="355.4" y2="1317.7"/><line x1="355.5" y1="1327.1" x2="355.5" y2="1333.4"/><line x1="355.5" y1="1327.1" x2="357.7" y2="1327.1"/><line x1="355.5" y1="1333.4" x2="357.7" y2="1333.4"/><line x1="355.7" y1="1339.6" x2="355.7" y2="1345.8"/><line x1="355.7" y1="1339.6" x2="357.7" y2="1339.6"/><line x1="355.7" y1="1345.8" x2="357.7" y2="1345.8"/><line x1="354.5" y1="1330.2" x2="354.5" y2="1342.7"/><line x1="354.5" y1="1330.2" x2="355.5" y2="1330.2"/><line x1="354.5" y1="1342.7" x2="355.7" y2="1342.7"/><line x1="351.4" y1="1313.1" x2="351.4" y2="1336.5"/><line x1="351.4" y1="1313.1" x2="354.6" y2="1313.1"/><line x1="351.4" y1="1336.5" x2="354.5" y2="1336.5"/><line x1="354.7" y1="1352.1" x2="354.7" y2="1358.3"/><line x1="354.7" y1="1352.1" x2="357.7" y2="1352.1"/><line x1="354.7" y1="1358.3" x2="357.7" y2="1358.3"/><line x1="354.8" y1="1364.6" x2="354.8" y2="1370.8"/><line x1="354.8" y1="1364.6" x2="357.7" y2="1364.6"/><line x1="354.8" y1="1370.8" x2="357.7" y2="1370.8"/><line x1="354.9" y1="1377.0" x2="354.9" y2="1383.3"/><line x1="354.9" y1="1377.0" x2="357.7" y2="1377.0"/><line x1="354.9" y1="1383.3" x2="357.7" y2="1383.3"/><line x1="354.4" y1="1367.7" x2="354.4" y2="1380.2"/><line x1="354.4" y1="1367.7" x2="354.8" y2="1367.7"/><line x1="354.4" y1="1380.2" x2="354.9" y2="1380.2"/><line x1="354.1" y1="1355.2" x2="354.1" y2="1373.9"/><line x1="354.1" y1="1355.2" x2="354.7" y2="1355.2"/><line x1="354.1" y1="1373.9" x2="354.4" y2="1373.9"/><line x1="350.6" y1="1324.8" x2="350.6" y2="1364.6"/><line x1="350.6" y1="1324.8" x2="351.4" y2="1324.8"/><line x1="350.6" y1="1364.6" x2="354.1" y2="1364.6"/><line x1="342.8" y1="1288.9" x2="342.8" y2="1344.7"/><line x1="342.8" y1="1288.9" x2="346.5" y2="1288.9"/><line x1="342.8" y1="1344.7" x2="350.6" y2="1344.7"/><line x1="335.2" y1="1258.4" x2="335.2" y2="1316.8"/><line x1="335.2" y1="1258.4" x2="338.3" y2="1258.4"/><line x1="335.2" y1="1316.8" x2="342.8" y2="1316.8"/><line x1="353.4" y1="1389.5" x2="353.4" y2="1395.8"/><line x1="353.4" y1="1389.5" x2="357.7" y2="1389.5"/><line x1="353.4" y1="1395.8" x2="357.7" y2="1395.8"/><line x1="354.3" y1="1402.0" x2="354.3" y2="1408.3"/><line x1="354.3" y1="1402.0" x2="357.7" y2="1402.0"/><line x1="354.3" y1="1408.3" x2="357.7" y2="1408.3"/><line x1="350.7" y1="1392.6" x2="350.7" y2="1405.1"/><line x1="350.7" y1="1392.6" x2="353.4" y2="1392.6"/><line x1="350.7" y1="1405.1" x2="354.3" y2="1405.1"/><line x1="354.2" y1="1414.5" x2="354.2" y2="1420.7"/><line x1="354.2" y1="1414.5" x2="357.7" y2="1414.5"/><line x1="354.2" y1="1420.7" x2="357.7" y2="1420.7"/><line x1="352.2" y1="1427.0" x2="352.2" y2="1433.2"/><line x1="352.2" y1="1427.0" x2="357.7" y2="1427.0"/><line x1="352.2" y1="1433.2" x2="357.7" y2="1433.2"/><line x1="350.2" y1="1417.6" x2="350.2" y2="1430.1"/><line x1="350.2" y1="1417.6" x2="354.2" y2="1417.6"/><line x1="350.2" y1="1430.1" x2="352.2" y2="1430.1"/><line x1="349.3" y1="1398.9" x2="349.3" y2="1423.9"/><line x1="349.3" y1="1398.9" x2="350.7" y2="1398.9"/><line x1="349.3" y1="1423.9" x2="350.2" y2="1423.9"/><line x1="352.6" y1="1439.5" x2="352.6" y2="1445.7"/><line x1="352.6" y1="1439.5" x2="357.7" y2="1439.5"/><line x1="352.6" y1="1445.7" x2="357.7" y2="1445.7"/><line x1="351.0" y1="1451.9" x2="351.0" y2="1458.2"/><line x1="351.0" y1="1451.9" x2="357.7" y2="1451.9"/><line x1="351.0" y1="1458.2" x2="357.7" y2="1458.2"/><line x1="350.2" y1="1442.6" x2="350.2" y2="1455.1"/><line x1="350.2" y1="1442.6" x2="352.6" y2="1442.6"/><line x1="350.2" y1="1455.1" x2="351.0" y2="1455.1"/><line x1="342.9" y1="1411.4" x2="342.9" y2="1448.8"/><line x1="342.9" y1="1411.4" x2="349.3" y2="1411.4"/><line x1="342.9" y1="1448.8" x2="350.2" y2="1448.8"/><line x1="326.9" y1="1287.6" x2="326.9" y2="1430.1"/><line x1="326.9" y1="1287.6" x2="335.2" y2="1287.6"/><line x1="326.9" y1="1430.1" x2="342.9" y2="1430.1"/><line x1="355.0" y1="1464.4" x2="355.0" y2="1470.7"/><line x1="355.0" y1="1464.4" x2="357.7" y2="1464.4"/><line x1="355.0" y1="1470.7" x2="357.7" y2="1470.7"/><line x1="354.0" y1="1467.6" x2="354.0" y2="1476.9"/><line x1="354.0" y1="1467.6" x2="355.0" y2="1467.6"/><line x1="354.0" y1="1476.9" x2="357.7" y2="1476.9"/><line x1="352.7" y1="1483.2" x2="352.7" y2="1489.4"/><line x1="352.7" y1="1483.2" x2="357.7" y2="1483.2"/><line x1="352.7" y1="1489.4" x2="357.7" y2="1489.4"/><line x1="351.7" y1="1472.2" x2="351.7" y2="1486.3"/><line x1="351.7" y1="1472.2" x2="354.0" y2="1472.2"/><line x1="351.7" y1="1486.3" x2="352.7" y2="1486.3"/><line x1="351.2" y1="1495.6" x2="351.2" y2="1501.9"/><line x1="351.2" y1="1495.6" x2="357.7" y2="1495.6"/><line x1="351.2" y1="1501.9" x2="357.7" y2="1501.9"/><line x1="350.8" y1="1508.1" x2="350.8" y2="1514.4"/><line x1="350.8" y1="1508.1" x2="357.7" y2="1508.1"/><line x1="350.8" y1="1514.4" x2="357.7" y2="1514.4"/><line x1="348.8" y1="1498.8" x2="348.8" y2="1511.2"/><line x1="348.8" y1="1498.8" x2="351.2" y2="1498.8"/><line x1="348.8" y1="1511.2" x2="350.8" y2="1511.2"/><line x1="347.6" y1="1479.3" x2="347.6" y2="1505.0"/><line x1="347.6" y1="1479.3" x2="351.7" y2="1479.3"/><line x1="347.6" y1="1505.0" x2="348.8" y2="1505.0"/><line x1="356.3" y1="1526.9" x2="356.3" y2="1533.1"/><line x1="356.3" y1="1526.9" x2="357.7" y2="1526.9"/><line x1="356.3" y1="1533.1" x2="357.7" y2="1533.1"/><line x1="355.8" y1="1520.6" x2="355.8" y2="1530.0"/><line x1="355.8" y1="1520.6" x2="357.7" y2="1520.6"/><line x1="355.8" y1="1530.0" x2="356.3" y2="1530.0"/><line x1="354.7" y1="1539.3" x2="354.7" y2="1545.6"/><line x1="354.7" y1="1539.3" x2="357.7" y2="1539.3"/><line x1="354.7" y1="1545.6" x2="357.7" y2="1545.6"/><line x1="353.6" y1="1525.3" x2="353.6" y2="1542.5"/><line x1="353.6" y1="1525.3" x2="355.8" y2="1525.3"/><line x1="353.6" y1="1542.5" x2="354.7" y2="1542.5"/><line x1="353.8" y1="1551.8" x2="353.8" y2="1558.1"/><line x1="353.8" y1="1551.8" x2="357.7" y2="1551.8"/><line x1="353.8" y1="1558.1" x2="357.7" y2="1558.1"/><line x1="353.6" y1="1564.3" x2="353.6" y2="1570.5"/><line x1="353.6" y1="1564.3" x2="357.7" y2="1564.3"/><line x1="353.6" y1="1570.5" x2="357.7" y2="1570.5"/><line x1="351.9" y1="1554.9" x2="351.9" y2="1567.4"/><line x1="351.9" y1="1554.9" x2="353.8" y2="1554.9"/><line x1="351.9" y1="1567.4" x2="353.6" y2="1567.4"/><line x1="348.6" y1="1533.9" x2="348.6" y2="1561.2"/><line x1="348.6" y1="1533.9" x2="353.6" y2="1533.9"/><line x1="348.6" y1="1561.2" x2="351.9" y2="1561.2"/><line x1="338.3" y1="1492.1" x2="338.3" y2="1547.5"/><line x1="338.3" y1="1492.1" x2="347.6" y2="1492.1"/><line x1="338.3" y1="1547.5" x2="348.6" y2="1547.5"/><line x1="355.5" y1="1576.8" x2="355.5" y2="1583.0"/><line x1="355.5" y1="1576.8" x2="357.7" y2="1576.8"/><line x1="355.5" y1="1583.0" x2="357.7" y2="1583.0"/><line x1="356.4" y1="1589.3" x2="356.4" y2="1595.5"/><line x1="356.4" y1="1589.3" x2="357.7" y2="1589.3"/><line x1="356.4" y1="1595.5" x2="357.7" y2="1595.5"/><line x1="354.9" y1="1579.9" x2="354.9" y2="1592.4"/><line x1="354.9" y1="1579.9" x2="355.5" y2="1579.9"/><line x1="354.9" y1="1592.4" x2="356.4" y2="1592.4"/><line x1="353.8" y1="1601.8" x2="353.8" y2="1608.0"/><line x1="353.8" y1="1601.8" x2="357.7" y2="1601.8"/><line x1="353.8" y1="1608.0" x2="357.7" y2="1608.0"/><line x1="352.8" y1="1586.2" x2="352.8" y2="1604.9"/><line x1="352.8" y1="1586.2" x2="354.9" y2="1586.2"/><line x1="352.8" y1="1604.9" x2="353.8" y2="1604.9"/><line x1="352.3" y1="1614.2" x2="352.3" y2="1620.5"/><line x1="352.3" y1="1614.2" x2="357.7" y2="1614.2"/><line x1="352.3" y1="1620.5" x2="357.7" y2="1620.5"/><line x1="353.7" y1="1626.7" x2="353.7" y2="1633.0"/><line x1="353.7" y1="1626.7" x2="357.7" y2="1626.7"/><line x1="353.7" y1="1633.0" x2="357.7" y2="1633.0"/><line x1="354.8" y1="1639.2" x2="354.8" y2="1645.4"/><line x1="354.8" y1="1639.2" x2="357.7" y2="1639.2"/><line x1="354.8" y1="1645.4" x2="357.7" y2="1645.4"/><line x1="352.3" y1="1629.8" x2="352.3" y2="1642.3"/><line x1="352.3" y1="1629.8" x2="353.7" y2="1629.8"/><line x1="352.3" y1="1642.3" x2="354.8" y2="1642.3"/><line x1="350.5" y1="1617.4" x2="350.5" y2="1636.1"/><line x1="350.5" y1="1617.4" x2="352.3" y2="1617.4"/><line x1="350.5" y1="1636.1" x2="352.3" y2="1636.1"/><line x1="348.6" y1="1595.5" x2="348.6" y2="1626.7"/><line x1="348.6" y1="1595.5" x2="352.8" y2="1595.5"/><line x1="348.6" y1="1626.7" x2="350.5" y2="1626.7"/><line x1="352.5" y1="1651.7" x2="352.5" y2="1657.9"/><line x1="352.5" y1="1651.7" x2="357.7" y2="1651.7"/><line x1="352.5" y1="1657.9" x2="357.7" y2="1657.9"/><line x1="356.1" y1="1664.2" x2="356.1" y2="1670.4"/><line x1="356.1" y1="1664.2" x2="357.7" y2="1664.2"/><line x1="356.1" y1="1670.4" x2="357.7" y2="1670.4"/><line x1="356.0" y1="1676.7" x2="356.0" y2="1682.9"/><line x1="356.0" y1="1676.7" x2="357.7" y2="1676.7"/><line x1="356.0" y1="1682.9" x2="357.7" y2="1682.9"/><line x1="354.7" y1="1667.3" x2="354.7" y2="1679.8"/><line x1="354.7" y1="1667.3" x2="356.1" y2="1667.3"/><line x1="354.7" y1="1679.8" x2="356.0" y2="1679.8"/><line x1="351.3" y1="1654.8" x2="351.3" y2="1673.5"/><line x1="351.3" y1="1654.8" x2="352.5" y2="1654.8"/><line x1="351.3" y1="1673.5" x2="354.7" y2="1673.5"/><line x1="355.6" y1="1689.1" x2="355.6" y2="1695.4"/><line x1="355.6" y1="1689.1" x2="357.7" y2="1689.1"/><line x1="355.6" y1="1695.4" x2="357.7" y2="1695.4"/><line x1="355.4" y1="1701.6" x2="355.4" y2="1707.9"/><line x1="355.4" y1="1701.6" x2="357.7" y2="1701.6"/><line x1="355.4" y1="1707.9" x2="357.7" y2="1707.9"/><line x1="354.5" y1="1692.3" x2="354.5" y2="1704.7"/><line x1="354.5" y1="1692.3" x2="355.6" y2="1692.3"/><line x1="354.5" y1="1704.7" x2="355.4" y2="1704.7"/><line x1="356.2" y1="1714.1" x2="356.2" y2="1720.4"/><line x1="356.2" y1="1714.1" x2="357.7" y2="1714.1"/><line x1="356.2" y1="1720.4" x2="357.7" y2="1720.4"/><line x1="355.6" y1="1726.6" x2="355.6" y2="1732.8"/><line x1="355.6" y1="1726.6" x2="357.7" y2="1726.6"/><line x1="355.6" y1="1732.8" x2="357.7" y2="1732.8"/><line x1="354.8" y1="1729.7" x2="354.8" y2="1739.1"/><line x1="354.8" y1="1729.7" x2="355.6" y2="1729.7"/><line x1="354.8" y1="1739.1" x2="357.7" y2="1739.1"/><line x1="354.3" y1="1717.2" x2="354.3" y2="1734.4"/><line x1="354.3" y1="1717.2" x2="356.2" y2="1717.2"/><line x1="354.3" y1="1734.4" x2="354.8" y2="1734.4"/><line x1="352.8" y1="1698.5" x2="352.8" y2="1725.8"/><line x1="352.8" y1="1698.5" x2="354.5" y2="1698.5"/><line x1="352.8" y1="1725.8" x2="354.3" y2="1725.8"/><line x1="350.1" y1="1664.2" x2="350.1" y2="1712.2"/><line x1="350.1" y1="1664.2" x2="351.3" y2="1664.2"/><line x1="350.1" y1="1712.2" x2="352.8" y2="1712.2"/><line x1="345.0" y1="1611.1" x2="345.0" y2="1688.2"/><line x1="345.0" y1="1611.1" x2="348.6" y2="1611.1"/><line x1="345.0" y1="1688.2" x2="350.1" y2="1688.2"/><line x1="335.8" y1="1519.8" x2="335.8" y2="1649.6"/><line x1="335.8" y1="1519.8" x2="338.3" y2="1519.8"/><line x1="335.8" y1="1649.6" x2="345.0" y2="1649.6"/><line x1="314.7" y1="1358.9" x2="314.7" y2="1584.7"/><line x1="314.7" y1="1358.9" x2="326.9" y2="1358.9"/><line x1="314.7" y1="1584.7" x2="335.8" y2="1584.7"/></g>
<g stroke="#777" stroke-width="1" fill="none"><polyline points="707,1245.5 718.2,1245.5 730,1247.1 741.4,1247.1"/><polyline points="707,1283.4 718.2,1283.4 730,1278.8 741.4,1278.8"/><polyline points="707,1295.8 718.2,1295.8 730,1300.1 741.4,1300.1"/><polyline points="707,1364.7 718.2,1364.7 730,1354.1 741.4,1354.1"/><polyline points="707,1370.9 718.2,1370.9 730,1375.5 741.4,1375.5"/><polyline points="707,1420.8 718.2,1420.8 730,1396.4 741.4,1396.4"/><polyline points="707,1433.5 718.2,1433.5 730,1418 741.4,1418"/><polyline points="707,1445.9 718.2,1445.9 730,1439.2 741.4,1439.2"/><polyline points="707,1451.6 718.2,1451.6 730,1460.6 741.4,1460.6"/><polyline points="707,1470.7 718.2,1470.7 730,1481.8 741.4,1481.8"/><polyline points="707,1495.4 718.2,1495.4 730,1502.9 741.4,1502.9"/><polyline points="707,1508 718.2,1508 730,1524.2 741.4,1524.2"/><polyline points="707,1545.7 718.2,1545.7 730,1545.7 741.4,1545.7"/><polyline points="707,1589.5 718.2,1589.5 730,1582.8 741.4,1582.8"/><polyline points="707,1627 718.2,1627 730,1603.9 741.4,1603.9"/><polyline points="707,1639 718.2,1639 730,1625.1 741.4,1625.1"/><polyline points="707,1658.3 718.2,1658.3 730,1646.7 741.4,1646.7"/><polyline points="707,1663.8 718.2,1663.8 730,1668 741.4,1668"/><polyline points="707,1676.6 718.2,1676.6 730,1689.3 741.4,1689.3"/><polyline points="707,1695.5 718.2,1695.5 730,1710.5 741.4,1710.5"/><polyline points="707,1739.3 718.2,1739.3 730,1731.9 741.4,1731.9"/></g>
<g font-size="21"><text x="750.3" y="1254.2">MMP12</text><text x="750.3" y="1285.9">CCL2</text><text x="750.3" y="1307.2">CCL13</text><text x="750.3" y="1361.2">S100B</text><text x="750.3" y="1382.6">CCL4</text><text x="750.3" y="1403.5">IL6</text><text x="750.3" y="1425.1">CCR6</text><text x="750.3" y="1446.3">IL3RA</text><text x="750.3" y="1467.7">IL1RN</text><text x="750.3" y="1488.9">CCL22</text><text x="750.3" y="1510.0">SERPINA1</text><text x="750.3" y="1531.3">TNF</text><text x="750.3" y="1552.8">TNFSF10</text><text x="750.3" y="1589.9">APOL1</text><text x="750.3" y="1611.0">APOL3</text><text x="750.3" y="1632.2">TMEM273</text><text x="750.3" y="1653.8">CCL4L2</text><text x="750.3" y="1675.1">TLR2</text><text x="750.3" y="1696.4">MRC1</text><text x="750.3" y="1717.6">TNFSF13</text><text x="750.3" y="1739.0">APOL4</text></g>
<text x="17.3" y="1551.2" font-size="19.2">Group</text>
<rect x="12" y="1568" width="19.5" height="25.9" fill="#cfdadb"/><text x="39.2" y="1588.8" font-size="18.8">HIV HI-NO</text>
<rect x="12" y="1597.1" width="19.5" height="25.9" fill="#6a8c97"/><text x="39.2" y="1617.9" font-size="18.8">mock-NO</text>
<rect x="12" y="1625.9" width="19.5" height="25.9" fill="#1b3c50"/><text x="39.2" y="1646.7" font-size="18.8">HIV-NO</text>
<rect x="12" y="1654.9" width="19.5" height="25.9" fill="#8b6bab"/><text x="39.2" y="1675.7" font-size="18.8">mock-MNO</text>
<rect x="12" y="1684" width="19.5" height="25.9" fill="#643a8e"/><text x="39.2" y="1704.8" font-size="18.8">HIV-MNO</text>
<text x="179.5" y="1563.2" font-size="17.3">Z−Score(TPM)</text>
<defs><linearGradient id="zg" x1="0" y1="0" x2="0" y2="1"><stop offset="0.030" stop-color="#440f5e"/><stop offset="0.147" stop-color="#472d7b"/><stop offset="0.265" stop-color="#3b528b"/><stop offset="0.382" stop-color="#2c728e"/><stop offset="0.500" stop-color="#21908c"/><stop offset="0.617" stop-color="#5ec962"/><stop offset="0.735" stop-color="#9fda3a"/><stop offset="0.853" stop-color="#c4e63c"/><stop offset="0.970" stop-color="#e6ee3a"/></linearGradient></defs>
<rect x="178.9" y="1574.7" width="17.1" height="131.2" fill="url(#zg)"/>
<g stroke="#fff" stroke-width="1.2"><line x1="178.9" y1="1579.5" x2="182.3" y2="1579.5"/><line x1="192.6" y1="1579.5" x2="196" y2="1579.5"/><line x1="178.9" y1="1610.4" x2="182.3" y2="1610.4"/><line x1="192.6" y1="1610.4" x2="196" y2="1610.4"/><line x1="178.9" y1="1639.7" x2="182.3" y2="1639.7"/><line x1="192.6" y1="1639.7" x2="196" y2="1639.7"/><line x1="178.9" y1="1670" x2="182.3" y2="1670"/><line x1="192.6" y1="1670" x2="196" y2="1670"/><line x1="178.9" y1="1700.8" x2="182.3" y2="1700.8"/><line x1="192.6" y1="1700.8" x2="196" y2="1700.8"/></g>
<g font-size="17.2"><text x="201.3" y="1585.6">1</text><text x="201.3" y="1616">0.5</text><text x="201.3" y="1646">0</text><text x="201.3" y="1676">−0.5</text><text x="201.3" y="1706.4">−1</text></g>
<text x="853.5" y="703.5" font-size="32">G.</text>
<g><path d="M1073.1,929.4 L1084.2,929.3 L1095.2,928.8 L1106.3,927.4 L1117.4,924.8 L1128.4,920.1 L1139.5,911.6 L1150.6,896.8 L1161.7,873.8 L1172.7,842.7 L1183.8,806.4 L1194.9,770.1 L1205.9,739.0 L1217.0,716.0 L1228.1,701.2 L1239.2,692.7 L1250.2,688.0 L1261.3,685.4 L1272.4,684.0 L1283.4,683.5 L1294.5,683.4 L1294.5,685.9 L1283.4,686.0 L1272.4,686.5 L1261.3,687.9 L1250.2,690.5 L1239.2,695.2 L1228.1,703.7 L1217.0,718.6 L1205.9,741.6 L1194.9,772.8 L1183.8,809.1 L1172.7,845.5 L1161.7,876.6 L1150.6,899.7 L1139.5,914.5 L1128.4,923.1 L1117.4,927.8 L1106.3,930.4 L1095.2,931.7 L1084.2,932.3 L1073.1,932.4Z" fill="#8a9cb3" fill-opacity="0.74"/><path d="M1073.1,932.4 L1084.2,932.3 L1095.2,931.8 L1106.3,930.7 L1117.4,928.6 L1128.4,924.7 L1139.5,917.7 L1150.6,905.4 L1161.7,886.4 L1172.7,860.7 L1183.8,830.7 L1194.9,800.7 L1205.9,775.0 L1217.0,755.9 L1228.1,743.7 L1239.2,736.7 L1250.2,732.8 L1261.3,730.6 L1272.4,729.5 L1283.4,729.1 L1294.5,729.0 L1294.5,730.0 L1283.4,730.1 L1272.4,730.5 L1261.3,731.7 L1250.2,733.8 L1239.2,737.7 L1228.1,744.7 L1217.0,757.0 L1205.9,776.0 L1194.9,801.8 L1183.8,831.8 L1172.7,861.8 L1161.7,887.5 L1150.6,906.6 L1139.5,918.8 L1128.4,925.9 L1117.4,929.8 L1106.3,931.9 L1095.2,933.0 L1084.2,933.5 L1073.1,933.6Z" fill="#8a9cb3" fill-opacity="0.74"/><path d="M1073.1,933.6 L1084.2,933.5 L1095.2,933.2 L1106.3,932.3 L1117.4,930.7 L1128.4,927.8 L1139.5,922.6 L1150.6,913.4 L1161.7,899.2 L1172.7,879.9 L1183.8,857.5 L1194.9,835.1 L1205.9,815.9 L1217.0,801.6 L1228.1,792.5 L1239.2,787.2 L1250.2,784.3 L1261.3,782.7 L1272.4,781.9 L1283.4,781.6 L1294.5,781.5 L1294.5,785.0 L1283.4,785.1 L1272.4,785.4 L1261.3,786.2 L1250.2,787.8 L1239.2,790.8 L1228.1,796.0 L1217.0,805.2 L1205.9,819.5 L1194.9,838.8 L1183.8,861.4 L1172.7,883.9 L1161.7,903.2 L1150.6,917.5 L1139.5,926.7 L1128.4,932.0 L1117.4,934.9 L1106.3,936.5 L1095.2,937.3 L1084.2,937.7 L1073.1,937.7Z" fill="#8a9cb3" fill-opacity="0.74"/><path d="M1073.1,937.7 L1084.2,937.7 L1095.2,937.5 L1106.3,936.9 L1117.4,935.9 L1128.4,934.1 L1139.5,930.7 L1150.6,924.9 L1161.7,915.8 L1172.7,903.6 L1183.8,889.3 L1194.9,875.0 L1205.9,862.8 L1217.0,853.7 L1228.1,847.9 L1239.2,844.5 L1250.2,842.7 L1261.3,841.7 L1272.4,841.1 L1283.4,840.9 L1294.5,840.9 L1294.5,842.9 L1283.4,842.9 L1272.4,843.1 L1261.3,843.7 L1250.2,844.7 L1239.2,846.6 L1228.1,849.9 L1217.0,855.8 L1205.9,864.9 L1194.9,877.2 L1183.8,891.5 L1172.7,905.8 L1161.7,918.1 L1150.6,927.2 L1139.5,933.0 L1128.4,936.4 L1117.4,938.3 L1106.3,939.3 L1095.2,939.8 L1084.2,940.0 L1073.1,940.1Z" fill="#8a9cb3" fill-opacity="0.74"/><path d="M1073.1,940.1 L1084.2,940.1 L1095.2,940.0 L1106.3,939.9 L1117.4,939.8 L1128.4,939.4 L1139.5,938.8 L1150.6,937.8 L1161.7,936.2 L1172.7,934.1 L1183.8,931.6 L1194.9,929.1 L1205.9,926.9 L1217.0,925.3 L1228.1,924.3 L1239.2,923.7 L1250.2,923.4 L1261.3,923.2 L1272.4,923.1 L1283.4,923.1 L1294.5,923.1 L1294.5,924.6 L1283.4,924.6 L1272.4,924.6 L1261.3,924.7 L1250.2,924.9 L1239.2,925.2 L1228.1,925.8 L1217.0,926.9 L1205.9,928.5 L1194.9,930.7 L1183.8,933.2 L1172.7,935.8 L1161.7,938.0 L1150.6,939.6 L1139.5,940.6 L1128.4,941.2 L1117.4,941.5 L1106.3,941.7 L1095.2,941.8 L1084.2,941.9 L1073.1,941.9Z" fill="#8a9cb3" fill-opacity="0.74"/><path d="M1073.1,941.9 L1084.2,941.9 L1095.2,942.0 L1106.3,942.2 L1117.4,942.7 L1128.4,943.5 L1139.5,945.0 L1150.6,947.6 L1161.7,951.6 L1172.7,957.1 L1183.8,963.4 L1194.9,969.8 L1205.9,975.2 L1217.0,979.3 L1228.1,981.9 L1239.2,983.4 L1250.2,984.2 L1261.3,984.7 L1272.4,984.9 L1283.4,985.0 L1294.5,985.0 L1294.5,987.0 L1283.4,987.0 L1272.4,986.9 L1261.3,986.7 L1250.2,986.2 L1239.2,985.4 L1228.1,983.9 L1217.0,981.3 L1205.9,977.3 L1194.9,971.9 L1183.8,965.6 L1172.7,959.3 L1161.7,953.9 L1150.6,949.9 L1139.5,947.3 L1128.4,945.8 L1117.4,945.0 L1106.3,944.6 L1095.2,944.3 L1084.2,944.2 L1073.1,944.2Z" fill="#8a9cb3" fill-opacity="0.74"/><path d="M1073.1,944.2 L1084.2,944.3 L1095.2,945.1 L1106.3,946.9 L1117.4,950.3 L1128.4,956.5 L1139.5,967.8 L1150.6,987.3 L1161.7,1017.8 L1172.7,1059.0 L1183.8,1106.9 L1194.9,1154.9 L1205.9,1196.0 L1217.0,1226.5 L1228.1,1246.1 L1239.2,1257.3 L1250.2,1263.5 L1261.3,1267.0 L1272.4,1268.8 L1283.4,1269.5 L1294.5,1269.6 L1294.5,1271.1 L1283.4,1271.0 L1272.4,1270.3 L1261.3,1268.5 L1250.2,1265.0 L1239.2,1258.9 L1228.1,1247.6 L1217.0,1228.0 L1205.9,1197.6 L1194.9,1156.5 L1183.8,1108.6 L1172.7,1060.6 L1161.7,1019.5 L1150.6,989.1 L1139.5,969.5 L1128.4,958.3 L1117.4,952.1 L1106.3,948.6 L1095.2,946.8 L1084.2,946.1 L1073.1,946.0Z" fill="#8a9cb3" fill-opacity="0.74"/><path d="M1073.1,946.0 L1084.2,946.1 L1095.2,947.0 L1106.3,949.0 L1117.4,952.8 L1128.4,959.8 L1139.5,972.6 L1150.6,994.6 L1161.7,1029.0 L1172.7,1075.5 L1183.8,1129.6 L1194.9,1183.7 L1205.9,1230.1 L1217.0,1264.5 L1228.1,1286.5 L1239.2,1299.3 L1250.2,1306.3 L1261.3,1310.1 L1272.4,1312.2 L1283.4,1313.0 L1294.5,1313.1 L1294.5,1314.6 L1283.4,1314.5 L1272.4,1313.7 L1261.3,1311.6 L1250.2,1307.8 L1239.2,1300.8 L1228.1,1288.1 L1217.0,1266.0 L1205.9,1231.7 L1194.9,1185.3 L1183.8,1131.2 L1172.7,1077.1 L1161.7,1030.7 L1150.6,996.4 L1139.5,974.3 L1128.4,961.6 L1117.4,954.6 L1106.3,950.8 L1095.2,948.7 L1084.2,947.9 L1073.1,947.8Z" fill="#8a9cb3" fill-opacity="0.74"/><path d="M1073.1,947.8 L1084.2,947.9 L1095.2,949.0 L1106.3,951.5 L1117.4,956.4 L1128.4,965.2 L1139.5,981.2 L1150.6,1008.9 L1161.7,1052.1 L1172.7,1110.5 L1183.8,1178.4 L1194.9,1246.4 L1205.9,1304.8 L1217.0,1348.0 L1228.1,1375.7 L1239.2,1391.7 L1250.2,1400.5 L1261.3,1405.4 L1272.4,1407.9 L1283.4,1408.9 L1294.5,1409.1 L1294.5,1410.6 L1283.4,1410.4 L1272.4,1409.4 L1261.3,1406.9 L1250.2,1402.0 L1239.2,1393.2 L1228.1,1377.2 L1217.0,1349.5 L1205.9,1306.4 L1194.9,1248.0 L1183.8,1180.1 L1172.7,1112.1 L1161.7,1053.8 L1150.6,1010.7 L1139.5,982.9 L1128.4,966.9 L1117.4,958.2 L1106.3,953.3 L1095.2,950.8 L1084.2,949.7 L1073.1,949.6Z" fill="#8a9cb3" fill-opacity="0.74"/><path d="M1073.1,949.6 L1084.2,949.8 L1095.2,951.0 L1106.3,954.0 L1117.4,959.7 L1128.4,970.1 L1139.5,988.9 L1150.6,1021.6 L1161.7,1072.5 L1172.7,1141.3 L1183.8,1221.5 L1194.9,1301.6 L1205.9,1370.5 L1217.0,1421.3 L1228.1,1454.1 L1239.2,1472.9 L1250.2,1483.3 L1261.3,1489.0 L1272.4,1492.0 L1283.4,1493.2 L1294.5,1493.4 L1294.5,1494.4 L1283.4,1494.2 L1272.4,1493.0 L1261.3,1490.0 L1250.2,1484.3 L1239.2,1473.9 L1228.1,1455.1 L1217.0,1422.4 L1205.9,1371.5 L1194.9,1302.7 L1183.8,1222.6 L1172.7,1142.5 L1161.7,1073.7 L1150.6,1022.8 L1139.5,990.1 L1128.4,971.2 L1117.4,960.9 L1106.3,955.2 L1095.2,952.2 L1084.2,950.9 L1073.1,950.8Z" fill="#8a9cb3" fill-opacity="0.74"/><path d="M1073.1,950.8 L1084.2,951.0 L1095.2,952.5 L1106.3,956.1 L1117.4,963.1 L1128.4,975.7 L1139.5,998.6 L1150.6,1038.4 L1161.7,1100.3 L1172.7,1184.0 L1183.8,1281.4 L1194.9,1378.9 L1205.9,1462.6 L1217.0,1524.5 L1228.1,1564.3 L1239.2,1587.2 L1250.2,1599.8 L1261.3,1606.7 L1272.4,1610.4 L1283.4,1611.9 L1294.5,1612.1 L1294.5,1614.1 L1283.4,1613.9 L1272.4,1612.4 L1261.3,1608.7 L1250.2,1601.8 L1239.2,1589.2 L1228.1,1566.3 L1217.0,1526.5 L1205.9,1464.7 L1194.9,1381.0 L1183.8,1283.6 L1172.7,1186.2 L1161.7,1102.6 L1150.6,1040.7 L1139.5,1000.9 L1128.4,978.0 L1117.4,965.4 L1106.3,958.5 L1095.2,954.8 L1084.2,953.4 L1073.1,953.1Z" fill="#8a9cb3" fill-opacity="0.74"/><path d="M1073.1,953.1 L1084.2,953.4 L1095.2,955.0 L1106.3,958.9 L1117.4,966.4 L1128.4,979.9 L1139.5,1004.6 L1150.6,1047.3 L1161.7,1113.8 L1172.7,1203.8 L1183.8,1308.6 L1194.9,1413.3 L1205.9,1503.3 L1217.0,1569.8 L1228.1,1612.6 L1239.2,1637.2 L1250.2,1650.8 L1261.3,1658.2 L1272.4,1662.2 L1283.4,1663.8 L1294.5,1664.0 L1294.5,1666.0 L1283.4,1665.8 L1272.4,1664.2 L1261.3,1660.2 L1250.2,1652.8 L1239.2,1639.2 L1228.1,1614.6 L1217.0,1571.9 L1205.9,1505.4 L1194.9,1415.5 L1183.8,1310.8 L1172.7,1206.0 L1161.7,1116.1 L1150.6,1049.6 L1139.5,1006.9 L1128.4,982.3 L1117.4,968.7 L1106.3,961.3 L1095.2,957.3 L1084.2,955.7 L1073.1,955.5Z" fill="#8a9cb3" fill-opacity="0.74"/><path d="M1073.1,975.0 L1084.2,974.9 L1095.2,974.3 L1106.3,972.7 L1117.4,969.6 L1128.4,964.1 L1139.5,954.1 L1150.6,936.7 L1161.7,909.6 L1172.7,873.1 L1183.8,830.5 L1194.9,787.8 L1205.9,751.3 L1217.0,724.2 L1228.1,706.8 L1239.2,696.8 L1250.2,691.3 L1261.3,688.2 L1272.4,686.6 L1283.4,686.0 L1294.5,685.9 L1294.5,692.9 L1283.4,693.0 L1272.4,693.6 L1261.3,695.2 L1250.2,698.3 L1239.2,703.8 L1228.1,713.8 L1217.0,731.3 L1205.9,758.4 L1194.9,795.0 L1183.8,837.7 L1172.7,880.4 L1161.7,917.0 L1150.6,944.1 L1139.5,961.5 L1128.4,971.6 L1117.4,977.1 L1106.3,980.1 L1095.2,981.7 L1084.2,982.4 L1073.1,982.5Z" fill="#8a9cb3" fill-opacity="0.74"/><path d="M1073.1,982.5 L1084.2,982.4 L1095.2,981.8 L1106.3,980.4 L1117.4,977.8 L1128.4,973.0 L1139.5,964.2 L1150.6,949.0 L1161.7,925.4 L1172.7,893.4 L1183.8,856.2 L1194.9,819.0 L1205.9,787.1 L1217.0,763.5 L1228.1,748.3 L1239.2,739.5 L1250.2,734.7 L1261.3,732.0 L1272.4,730.6 L1283.4,730.1 L1294.5,730.0 L1294.5,733.0 L1283.4,733.1 L1272.4,733.6 L1261.3,735.0 L1250.2,737.7 L1239.2,742.5 L1228.1,751.3 L1217.0,766.5 L1205.9,790.1 L1194.9,822.1 L1183.8,859.3 L1172.7,896.6 L1161.7,928.5 L1150.6,952.2 L1139.5,967.4 L1128.4,976.1 L1117.4,981.0 L1106.3,983.6 L1095.2,985.0 L1084.2,985.6 L1073.1,985.7Z" fill="#8a9cb3" fill-opacity="0.74"/><path d="M1073.1,985.7 L1084.2,985.6 L1095.2,985.1 L1106.3,984.0 L1117.4,981.9 L1128.4,978.1 L1139.5,971.1 L1150.6,959.1 L1161.7,940.3 L1172.7,914.9 L1183.8,885.3 L1194.9,855.8 L1205.9,830.4 L1217.0,811.6 L1228.1,799.5 L1239.2,792.6 L1250.2,788.7 L1261.3,786.6 L1272.4,785.5 L1283.4,785.1 L1294.5,785.0 L1294.5,795.0 L1283.4,795.1 L1272.4,795.5 L1261.3,796.6 L1250.2,798.7 L1239.2,802.6 L1228.1,809.6 L1217.0,821.7 L1205.9,840.5 L1194.9,866.0 L1183.8,895.7 L1172.7,925.3 L1161.7,950.8 L1150.6,969.6 L1139.5,981.8 L1128.4,988.7 L1117.4,992.6 L1106.3,994.7 L1095.2,995.8 L1084.2,996.2 L1073.1,996.3Z" fill="#8a9cb3" fill-opacity="0.74"/><path d="M1073.1,996.3 L1084.2,996.3 L1095.2,995.9 L1106.3,995.1 L1117.4,993.5 L1128.4,990.5 L1139.5,985.2 L1150.6,976.0 L1161.7,961.6 L1172.7,942.2 L1183.8,919.6 L1194.9,897.0 L1205.9,877.6 L1217.0,863.2 L1228.1,854.0 L1239.2,848.7 L1250.2,845.8 L1261.3,844.1 L1272.4,843.3 L1283.4,843.0 L1294.5,842.9 L1294.5,849.9 L1283.4,850.0 L1272.4,850.3 L1261.3,851.1 L1250.2,852.8 L1239.2,855.7 L1228.1,861.0 L1217.0,870.3 L1205.9,884.7 L1194.9,904.2 L1183.8,926.8 L1172.7,949.5 L1161.7,969.0 L1150.6,983.4 L1139.5,992.6 L1128.4,998.0 L1117.4,1000.9 L1106.3,1002.5 L1095.2,1003.4 L1084.2,1003.7 L1073.1,1003.8Z" fill="#8a9cb3" fill-opacity="0.74"/><path d="M1073.1,1003.8 L1084.2,1003.7 L1095.2,1003.6 L1106.3,1003.1 L1117.4,1002.3 L1128.4,1000.8 L1139.5,998.0 L1150.6,993.3 L1161.7,985.9 L1172.7,975.9 L1183.8,964.2 L1194.9,952.5 L1205.9,942.5 L1217.0,935.1 L1228.1,930.3 L1239.2,927.6 L1250.2,926.1 L1261.3,925.2 L1272.4,924.8 L1283.4,924.6 L1294.5,924.6 L1294.5,928.1 L1283.4,928.1 L1272.4,928.3 L1261.3,928.7 L1250.2,929.6 L1239.2,931.1 L1228.1,933.8 L1217.0,938.6 L1205.9,946.1 L1194.9,956.1 L1183.8,967.8 L1172.7,979.5 L1161.7,989.6 L1150.6,997.0 L1139.5,1001.8 L1128.4,1004.5 L1117.4,1006.0 L1106.3,1006.9 L1095.2,1007.3 L1084.2,1007.5 L1073.1,1007.5Z" fill="#8a9cb3" fill-opacity="0.74"/><path d="M1073.1,1007.5 L1084.2,1007.5 L1095.2,1007.4 L1106.3,1007.1 L1117.4,1006.6 L1128.4,1005.6 L1139.5,1003.9 L1150.6,1000.9 L1161.7,996.2 L1172.7,989.9 L1183.8,982.6 L1194.9,975.2 L1205.9,968.9 L1217.0,964.2 L1228.1,961.2 L1239.2,959.5 L1250.2,958.5 L1261.3,958.0 L1272.4,957.7 L1283.4,957.6 L1294.5,957.6 L1294.5,959.6 L1283.4,959.6 L1272.4,959.7 L1261.3,960.0 L1250.2,960.5 L1239.2,961.5 L1228.1,963.2 L1217.0,966.2 L1205.9,970.9 L1194.9,977.2 L1183.8,984.6 L1172.7,992.0 L1161.7,998.3 L1150.6,1003.0 L1139.5,1006.0 L1128.4,1007.8 L1117.4,1008.7 L1106.3,1009.2 L1095.2,1009.5 L1084.2,1009.6 L1073.1,1009.6Z" fill="#8a9cb3" fill-opacity="0.74"/><path d="M1073.1,1009.6 L1084.2,1009.6 L1095.2,1009.6 L1106.3,1009.5 L1117.4,1009.2 L1128.4,1008.8 L1139.5,1008.0 L1150.6,1006.6 L1161.7,1004.5 L1172.7,1001.7 L1183.8,998.3 L1194.9,995.0 L1205.9,992.1 L1217.0,990.0 L1228.1,988.6 L1239.2,987.9 L1250.2,987.4 L1261.3,987.2 L1272.4,987.1 L1283.4,987.0 L1294.5,987.0 L1294.5,994.0 L1283.4,994.0 L1272.4,994.1 L1261.3,994.2 L1250.2,994.4 L1239.2,994.9 L1228.1,995.7 L1217.0,997.1 L1205.9,999.2 L1194.9,1002.1 L1183.8,1005.5 L1172.7,1009.0 L1161.7,1011.9 L1150.6,1014.0 L1139.5,1015.4 L1128.4,1016.2 L1117.4,1016.7 L1106.3,1016.9 L1095.2,1017.0 L1084.2,1017.1 L1073.1,1017.1Z" fill="#8a9cb3" fill-opacity="0.74"/><path d="M1073.1,1017.1 L1084.2,1017.1 L1095.2,1017.1 L1106.3,1017.1 L1117.4,1017.2 L1128.4,1017.3 L1139.5,1017.4 L1150.6,1017.7 L1161.7,1018.1 L1172.7,1018.6 L1183.8,1019.3 L1194.9,1019.9 L1205.9,1020.5 L1217.0,1020.9 L1228.1,1021.2 L1239.2,1021.3 L1250.2,1021.4 L1261.3,1021.5 L1272.4,1021.5 L1283.4,1021.5 L1294.5,1021.5 L1294.5,1028.5 L1283.4,1028.5 L1272.4,1028.5 L1261.3,1028.5 L1250.2,1028.4 L1239.2,1028.4 L1228.1,1028.2 L1217.0,1028.0 L1205.9,1027.6 L1194.9,1027.1 L1183.8,1026.5 L1172.7,1025.9 L1161.7,1025.4 L1150.6,1025.1 L1139.5,1024.8 L1128.4,1024.7 L1117.4,1024.6 L1106.3,1024.6 L1095.2,1024.6 L1084.2,1024.6 L1073.1,1024.6Z" fill="#8a9cb3" fill-opacity="0.74"/><path d="M1073.1,1024.6 L1084.2,1024.6 L1095.2,1024.7 L1106.3,1025.1 L1117.4,1025.8 L1128.4,1027.2 L1139.5,1029.5 L1150.6,1033.7 L1161.7,1040.1 L1172.7,1048.9 L1183.8,1059.0 L1194.9,1069.2 L1205.9,1077.9 L1217.0,1084.4 L1228.1,1088.5 L1239.2,1090.9 L1250.2,1092.2 L1261.3,1092.9 L1272.4,1093.3 L1283.4,1093.5 L1294.5,1093.5 L1294.5,1097.0 L1283.4,1097.0 L1272.4,1096.8 L1261.3,1096.4 L1250.2,1095.7 L1239.2,1094.4 L1228.1,1092.0 L1217.0,1087.9 L1205.9,1081.5 L1194.9,1072.8 L1183.8,1062.6 L1172.7,1052.5 L1161.7,1043.8 L1150.6,1037.4 L1139.5,1033.3 L1128.4,1030.9 L1117.4,1029.6 L1106.3,1028.8 L1095.2,1028.5 L1084.2,1028.3 L1073.1,1028.3Z" fill="#8a9cb3" fill-opacity="0.74"/><path d="M1073.1,1028.3 L1084.2,1028.3 L1095.2,1028.5 L1106.3,1029.1 L1117.4,1030.1 L1128.4,1032.0 L1139.5,1035.4 L1150.6,1041.4 L1161.7,1050.6 L1172.7,1063.1 L1183.8,1077.6 L1194.9,1092.2 L1205.9,1104.7 L1217.0,1113.9 L1228.1,1119.9 L1239.2,1123.3 L1250.2,1125.2 L1261.3,1126.2 L1272.4,1126.7 L1283.4,1127.0 L1294.5,1127.0 L1294.5,1135.0 L1283.4,1135.0 L1272.4,1134.7 L1261.3,1134.2 L1250.2,1133.2 L1239.2,1131.3 L1228.1,1127.9 L1217.0,1122.0 L1205.9,1112.8 L1194.9,1100.4 L1183.8,1085.9 L1172.7,1071.4 L1161.7,1059.0 L1150.6,1049.8 L1139.5,1043.9 L1128.4,1040.5 L1117.4,1038.6 L1106.3,1037.6 L1095.2,1037.1 L1084.2,1036.8 L1073.1,1036.8Z" fill="#8a9cb3" fill-opacity="0.74"/><path d="M1073.1,1036.8 L1084.2,1036.9 L1095.2,1037.1 L1106.3,1037.8 L1117.4,1039.1 L1128.4,1041.5 L1139.5,1045.9 L1150.6,1053.4 L1161.7,1065.1 L1172.7,1081.0 L1183.8,1099.4 L1194.9,1117.9 L1205.9,1133.7 L1217.0,1145.4 L1228.1,1152.9 L1239.2,1157.3 L1250.2,1159.7 L1261.3,1161.0 L1272.4,1161.7 L1283.4,1162.0 L1294.5,1162.0 L1294.5,1170.0 L1283.4,1170.0 L1272.4,1169.7 L1261.3,1169.0 L1250.2,1167.7 L1239.2,1165.3 L1228.1,1161.0 L1217.0,1153.5 L1205.9,1141.8 L1194.9,1126.0 L1183.8,1107.7 L1172.7,1089.3 L1161.7,1073.5 L1150.6,1061.9 L1139.5,1054.4 L1128.4,1050.0 L1117.4,1047.7 L1106.3,1046.4 L1095.2,1045.7 L1084.2,1045.4 L1073.1,1045.3Z" fill="#8a9cb3" fill-opacity="0.74"/><path d="M1073.1,1045.3 L1084.2,1045.4 L1095.2,1045.7 L1106.3,1046.5 L1117.4,1048.0 L1128.4,1050.8 L1139.5,1055.8 L1150.6,1064.5 L1161.7,1078.0 L1172.7,1096.4 L1183.8,1117.7 L1194.9,1139.0 L1205.9,1157.3 L1217.0,1170.8 L1228.1,1179.5 L1239.2,1184.6 L1250.2,1187.3 L1261.3,1188.8 L1272.4,1189.6 L1283.4,1189.9 L1294.5,1190.0 L1294.5,1193.0 L1283.4,1192.9 L1272.4,1192.6 L1261.3,1191.8 L1250.2,1190.3 L1239.2,1187.6 L1228.1,1182.5 L1217.0,1173.9 L1205.9,1160.3 L1194.9,1142.1 L1183.8,1120.8 L1172.7,1099.5 L1161.7,1081.2 L1150.6,1067.7 L1139.5,1059.0 L1128.4,1054.0 L1117.4,1051.2 L1106.3,1049.7 L1095.2,1048.9 L1084.2,1048.6 L1073.1,1048.5Z" fill="#8a9cb3" fill-opacity="0.74"/><path d="M1073.1,1048.5 L1084.2,1048.6 L1095.2,1049.0 L1106.3,1049.9 L1117.4,1051.6 L1128.4,1054.8 L1139.5,1060.5 L1150.6,1070.5 L1161.7,1085.9 L1172.7,1106.9 L1183.8,1131.3 L1194.9,1155.7 L1205.9,1176.6 L1217.0,1192.1 L1228.1,1202.0 L1239.2,1207.8 L1250.2,1210.9 L1261.3,1212.7 L1272.4,1213.6 L1283.4,1213.9 L1294.5,1214.0 L1294.5,1216.5 L1283.4,1216.4 L1272.4,1216.1 L1261.3,1215.2 L1250.2,1213.4 L1239.2,1210.3 L1228.1,1204.5 L1217.0,1194.6 L1205.9,1179.1 L1194.9,1158.2 L1183.8,1133.9 L1172.7,1109.5 L1161.7,1088.6 L1150.6,1073.1 L1139.5,1063.2 L1128.4,1057.4 L1117.4,1054.3 L1106.3,1052.5 L1095.2,1051.6 L1084.2,1051.3 L1073.1,1051.2Z" fill="#8a9cb3" fill-opacity="0.74"/><path d="M1073.1,1051.2 L1084.2,1051.3 L1095.2,1051.8 L1106.3,1053.0 L1117.4,1055.3 L1128.4,1059.5 L1139.5,1067.1 L1150.6,1080.3 L1161.7,1100.9 L1172.7,1128.7 L1183.8,1161.2 L1194.9,1193.6 L1205.9,1221.4 L1217.0,1242.0 L1228.1,1255.2 L1239.2,1262.8 L1250.2,1267.0 L1261.3,1269.3 L1272.4,1270.5 L1283.4,1271.0 L1294.5,1271.1 L1294.5,1275.6 L1283.4,1275.5 L1272.4,1275.0 L1261.3,1273.8 L1250.2,1271.5 L1239.2,1267.3 L1228.1,1259.7 L1217.0,1246.5 L1205.9,1226.0 L1194.9,1198.2 L1183.8,1165.8 L1172.7,1133.4 L1161.7,1105.6 L1150.6,1085.1 L1139.5,1071.9 L1128.4,1064.3 L1117.4,1060.1 L1106.3,1057.8 L1095.2,1056.6 L1084.2,1056.1 L1073.1,1056.0Z" fill="#8a9cb3" fill-opacity="0.74"/><path d="M1073.1,1056.0 L1084.2,1056.1 L1095.2,1056.7 L1106.3,1058.1 L1117.4,1060.8 L1128.4,1065.7 L1139.5,1074.7 L1150.6,1090.3 L1161.7,1114.5 L1172.7,1147.2 L1183.8,1185.3 L1194.9,1223.4 L1205.9,1256.1 L1217.0,1280.3 L1228.1,1295.9 L1239.2,1304.9 L1250.2,1309.8 L1261.3,1312.5 L1272.4,1313.9 L1283.4,1314.5 L1294.5,1314.6 L1294.5,1319.6 L1283.4,1319.5 L1272.4,1318.9 L1261.3,1317.5 L1250.2,1314.8 L1239.2,1309.9 L1228.1,1300.9 L1217.0,1285.4 L1205.9,1261.2 L1194.9,1228.5 L1183.8,1190.5 L1172.7,1152.4 L1161.7,1119.7 L1150.6,1095.5 L1139.5,1080.0 L1128.4,1071.1 L1117.4,1066.1 L1106.3,1063.4 L1095.2,1062.0 L1084.2,1061.4 L1073.1,1061.3Z" fill="#8a9cb3" fill-opacity="0.74"/><path d="M1073.1,1061.3 L1084.2,1061.4 L1095.2,1062.1 L1106.3,1063.7 L1117.4,1066.9 L1128.4,1072.5 L1139.5,1082.8 L1150.6,1100.7 L1161.7,1128.5 L1172.7,1166.1 L1183.8,1209.9 L1194.9,1253.6 L1205.9,1291.2 L1217.0,1319.0 L1228.1,1336.9 L1239.2,1347.2 L1250.2,1352.9 L1261.3,1356.0 L1272.4,1357.6 L1283.4,1358.3 L1294.5,1358.4 L1294.5,1360.4 L1283.4,1360.3 L1272.4,1359.6 L1261.3,1358.0 L1250.2,1354.9 L1239.2,1349.2 L1228.1,1338.9 L1217.0,1321.1 L1205.9,1293.3 L1194.9,1255.7 L1183.8,1211.9 L1172.7,1168.2 L1161.7,1130.6 L1150.6,1102.8 L1139.5,1084.9 L1128.4,1074.6 L1117.4,1069.0 L1106.3,1065.9 L1095.2,1064.2 L1084.2,1063.6 L1073.1,1063.5Z" fill="#8a9cb3" fill-opacity="0.74"/><path d="M1073.1,1063.5 L1084.2,1063.6 L1095.2,1064.4 L1106.3,1066.3 L1117.4,1069.9 L1128.4,1076.5 L1139.5,1088.6 L1150.6,1109.5 L1161.7,1141.9 L1172.7,1185.9 L1183.8,1237.0 L1194.9,1288.2 L1205.9,1332.1 L1217.0,1364.6 L1228.1,1385.5 L1239.2,1397.5 L1250.2,1404.1 L1261.3,1407.8 L1272.4,1409.7 L1283.4,1410.5 L1294.5,1410.6 L1294.5,1417.1 L1283.4,1417.0 L1272.4,1416.2 L1261.3,1414.3 L1250.2,1410.6 L1239.2,1404.0 L1228.1,1392.0 L1217.0,1371.2 L1205.9,1338.7 L1194.9,1294.8 L1183.8,1243.7 L1172.7,1192.6 L1161.7,1148.8 L1150.6,1116.3 L1139.5,1095.5 L1128.4,1083.4 L1117.4,1076.8 L1106.3,1073.2 L1095.2,1071.3 L1084.2,1070.5 L1073.1,1070.4Z" fill="#8a9cb3" fill-opacity="0.74"/><path d="M1073.1,1070.4 L1084.2,1070.5 L1095.2,1071.4 L1106.3,1073.6 L1117.4,1077.8 L1128.4,1085.4 L1139.5,1099.1 L1150.6,1123.1 L1161.7,1160.2 L1172.7,1210.6 L1183.8,1269.1 L1194.9,1327.7 L1205.9,1378.0 L1217.0,1415.2 L1228.1,1439.1 L1239.2,1452.9 L1250.2,1460.5 L1261.3,1464.7 L1272.4,1466.9 L1283.4,1467.8 L1294.5,1467.9 L1294.5,1470.4 L1283.4,1470.3 L1272.4,1469.4 L1261.3,1467.2 L1250.2,1463.0 L1239.2,1455.4 L1228.1,1441.7 L1217.0,1417.8 L1205.9,1380.6 L1194.9,1330.3 L1183.8,1271.7 L1172.7,1213.2 L1161.7,1162.9 L1150.6,1125.7 L1139.5,1101.8 L1128.4,1088.0 L1117.4,1080.4 L1106.3,1076.3 L1095.2,1074.1 L1084.2,1073.2 L1073.1,1073.0Z" fill="#8a9cb3" fill-opacity="0.74"/><path d="M1073.1,1073.0 L1084.2,1073.2 L1095.2,1074.1 L1106.3,1076.5 L1117.4,1080.9 L1128.4,1088.9 L1139.5,1103.5 L1150.6,1128.9 L1161.7,1168.3 L1172.7,1221.6 L1183.8,1283.7 L1194.9,1345.8 L1205.9,1399.1 L1217.0,1438.6 L1228.1,1463.9 L1239.2,1478.5 L1250.2,1486.6 L1261.3,1491.0 L1272.4,1493.3 L1283.4,1494.3 L1294.5,1494.4 L1294.5,1497.9 L1283.4,1497.8 L1272.4,1496.8 L1261.3,1494.5 L1250.2,1490.1 L1239.2,1482.0 L1228.1,1467.4 L1217.0,1442.1 L1205.9,1402.7 L1194.9,1349.4 L1183.8,1287.3 L1172.7,1225.3 L1161.7,1172.0 L1150.6,1132.6 L1139.5,1107.2 L1128.4,1092.6 L1117.4,1084.6 L1106.3,1080.2 L1095.2,1077.9 L1084.2,1076.9 L1073.1,1076.8Z" fill="#8a9cb3" fill-opacity="0.74"/><path d="M1073.1,1076.8 L1084.2,1076.9 L1095.2,1078.0 L1106.3,1080.7 L1117.4,1085.8 L1128.4,1095.0 L1139.5,1111.7 L1150.6,1140.8 L1161.7,1186.0 L1172.7,1247.1 L1183.8,1318.3 L1194.9,1389.5 L1205.9,1450.7 L1217.0,1495.9 L1228.1,1525.0 L1239.2,1541.7 L1250.2,1550.9 L1261.3,1556.0 L1272.4,1558.7 L1283.4,1559.7 L1294.5,1559.9 L1294.5,1562.4 L1283.4,1562.2 L1272.4,1561.2 L1261.3,1558.5 L1250.2,1553.4 L1239.2,1544.2 L1228.1,1527.5 L1217.0,1498.4 L1205.9,1453.2 L1194.9,1392.1 L1183.8,1320.9 L1172.7,1249.7 L1161.7,1188.6 L1150.6,1143.4 L1139.5,1114.4 L1128.4,1097.6 L1117.4,1088.4 L1106.3,1083.4 L1095.2,1080.7 L1084.2,1079.6 L1073.1,1079.4Z" fill="#8a9cb3" fill-opacity="0.74"/><path d="M1073.1,1079.4 L1084.2,1079.6 L1095.2,1080.7 L1106.3,1083.6 L1117.4,1088.9 L1128.4,1098.5 L1139.5,1116.1 L1150.6,1146.6 L1161.7,1194.0 L1172.7,1258.1 L1183.8,1332.7 L1194.9,1407.4 L1205.9,1471.5 L1217.0,1518.9 L1228.1,1549.4 L1239.2,1566.9 L1250.2,1576.6 L1261.3,1581.9 L1272.4,1584.7 L1283.4,1585.8 L1294.5,1586.0 L1294.5,1588.5 L1283.4,1588.3 L1272.4,1587.2 L1261.3,1584.4 L1250.2,1579.1 L1239.2,1569.4 L1228.1,1551.9 L1217.0,1521.4 L1205.9,1474.0 L1194.9,1409.9 L1183.8,1335.3 L1172.7,1260.7 L1161.7,1196.6 L1150.6,1149.2 L1139.5,1118.7 L1128.4,1101.2 L1117.4,1091.5 L1106.3,1086.2 L1095.2,1083.4 L1084.2,1082.3 L1073.1,1082.1Z" fill="#8a9cb3" fill-opacity="0.74"/><path d="M1073.1,1082.1 L1084.2,1082.3 L1095.2,1083.5 L1106.3,1086.4 L1117.4,1092.0 L1128.4,1102.1 L1139.5,1120.6 L1150.6,1152.6 L1161.7,1202.4 L1172.7,1269.7 L1183.8,1348.1 L1194.9,1426.5 L1205.9,1493.8 L1217.0,1543.6 L1228.1,1575.6 L1239.2,1594.1 L1250.2,1604.2 L1261.3,1609.8 L1272.4,1612.7 L1283.4,1613.9 L1294.5,1614.1 L1294.5,1619.1 L1283.4,1618.9 L1272.4,1617.7 L1261.3,1614.8 L1250.2,1609.2 L1239.2,1599.1 L1228.1,1580.6 L1217.0,1548.7 L1205.9,1498.9 L1194.9,1431.6 L1183.8,1353.3 L1172.7,1274.9 L1161.7,1207.6 L1150.6,1157.9 L1139.5,1125.9 L1128.4,1107.5 L1117.4,1097.3 L1106.3,1091.7 L1095.2,1088.8 L1084.2,1087.6 L1073.1,1087.4Z" fill="#8a9cb3" fill-opacity="0.74"/><path d="M1073.1,1087.4 L1084.2,1087.6 L1095.2,1088.9 L1106.3,1092.1 L1117.4,1098.2 L1128.4,1109.2 L1139.5,1129.3 L1150.6,1164.1 L1161.7,1218.2 L1172.7,1291.5 L1183.8,1376.7 L1194.9,1462.0 L1205.9,1535.2 L1217.0,1589.3 L1228.1,1624.1 L1239.2,1644.2 L1250.2,1655.2 L1261.3,1661.3 L1272.4,1664.5 L1283.4,1665.8 L1294.5,1666.0 L1294.5,1670.0 L1283.4,1669.8 L1272.4,1668.5 L1261.3,1665.3 L1250.2,1659.2 L1239.2,1648.2 L1228.1,1628.2 L1217.0,1593.4 L1205.9,1539.3 L1194.9,1466.1 L1183.8,1380.9 L1172.7,1295.6 L1161.7,1222.4 L1150.6,1168.3 L1139.5,1133.5 L1128.4,1113.5 L1117.4,1102.5 L1106.3,1096.4 L1095.2,1093.2 L1084.2,1091.9 L1073.1,1091.7Z" fill="#8a9cb3" fill-opacity="0.74"/><path d="M1073.1,1287.6 L1084.2,1287.4 L1095.2,1286.1 L1106.3,1282.8 L1117.4,1276.6 L1128.4,1265.4 L1139.5,1245.0 L1150.6,1209.5 L1161.7,1154.4 L1172.7,1079.8 L1183.8,993.0 L1194.9,906.2 L1205.9,831.6 L1217.0,776.5 L1228.1,741.0 L1239.2,720.6 L1250.2,709.4 L1261.3,703.2 L1272.4,699.9 L1283.4,698.6 L1294.5,698.4 L1294.5,699.9 L1283.4,700.1 L1272.4,701.4 L1261.3,704.7 L1250.2,710.9 L1239.2,722.1 L1228.1,742.5 L1217.0,778.0 L1205.9,833.1 L1194.9,907.6 L1183.8,994.5 L1172.7,1081.3 L1161.7,1155.8 L1150.6,1211.0 L1139.5,1246.4 L1128.4,1266.8 L1117.4,1278.0 L1106.3,1284.2 L1095.2,1287.5 L1084.2,1288.8 L1073.1,1289.0Z" fill="#8a9cb3" fill-opacity="0.74"/><path d="M1073.1,1289.0 L1084.2,1288.8 L1095.2,1287.6 L1106.3,1284.5 L1117.4,1278.7 L1128.4,1268.1 L1139.5,1248.9 L1150.6,1215.6 L1161.7,1163.8 L1172.7,1093.6 L1183.8,1012.0 L1194.9,930.4 L1205.9,860.2 L1217.0,808.4 L1228.1,775.1 L1239.2,755.9 L1250.2,745.3 L1261.3,739.5 L1272.4,736.4 L1283.4,735.2 L1294.5,735.0 L1294.5,735.6 L1283.4,735.8 L1272.4,737.0 L1261.3,740.1 L1250.2,745.9 L1239.2,756.5 L1228.1,775.7 L1217.0,809.0 L1205.9,860.8 L1194.9,930.9 L1183.8,1012.6 L1172.7,1094.2 L1161.7,1164.3 L1150.6,1216.2 L1139.5,1249.5 L1128.4,1268.7 L1117.4,1279.3 L1106.3,1285.1 L1095.2,1288.1 L1084.2,1289.4 L1073.1,1289.6Z" fill="#8a9cb3" fill-opacity="0.74"/><path d="M1073.1,1289.6 L1084.2,1289.4 L1095.2,1288.3 L1106.3,1285.6 L1117.4,1280.5 L1128.4,1271.2 L1139.5,1254.3 L1150.6,1225.0 L1161.7,1179.3 L1172.7,1117.6 L1183.8,1045.8 L1194.9,973.9 L1205.9,912.2 L1217.0,866.6 L1228.1,837.3 L1239.2,820.4 L1250.2,811.1 L1261.3,806.0 L1272.4,803.3 L1283.4,802.2 L1294.5,802.0 L1294.5,805.0 L1283.4,805.2 L1272.4,806.3 L1261.3,809.0 L1250.2,814.1 L1239.2,823.4 L1228.1,840.3 L1217.0,869.6 L1205.9,915.2 L1194.9,976.9 L1183.8,1048.7 L1172.7,1120.5 L1161.7,1182.2 L1150.6,1227.8 L1139.5,1257.1 L1128.4,1274.0 L1117.4,1283.3 L1106.3,1288.4 L1095.2,1291.1 L1084.2,1292.2 L1073.1,1292.4Z" fill="#8a9cb3" fill-opacity="0.74"/><path d="M1073.1,1292.4 L1084.2,1292.2 L1095.2,1291.2 L1106.3,1288.8 L1117.4,1284.1 L1128.4,1275.7 L1139.5,1260.4 L1150.6,1233.8 L1161.7,1192.4 L1172.7,1136.3 L1183.8,1071.1 L1194.9,1005.9 L1205.9,949.9 L1217.0,908.5 L1228.1,881.9 L1239.2,866.6 L1250.2,858.1 L1261.3,853.5 L1272.4,851.0 L1283.4,850.1 L1294.5,849.9 L1294.5,851.5 L1283.4,851.7 L1272.4,852.6 L1261.3,855.1 L1250.2,859.7 L1239.2,868.2 L1228.1,883.5 L1217.0,910.1 L1205.9,951.5 L1194.9,1007.5 L1183.8,1072.7 L1172.7,1137.9 L1161.7,1193.9 L1150.6,1235.3 L1139.5,1261.9 L1128.4,1277.2 L1117.4,1285.6 L1106.3,1290.3 L1095.2,1292.7 L1084.2,1293.7 L1073.1,1293.9Z" fill="#8a9cb3" fill-opacity="0.74"/><path d="M1073.1,1293.9 L1084.2,1293.7 L1095.2,1292.8 L1106.3,1290.6 L1117.4,1286.3 L1128.4,1278.5 L1139.5,1264.3 L1150.6,1239.7 L1161.7,1201.5 L1172.7,1149.7 L1183.8,1089.5 L1194.9,1029.2 L1205.9,977.5 L1217.0,939.3 L1228.1,914.7 L1239.2,900.5 L1250.2,892.7 L1261.3,888.4 L1272.4,886.2 L1283.4,885.2 L1294.5,885.1 L1294.5,887.1 L1283.4,887.2 L1272.4,888.2 L1261.3,890.4 L1250.2,894.7 L1239.2,902.5 L1228.1,916.7 L1217.0,941.2 L1205.9,979.5 L1194.9,1031.2 L1183.8,1091.4 L1172.7,1151.7 L1161.7,1203.4 L1150.6,1241.6 L1139.5,1266.2 L1128.4,1280.4 L1117.4,1288.1 L1106.3,1292.4 L1095.2,1294.7 L1084.2,1295.6 L1073.1,1295.8Z" fill="#8a9cb3" fill-opacity="0.74"/><path d="M1073.1,1295.8 L1084.2,1295.6 L1095.2,1294.8 L1106.3,1292.8 L1117.4,1289.0 L1128.4,1282.1 L1139.5,1269.4 L1150.6,1247.6 L1161.7,1213.5 L1172.7,1167.5 L1183.8,1113.9 L1194.9,1060.3 L1205.9,1014.3 L1217.0,980.3 L1228.1,958.4 L1239.2,945.8 L1250.2,938.9 L1261.3,935.0 L1272.4,933.0 L1283.4,932.2 L1294.5,932.1 L1294.5,933.1 L1283.4,933.2 L1272.4,934.0 L1261.3,936.0 L1250.2,939.9 L1239.2,946.8 L1228.1,959.4 L1217.0,981.3 L1205.9,1015.3 L1194.9,1061.3 L1183.8,1114.9 L1172.7,1168.5 L1161.7,1214.5 L1150.6,1248.5 L1139.5,1270.4 L1128.4,1283.0 L1117.4,1289.9 L1106.3,1293.7 L1095.2,1295.8 L1084.2,1296.6 L1073.1,1296.7Z" fill="#8a9cb3" fill-opacity="0.74"/><path d="M1073.1,1296.7 L1084.2,1296.6 L1095.2,1295.9 L1106.3,1294.2 L1117.4,1291.1 L1128.4,1285.3 L1139.5,1274.8 L1150.6,1256.6 L1161.7,1228.3 L1172.7,1190.0 L1183.8,1145.3 L1194.9,1100.7 L1205.9,1062.4 L1217.0,1034.1 L1228.1,1015.9 L1239.2,1005.4 L1250.2,999.6 L1261.3,996.5 L1272.4,994.8 L1283.4,994.1 L1294.5,994.0 L1294.5,995.5 L1283.4,995.6 L1272.4,996.3 L1261.3,998.0 L1250.2,1001.1 L1239.2,1006.9 L1228.1,1017.4 L1217.0,1035.6 L1205.9,1063.9 L1194.9,1102.2 L1183.8,1146.8 L1172.7,1191.4 L1161.7,1229.7 L1150.6,1258.0 L1139.5,1276.2 L1128.4,1286.7 L1117.4,1292.5 L1106.3,1295.6 L1095.2,1297.3 L1084.2,1298.0 L1073.1,1298.1Z" fill="#8a9cb3" fill-opacity="0.74"/><path d="M1073.1,1298.1 L1084.2,1298.0 L1095.2,1297.5 L1106.3,1296.2 L1117.4,1293.8 L1128.4,1289.3 L1139.5,1281.2 L1150.6,1267.2 L1161.7,1245.4 L1172.7,1215.9 L1183.8,1181.5 L1194.9,1147.2 L1205.9,1117.7 L1217.0,1095.9 L1228.1,1081.9 L1239.2,1073.8 L1250.2,1069.3 L1261.3,1066.9 L1272.4,1065.6 L1283.4,1065.1 L1294.5,1065.0 L1294.5,1067.0 L1283.4,1067.1 L1272.4,1067.6 L1261.3,1068.9 L1250.2,1071.3 L1239.2,1075.8 L1228.1,1083.9 L1217.0,1097.9 L1205.9,1119.7 L1194.9,1149.2 L1183.8,1183.5 L1172.7,1217.8 L1161.7,1247.3 L1150.6,1269.1 L1139.5,1283.1 L1128.4,1291.2 L1117.4,1295.6 L1106.3,1298.1 L1095.2,1299.4 L1084.2,1299.9 L1073.1,1300.0Z" fill="#8a9cb3" fill-opacity="0.74"/><path d="M1073.1,1300.0 L1084.2,1299.9 L1095.2,1299.5 L1106.3,1298.4 L1117.4,1296.3 L1128.4,1292.6 L1139.5,1285.7 L1150.6,1273.9 L1161.7,1255.4 L1172.7,1230.5 L1183.8,1201.5 L1194.9,1172.5 L1205.9,1147.5 L1217.0,1129.1 L1228.1,1117.2 L1239.2,1110.4 L1250.2,1106.7 L1261.3,1104.6 L1272.4,1103.5 L1283.4,1103.1 L1294.5,1103.0 L1294.5,1104.0 L1283.4,1104.1 L1272.4,1104.5 L1261.3,1105.6 L1250.2,1107.7 L1239.2,1111.4 L1228.1,1118.2 L1217.0,1130.1 L1205.9,1148.5 L1194.9,1173.4 L1183.8,1202.5 L1172.7,1231.5 L1161.7,1256.4 L1150.6,1274.8 L1139.5,1286.7 L1128.4,1293.5 L1117.4,1297.2 L1106.3,1299.3 L1095.2,1300.4 L1084.2,1300.8 L1073.1,1300.9Z" fill="#8a9cb3" fill-opacity="0.74"/><path d="M1073.1,1300.9 L1084.2,1300.9 L1095.2,1300.9 L1106.3,1300.8 L1117.4,1300.6 L1128.4,1300.3 L1139.5,1299.7 L1150.6,1298.6 L1161.7,1297.0 L1172.7,1294.8 L1183.8,1292.3 L1194.9,1289.7 L1205.9,1287.5 L1217.0,1285.9 L1228.1,1284.9 L1239.2,1284.3 L1250.2,1283.9 L1261.3,1283.7 L1272.4,1283.6 L1283.4,1283.6 L1294.5,1283.6 L1294.5,1285.6 L1283.4,1285.6 L1272.4,1285.6 L1261.3,1285.7 L1250.2,1285.9 L1239.2,1286.2 L1228.1,1286.8 L1217.0,1287.9 L1205.9,1289.5 L1194.9,1291.7 L1183.8,1294.2 L1172.7,1296.7 L1161.7,1298.9 L1150.6,1300.5 L1139.5,1301.5 L1128.4,1302.1 L1117.4,1302.5 L1106.3,1302.6 L1095.2,1302.7 L1084.2,1302.8 L1073.1,1302.8Z" fill="#8a9cb3" fill-opacity="0.74"/><path d="M1073.1,1302.8 L1084.2,1302.8 L1095.2,1302.9 L1106.3,1303.0 L1117.4,1303.3 L1128.4,1303.7 L1139.5,1304.6 L1150.6,1306.1 L1161.7,1308.5 L1172.7,1311.7 L1183.8,1315.4 L1194.9,1319.2 L1205.9,1322.4 L1217.0,1324.7 L1228.1,1326.3 L1239.2,1327.1 L1250.2,1327.6 L1261.3,1327.9 L1272.4,1328.0 L1283.4,1328.1 L1294.5,1328.1 L1294.5,1330.1 L1283.4,1330.1 L1272.4,1330.0 L1261.3,1329.9 L1250.2,1329.6 L1239.2,1329.1 L1228.1,1328.3 L1217.0,1326.7 L1205.9,1324.3 L1194.9,1321.1 L1183.8,1317.4 L1172.7,1313.6 L1161.7,1310.4 L1150.6,1308.0 L1139.5,1306.5 L1128.4,1305.6 L1117.4,1305.1 L1106.3,1304.9 L1095.2,1304.7 L1084.2,1304.7 L1073.1,1304.7Z" fill="#8a9cb3" fill-opacity="0.74"/><path d="M1073.1,1304.7 L1084.2,1304.7 L1095.2,1305.2 L1106.3,1306.5 L1117.4,1308.9 L1128.4,1313.2 L1139.5,1321.1 L1150.6,1334.8 L1161.7,1356.1 L1172.7,1384.8 L1183.8,1418.3 L1194.9,1451.8 L1205.9,1480.6 L1217.0,1501.9 L1228.1,1515.6 L1239.2,1523.4 L1250.2,1527.8 L1261.3,1530.2 L1272.4,1531.4 L1283.4,1531.9 L1294.5,1532.0 L1294.5,1534.0 L1283.4,1533.9 L1272.4,1533.4 L1261.3,1532.2 L1250.2,1529.8 L1239.2,1525.4 L1228.1,1517.5 L1217.0,1503.9 L1205.9,1482.6 L1194.9,1453.8 L1183.8,1420.3 L1172.7,1386.7 L1161.7,1358.0 L1150.6,1336.7 L1139.5,1323.0 L1128.4,1315.1 L1117.4,1310.8 L1106.3,1308.4 L1095.2,1307.1 L1084.2,1306.6 L1073.1,1306.5Z" fill="#8a9cb3" fill-opacity="0.74"/><path d="M1073.1,1306.5 L1084.2,1306.6 L1095.2,1307.2 L1106.3,1308.6 L1117.4,1311.3 L1128.4,1316.2 L1139.5,1325.0 L1150.6,1340.4 L1161.7,1364.4 L1172.7,1396.8 L1183.8,1434.5 L1194.9,1472.2 L1205.9,1504.6 L1217.0,1528.5 L1228.1,1543.9 L1239.2,1552.8 L1250.2,1557.6 L1261.3,1560.3 L1272.4,1561.7 L1283.4,1562.3 L1294.5,1562.4 L1294.5,1563.4 L1283.4,1563.3 L1272.4,1562.7 L1261.3,1561.3 L1250.2,1558.6 L1239.2,1553.8 L1228.1,1544.9 L1217.0,1529.5 L1205.9,1505.5 L1194.9,1473.2 L1183.8,1435.4 L1172.7,1397.7 L1161.7,1365.3 L1150.6,1341.4 L1139.5,1326.0 L1128.4,1317.1 L1117.4,1312.2 L1106.3,1309.6 L1095.2,1308.1 L1084.2,1307.6 L1073.1,1307.5Z" fill="#8a9cb3" fill-opacity="0.74"/><path d="M1073.1,1307.5 L1084.2,1307.6 L1095.2,1308.3 L1106.3,1310.1 L1117.4,1313.4 L1128.4,1319.5 L1139.5,1330.5 L1150.6,1349.7 L1161.7,1379.5 L1172.7,1419.8 L1183.8,1466.8 L1194.9,1513.7 L1205.9,1554.1 L1217.0,1583.9 L1228.1,1603.1 L1239.2,1614.1 L1250.2,1620.2 L1261.3,1623.5 L1272.4,1625.3 L1283.4,1626.0 L1294.5,1626.1 L1294.5,1630.1 L1283.4,1630.0 L1272.4,1629.3 L1261.3,1627.5 L1250.2,1624.2 L1239.2,1618.1 L1228.1,1607.0 L1217.0,1587.8 L1205.9,1558.0 L1194.9,1517.7 L1183.8,1470.7 L1172.7,1423.7 L1161.7,1383.3 L1150.6,1353.5 L1139.5,1334.3 L1128.4,1323.2 L1117.4,1317.2 L1106.3,1313.8 L1095.2,1312.0 L1084.2,1311.3 L1073.1,1311.2Z" fill="#8a9cb3" fill-opacity="0.74"/><path d="M1073.1,1311.2 L1084.2,1311.4 L1095.2,1312.2 L1106.3,1314.2 L1117.4,1318.0 L1128.4,1325.0 L1139.5,1337.7 L1150.6,1359.7 L1161.7,1393.9 L1172.7,1440.2 L1183.8,1494.1 L1194.9,1548.0 L1205.9,1594.3 L1217.0,1628.5 L1228.1,1650.5 L1239.2,1663.2 L1250.2,1670.2 L1261.3,1674.0 L1272.4,1676.1 L1283.4,1676.9 L1294.5,1677.0 L1294.5,1679.0 L1283.4,1678.9 L1272.4,1678.1 L1261.3,1676.0 L1250.2,1672.2 L1239.2,1665.2 L1228.1,1652.5 L1217.0,1630.5 L1205.9,1596.3 L1194.9,1550.0 L1183.8,1496.0 L1172.7,1442.1 L1161.7,1395.8 L1150.6,1361.6 L1139.5,1339.6 L1128.4,1326.9 L1117.4,1319.9 L1106.3,1316.1 L1095.2,1314.0 L1084.2,1313.2 L1073.1,1313.1Z" fill="#8a9cb3" fill-opacity="0.74"/><path d="M1073.1,1333.5 L1084.2,1333.3 L1095.2,1331.9 L1106.3,1328.4 L1117.4,1321.7 L1128.4,1309.6 L1139.5,1287.7 L1150.6,1249.5 L1161.7,1190.3 L1172.7,1110.1 L1183.8,1016.7 L1194.9,923.3 L1205.9,843.1 L1217.0,783.9 L1228.1,745.7 L1239.2,723.8 L1250.2,711.7 L1261.3,705.0 L1272.4,701.5 L1283.4,700.1 L1294.5,699.9 L1294.5,708.6 L1283.4,708.8 L1272.4,710.2 L1261.3,713.7 L1250.2,720.4 L1239.2,732.4 L1228.1,754.3 L1217.0,792.2 L1205.9,851.3 L1194.9,931.2 L1183.8,1024.3 L1172.7,1117.3 L1161.7,1197.2 L1150.6,1256.3 L1139.5,1294.2 L1128.4,1316.1 L1117.4,1328.1 L1106.3,1334.8 L1095.2,1338.3 L1084.2,1339.7 L1073.1,1339.9Z" fill="#8a9cb3" fill-opacity="0.74"/><path d="M1073.1,1339.9 L1084.2,1339.7 L1095.2,1338.3 L1106.3,1335.0 L1117.4,1328.6 L1128.4,1317.1 L1139.5,1296.2 L1150.6,1259.8 L1161.7,1203.3 L1172.7,1126.8 L1183.8,1037.8 L1194.9,948.7 L1205.9,872.2 L1217.0,815.7 L1228.1,779.3 L1239.2,758.4 L1250.2,746.9 L1261.3,740.5 L1272.4,737.2 L1283.4,735.8 L1294.5,735.6 L1294.5,738.6 L1283.4,738.8 L1272.4,740.2 L1261.3,743.5 L1250.2,749.8 L1239.2,761.3 L1228.1,782.3 L1217.0,818.6 L1205.9,875.0 L1194.9,951.4 L1183.8,1040.4 L1172.7,1129.3 L1161.7,1205.7 L1150.6,1262.1 L1139.5,1298.5 L1128.4,1319.4 L1117.4,1330.9 L1106.3,1337.2 L1095.2,1340.6 L1084.2,1341.9 L1073.1,1342.1Z" fill="#8a9cb3" fill-opacity="0.74"/><path d="M1073.1,1342.1 L1084.2,1341.9 L1095.2,1340.7 L1106.3,1337.8 L1117.4,1332.1 L1128.4,1321.9 L1139.5,1303.3 L1150.6,1270.9 L1161.7,1220.7 L1172.7,1152.7 L1183.8,1073.6 L1194.9,994.4 L1205.9,926.4 L1217.0,876.2 L1228.1,843.9 L1239.2,825.2 L1250.2,815.0 L1261.3,809.4 L1272.4,806.4 L1283.4,805.2 L1294.5,805.0 L1294.5,820.5 L1283.4,820.7 L1272.4,821.9 L1261.3,824.8 L1250.2,830.4 L1239.2,840.6 L1228.1,859.1 L1217.0,891.1 L1205.9,941.0 L1194.9,1008.5 L1183.8,1087.0 L1172.7,1165.6 L1161.7,1233.0 L1150.6,1282.9 L1139.5,1315.0 L1128.4,1333.4 L1117.4,1343.6 L1106.3,1349.2 L1095.2,1352.1 L1084.2,1353.3 L1073.1,1353.5Z" fill="#8a9cb3" fill-opacity="0.74"/><path d="M1073.1,1353.5 L1084.2,1353.3 L1095.2,1352.2 L1106.3,1349.4 L1117.4,1344.2 L1128.4,1334.6 L1139.5,1317.2 L1150.6,1287.0 L1161.7,1240.0 L1172.7,1176.5 L1183.8,1102.5 L1194.9,1028.5 L1205.9,965.0 L1217.0,918.0 L1228.1,887.8 L1239.2,870.4 L1250.2,860.8 L1261.3,855.6 L1272.4,852.8 L1283.4,851.7 L1294.5,851.5 L1294.5,855.0 L1283.4,855.2 L1272.4,856.3 L1261.3,859.1 L1250.2,864.3 L1239.2,873.9 L1228.1,891.2 L1217.0,921.4 L1205.9,968.3 L1194.9,1031.7 L1183.8,1105.5 L1172.7,1179.4 L1161.7,1242.8 L1150.6,1289.7 L1139.5,1319.8 L1128.4,1337.2 L1117.4,1346.8 L1106.3,1352.0 L1095.2,1354.8 L1084.2,1355.9 L1073.1,1356.1Z" fill="#8a9cb3" fill-opacity="0.74"/><path d="M1073.1,1356.1 L1084.2,1355.9 L1095.2,1354.9 L1106.3,1352.3 L1117.4,1347.4 L1128.4,1338.4 L1139.5,1322.2 L1150.6,1294.0 L1161.7,1250.1 L1172.7,1190.7 L1183.8,1121.6 L1194.9,1052.5 L1205.9,993.1 L1217.0,949.2 L1228.1,921.0 L1239.2,904.8 L1250.2,895.8 L1261.3,890.9 L1272.4,888.3 L1283.4,887.3 L1294.5,887.1 L1294.5,902.4 L1283.4,902.6 L1272.4,903.6 L1261.3,906.2 L1250.2,911.1 L1239.2,919.9 L1228.1,936.0 L1217.0,964.0 L1205.9,1007.5 L1194.9,1066.4 L1183.8,1134.9 L1172.7,1203.4 L1161.7,1262.2 L1150.6,1305.7 L1139.5,1333.7 L1128.4,1349.8 L1117.4,1358.7 L1106.3,1363.6 L1095.2,1366.2 L1084.2,1367.2 L1073.1,1367.4Z" fill="#8a9cb3" fill-opacity="0.74"/><path d="M1073.1,1367.4 L1084.2,1367.2 L1095.2,1366.2 L1106.3,1363.8 L1117.4,1359.3 L1128.4,1351.0 L1139.5,1335.9 L1150.6,1309.8 L1161.7,1269.2 L1172.7,1214.2 L1183.8,1150.2 L1194.9,1086.2 L1205.9,1031.3 L1217.0,990.6 L1228.1,964.5 L1239.2,949.5 L1250.2,941.2 L1261.3,936.6 L1272.4,934.2 L1283.4,933.3 L1294.5,933.1 L1294.5,936.6 L1283.4,936.8 L1272.4,937.7 L1261.3,940.1 L1250.2,944.7 L1239.2,952.9 L1228.1,967.9 L1217.0,994.0 L1205.9,1034.6 L1194.9,1089.4 L1183.8,1153.3 L1172.7,1217.1 L1161.7,1272.0 L1150.6,1312.5 L1139.5,1338.6 L1128.4,1353.6 L1117.4,1361.9 L1106.3,1366.4 L1095.2,1368.8 L1084.2,1369.8 L1073.1,1369.9Z" fill="#8a9cb3" fill-opacity="0.74"/><path d="M1073.1,1369.9 L1084.2,1369.8 L1095.2,1368.9 L1106.3,1366.6 L1117.4,1362.3 L1128.4,1354.6 L1139.5,1340.5 L1150.6,1315.9 L1161.7,1277.8 L1172.7,1226.3 L1183.8,1166.2 L1194.9,1106.2 L1205.9,1054.6 L1217.0,1016.5 L1228.1,992.0 L1239.2,977.8 L1250.2,970.1 L1261.3,965.8 L1272.4,963.5 L1283.4,962.6 L1294.5,962.5 L1294.5,964.5 L1283.4,964.6 L1272.4,965.5 L1261.3,967.8 L1250.2,972.1 L1239.2,979.8 L1228.1,993.9 L1217.0,1018.4 L1205.9,1056.5 L1194.9,1108.0 L1183.8,1167.9 L1172.7,1227.9 L1161.7,1279.4 L1150.6,1317.5 L1139.5,1342.0 L1128.4,1356.1 L1117.4,1363.8 L1106.3,1368.1 L1095.2,1370.4 L1084.2,1371.3 L1073.1,1371.4Z" fill="#8a9cb3" fill-opacity="0.74"/><path d="M1073.1,1371.4 L1084.2,1371.3 L1095.2,1370.4 L1106.3,1368.3 L1117.4,1364.4 L1128.4,1357.2 L1139.5,1344.2 L1150.6,1321.6 L1161.7,1286.4 L1172.7,1238.8 L1183.8,1183.4 L1194.9,1128.1 L1205.9,1080.5 L1217.0,1045.3 L1228.1,1022.7 L1239.2,1009.7 L1250.2,1002.5 L1261.3,998.5 L1272.4,996.5 L1283.4,995.6 L1294.5,995.5 L1294.5,1000.5 L1283.4,1000.6 L1272.4,1001.5 L1261.3,1003.5 L1250.2,1007.5 L1239.2,1014.6 L1228.1,1027.6 L1217.0,1050.1 L1205.9,1085.2 L1194.9,1132.6 L1183.8,1187.8 L1172.7,1243.0 L1161.7,1290.4 L1150.6,1325.4 L1139.5,1348.0 L1128.4,1361.0 L1117.4,1368.1 L1106.3,1372.0 L1095.2,1374.1 L1084.2,1374.9 L1073.1,1375.1Z" fill="#8a9cb3" fill-opacity="0.74"/><path d="M1073.1,1375.1 L1084.2,1375.0 L1095.2,1374.2 L1106.3,1372.3 L1117.4,1368.7 L1128.4,1362.3 L1139.5,1350.4 L1150.6,1330.0 L1161.7,1298.1 L1172.7,1255.0 L1183.8,1204.8 L1194.9,1154.6 L1205.9,1111.5 L1217.0,1079.6 L1228.1,1059.1 L1239.2,1047.3 L1250.2,1040.8 L1261.3,1037.3 L1272.4,1035.4 L1283.4,1034.6 L1294.5,1034.5 L1294.5,1037.4 L1283.4,1037.5 L1272.4,1038.3 L1261.3,1040.2 L1250.2,1043.7 L1239.2,1050.2 L1228.1,1062.0 L1217.0,1082.4 L1205.9,1114.2 L1194.9,1157.2 L1183.8,1207.3 L1172.7,1257.4 L1161.7,1300.4 L1150.6,1332.2 L1139.5,1352.6 L1128.4,1364.4 L1117.4,1370.9 L1106.3,1374.5 L1095.2,1376.3 L1084.2,1377.1 L1073.1,1377.2Z" fill="#8a9cb3" fill-opacity="0.74"/><path d="M1073.1,1377.2 L1084.2,1377.1 L1095.2,1376.4 L1106.3,1374.7 L1117.4,1371.4 L1128.4,1365.5 L1139.5,1354.8 L1150.6,1336.1 L1161.7,1307.1 L1172.7,1267.8 L1183.8,1222.1 L1194.9,1176.4 L1205.9,1137.1 L1217.0,1108.1 L1228.1,1089.4 L1239.2,1078.7 L1250.2,1072.8 L1261.3,1069.5 L1272.4,1067.8 L1283.4,1067.1 L1294.5,1067.0 L1294.5,1075.0 L1283.4,1075.1 L1272.4,1075.8 L1261.3,1077.5 L1250.2,1080.7 L1239.2,1086.6 L1228.1,1097.3 L1217.0,1115.8 L1205.9,1144.7 L1194.9,1183.6 L1183.8,1229.0 L1172.7,1274.5 L1161.7,1313.4 L1150.6,1342.3 L1139.5,1360.8 L1128.4,1371.5 L1117.4,1377.4 L1106.3,1380.6 L1095.2,1382.3 L1084.2,1383.0 L1073.1,1383.1Z" fill="#8a9cb3" fill-opacity="0.74"/><path d="M1073.1,1383.1 L1084.2,1383.0 L1095.2,1382.4 L1106.3,1380.8 L1117.4,1377.9 L1128.4,1372.6 L1139.5,1362.9 L1150.6,1346.1 L1161.7,1320.0 L1172.7,1284.7 L1183.8,1243.5 L1194.9,1202.4 L1205.9,1167.1 L1217.0,1141.0 L1228.1,1124.2 L1239.2,1114.5 L1250.2,1109.2 L1261.3,1106.3 L1272.4,1104.7 L1283.4,1104.1 L1294.5,1104.0 L1294.5,1107.9 L1283.4,1108.0 L1272.4,1108.6 L1261.3,1110.2 L1250.2,1113.1 L1239.2,1118.4 L1228.1,1128.0 L1217.0,1144.7 L1205.9,1170.8 L1194.9,1206.0 L1183.8,1246.9 L1172.7,1287.9 L1161.7,1323.1 L1150.6,1349.1 L1139.5,1365.9 L1128.4,1375.5 L1117.4,1380.8 L1106.3,1383.7 L1095.2,1385.3 L1084.2,1385.9 L1073.1,1386.0Z" fill="#8a9cb3" fill-opacity="0.74"/><path d="M1073.1,1386.0 L1084.2,1385.9 L1095.2,1385.4 L1106.3,1384.2 L1117.4,1381.9 L1128.4,1377.8 L1139.5,1370.3 L1150.6,1357.4 L1161.7,1337.1 L1172.7,1309.8 L1183.8,1278.0 L1194.9,1246.2 L1205.9,1218.8 L1217.0,1198.6 L1228.1,1185.6 L1239.2,1178.1 L1250.2,1174.0 L1261.3,1171.8 L1272.4,1170.6 L1283.4,1170.1 L1294.5,1170.0 L1294.5,1175.0 L1283.4,1175.1 L1272.4,1175.6 L1261.3,1176.7 L1250.2,1179.0 L1239.2,1183.1 L1228.1,1190.5 L1217.0,1203.4 L1205.9,1223.5 L1194.9,1250.7 L1183.8,1282.3 L1172.7,1314.0 L1161.7,1341.1 L1150.6,1361.2 L1139.5,1374.1 L1128.4,1381.6 L1117.4,1385.7 L1106.3,1387.9 L1095.2,1389.1 L1084.2,1389.6 L1073.1,1389.6Z" fill="#8a9cb3" fill-opacity="0.74"/><path d="M1073.1,1389.6 L1084.2,1389.6 L1095.2,1389.1 L1106.3,1388.1 L1117.4,1386.0 L1128.4,1382.2 L1139.5,1375.4 L1150.6,1363.6 L1161.7,1345.2 L1172.7,1320.3 L1183.8,1291.3 L1194.9,1262.3 L1205.9,1237.5 L1217.0,1219.1 L1228.1,1207.2 L1239.2,1200.4 L1250.2,1196.7 L1261.3,1194.6 L1272.4,1193.5 L1283.4,1193.1 L1294.5,1193.0 L1294.5,1196.0 L1283.4,1196.1 L1272.4,1196.5 L1261.3,1197.6 L1250.2,1199.6 L1239.2,1203.4 L1228.1,1210.2 L1217.0,1222.0 L1205.9,1240.3 L1194.9,1265.1 L1183.8,1293.9 L1172.7,1322.8 L1161.7,1347.6 L1150.6,1365.9 L1139.5,1377.7 L1128.4,1384.5 L1117.4,1388.2 L1106.3,1390.3 L1095.2,1391.4 L1084.2,1391.8 L1073.1,1391.9Z" fill="#8a9cb3" fill-opacity="0.74"/><path d="M1073.1,1391.9 L1084.2,1391.8 L1095.2,1391.4 L1106.3,1390.4 L1117.4,1388.6 L1128.4,1385.3 L1139.5,1379.2 L1150.6,1368.6 L1161.7,1352.2 L1172.7,1330.0 L1183.8,1304.2 L1194.9,1278.3 L1205.9,1256.1 L1217.0,1239.7 L1228.1,1229.2 L1239.2,1223.1 L1250.2,1219.8 L1261.3,1217.9 L1272.4,1217.0 L1283.4,1216.6 L1294.5,1216.5 L1294.5,1219.0 L1283.4,1219.1 L1272.4,1219.4 L1261.3,1220.4 L1250.2,1222.3 L1239.2,1225.6 L1228.1,1231.6 L1217.0,1242.1 L1205.9,1258.5 L1194.9,1280.6 L1183.8,1306.3 L1172.7,1332.1 L1161.7,1354.2 L1150.6,1370.5 L1139.5,1381.1 L1128.4,1387.1 L1117.4,1390.4 L1106.3,1392.3 L1095.2,1393.2 L1084.2,1393.6 L1073.1,1393.7Z" fill="#8a9cb3" fill-opacity="0.74"/><path d="M1073.1,1393.7 L1084.2,1393.6 L1095.2,1393.3 L1106.3,1392.5 L1117.4,1391.0 L1128.4,1388.2 L1139.5,1383.1 L1150.6,1374.3 L1161.7,1360.5 L1172.7,1342.0 L1183.8,1320.3 L1194.9,1298.7 L1205.9,1280.2 L1217.0,1266.4 L1228.1,1257.6 L1239.2,1252.5 L1250.2,1249.7 L1261.3,1248.2 L1272.4,1247.4 L1283.4,1247.1 L1294.5,1247.0 L1294.5,1251.0 L1283.4,1251.1 L1272.4,1251.4 L1261.3,1252.2 L1250.2,1253.7 L1239.2,1256.5 L1228.1,1261.5 L1217.0,1270.3 L1205.9,1283.9 L1194.9,1302.4 L1183.8,1323.8 L1172.7,1345.3 L1161.7,1363.7 L1150.6,1377.3 L1139.5,1386.1 L1128.4,1391.2 L1117.4,1393.9 L1106.3,1395.5 L1095.2,1396.3 L1084.2,1396.6 L1073.1,1396.6Z" fill="#8a9cb3" fill-opacity="0.74"/><path d="M1073.1,1396.6 L1084.2,1396.6 L1095.2,1396.4 L1106.3,1395.7 L1117.4,1394.6 L1128.4,1392.5 L1139.5,1388.6 L1150.6,1381.9 L1161.7,1371.5 L1172.7,1357.5 L1183.8,1341.1 L1194.9,1324.8 L1205.9,1310.7 L1217.0,1300.3 L1228.1,1293.6 L1239.2,1289.8 L1250.2,1287.7 L1261.3,1286.5 L1272.4,1285.9 L1283.4,1285.6 L1294.5,1285.6 L1294.5,1292.4 L1283.4,1292.4 L1272.4,1292.7 L1261.3,1293.3 L1250.2,1294.4 L1239.2,1296.5 L1228.1,1300.3 L1217.0,1306.9 L1205.9,1317.1 L1194.9,1330.9 L1183.8,1347.0 L1172.7,1363.1 L1161.7,1376.9 L1150.6,1387.2 L1139.5,1393.7 L1128.4,1397.5 L1117.4,1399.6 L1106.3,1400.8 L1095.2,1401.4 L1084.2,1401.6 L1073.1,1401.6Z" fill="#8a9cb3" fill-opacity="0.74"/><path d="M1073.1,1401.6 L1084.2,1401.6 L1095.2,1401.5 L1106.3,1401.1 L1117.4,1400.3 L1128.4,1398.9 L1139.5,1396.5 L1150.6,1392.2 L1161.7,1385.5 L1172.7,1376.4 L1183.8,1365.9 L1194.9,1355.3 L1205.9,1346.3 L1217.0,1339.6 L1228.1,1335.3 L1239.2,1332.8 L1250.2,1331.4 L1261.3,1330.7 L1272.4,1330.3 L1283.4,1330.1 L1294.5,1330.1 L1294.5,1338.0 L1283.4,1338.0 L1272.4,1338.2 L1261.3,1338.6 L1250.2,1339.3 L1239.2,1340.6 L1228.1,1343.0 L1217.0,1347.2 L1205.9,1353.7 L1194.9,1362.5 L1183.8,1372.7 L1172.7,1383.0 L1161.7,1391.8 L1150.6,1398.3 L1139.5,1402.4 L1128.4,1404.8 L1117.4,1406.2 L1106.3,1406.9 L1095.2,1407.3 L1084.2,1407.4 L1073.1,1407.5Z" fill="#8a9cb3" fill-opacity="0.74"/><path d="M1073.1,1407.5 L1084.2,1407.4 L1095.2,1407.3 L1106.3,1407.1 L1117.4,1406.6 L1128.4,1405.8 L1139.5,1404.2 L1150.6,1401.6 L1161.7,1397.4 L1172.7,1391.7 L1183.8,1385.2 L1194.9,1378.6 L1205.9,1373.0 L1217.0,1368.8 L1228.1,1366.1 L1239.2,1364.6 L1250.2,1363.7 L1261.3,1363.3 L1272.4,1363.0 L1283.4,1362.9 L1294.5,1362.9 L1294.5,1365.0 L1283.4,1365.0 L1272.4,1365.1 L1261.3,1365.4 L1250.2,1365.8 L1239.2,1366.7 L1228.1,1368.2 L1217.0,1370.8 L1205.9,1374.9 L1194.9,1380.5 L1183.8,1387.0 L1172.7,1393.5 L1161.7,1399.1 L1150.6,1403.2 L1139.5,1405.8 L1128.4,1407.3 L1117.4,1408.2 L1106.3,1408.6 L1095.2,1408.9 L1084.2,1409.0 L1073.1,1409.0Z" fill="#8a9cb3" fill-opacity="0.74"/><path d="M1073.1,1409.0 L1084.2,1409.0 L1095.2,1409.0 L1106.3,1409.1 L1117.4,1409.2 L1128.4,1409.4 L1139.5,1409.8 L1150.6,1410.5 L1161.7,1411.5 L1172.7,1412.9 L1183.8,1414.6 L1194.9,1416.2 L1205.9,1417.6 L1217.0,1418.6 L1228.1,1419.3 L1239.2,1419.7 L1250.2,1419.9 L1261.3,1420.0 L1272.4,1420.1 L1283.4,1420.1 L1294.5,1420.1 L1294.5,1425.0 L1283.4,1425.0 L1272.4,1425.0 L1261.3,1424.9 L1250.2,1424.8 L1239.2,1424.5 L1228.1,1424.1 L1217.0,1423.4 L1205.9,1422.2 L1194.9,1420.6 L1183.8,1418.8 L1172.7,1417.0 L1161.7,1415.4 L1150.6,1414.2 L1139.5,1413.5 L1128.4,1413.1 L1117.4,1412.8 L1106.3,1412.7 L1095.2,1412.6 L1084.2,1412.6 L1073.1,1412.6Z" fill="#8a9cb3" fill-opacity="0.74"/><path d="M1073.1,1412.6 L1084.2,1412.6 L1095.2,1412.8 L1106.3,1413.1 L1117.4,1413.7 L1128.4,1414.8 L1139.5,1416.8 L1150.6,1420.3 L1161.7,1425.7 L1172.7,1433.0 L1183.8,1441.5 L1194.9,1450.0 L1205.9,1457.3 L1217.0,1462.7 L1228.1,1466.2 L1239.2,1468.2 L1250.2,1469.3 L1261.3,1469.9 L1272.4,1470.3 L1283.4,1470.4 L1294.5,1470.4 L1294.5,1473.0 L1283.4,1473.0 L1272.4,1472.8 L1261.3,1472.5 L1250.2,1471.9 L1239.2,1470.8 L1228.1,1468.8 L1217.0,1465.3 L1205.9,1459.8 L1194.9,1452.4 L1183.8,1443.8 L1172.7,1435.1 L1161.7,1427.7 L1150.6,1422.3 L1139.5,1418.8 L1128.4,1416.7 L1117.4,1415.6 L1106.3,1415.0 L1095.2,1414.7 L1084.2,1414.5 L1073.1,1414.5Z" fill="#8a9cb3" fill-opacity="0.74"/><path d="M1073.1,1414.5 L1084.2,1414.6 L1095.2,1414.7 L1106.3,1415.2 L1117.4,1416.1 L1128.4,1417.8 L1139.5,1420.8 L1150.6,1426.0 L1161.7,1434.0 L1172.7,1445.0 L1183.8,1457.7 L1194.9,1470.4 L1205.9,1481.4 L1217.0,1489.5 L1228.1,1494.7 L1239.2,1497.6 L1250.2,1499.3 L1261.3,1500.2 L1272.4,1500.7 L1283.4,1500.9 L1294.5,1500.9 L1294.5,1504.5 L1283.4,1504.5 L1272.4,1504.3 L1261.3,1503.8 L1250.2,1502.9 L1239.2,1501.2 L1228.1,1498.2 L1217.0,1492.9 L1205.9,1484.8 L1194.9,1473.7 L1183.8,1460.8 L1172.7,1448.0 L1161.7,1436.9 L1150.6,1428.7 L1139.5,1423.5 L1128.4,1420.5 L1117.4,1418.8 L1106.3,1417.9 L1095.2,1417.4 L1084.2,1417.2 L1073.1,1417.2Z" fill="#8a9cb3" fill-opacity="0.74"/><path d="M1073.1,1417.2 L1084.2,1417.2 L1095.2,1417.5 L1106.3,1418.1 L1117.4,1419.3 L1128.4,1421.6 L1139.5,1425.6 L1150.6,1432.7 L1161.7,1443.6 L1172.7,1458.4 L1183.8,1475.6 L1194.9,1492.8 L1205.9,1507.6 L1217.0,1518.5 L1228.1,1525.5 L1239.2,1529.6 L1250.2,1531.8 L1261.3,1533.1 L1272.4,1533.7 L1283.4,1534.0 L1294.5,1534.0 L1294.5,1540.0 L1283.4,1540.0 L1272.4,1539.7 L1261.3,1539.0 L1250.2,1537.8 L1239.2,1535.5 L1228.1,1531.4 L1217.0,1524.3 L1205.9,1513.2 L1194.9,1498.2 L1183.8,1480.8 L1172.7,1463.3 L1161.7,1448.4 L1150.6,1437.3 L1139.5,1430.2 L1128.4,1426.0 L1117.4,1423.8 L1106.3,1422.5 L1095.2,1421.9 L1084.2,1421.6 L1073.1,1421.6Z" fill="#8a9cb3" fill-opacity="0.74"/><path d="M1073.1,1421.6 L1084.2,1421.6 L1095.2,1422.0 L1106.3,1422.7 L1117.4,1424.2 L1128.4,1426.9 L1139.5,1431.8 L1150.6,1440.4 L1161.7,1453.6 L1172.7,1471.6 L1183.8,1492.5 L1194.9,1513.4 L1205.9,1531.3 L1217.0,1544.6 L1228.1,1553.1 L1239.2,1558.1 L1250.2,1560.8 L1261.3,1562.2 L1272.4,1563.0 L1283.4,1563.4 L1294.5,1563.4 L1294.5,1565.9 L1283.4,1565.9 L1272.4,1565.5 L1261.3,1564.7 L1250.2,1563.2 L1239.2,1560.5 L1228.1,1555.6 L1217.0,1547.0 L1205.9,1533.7 L1194.9,1515.7 L1183.8,1494.7 L1172.7,1473.7 L1161.7,1455.6 L1150.6,1442.3 L1139.5,1433.7 L1128.4,1428.8 L1117.4,1426.1 L1106.3,1424.6 L1095.2,1423.8 L1084.2,1423.5 L1073.1,1423.4Z" fill="#8a9cb3" fill-opacity="0.74"/><path d="M1073.1,1423.4 L1084.2,1423.5 L1095.2,1423.9 L1106.3,1424.8 L1117.4,1426.5 L1128.4,1429.6 L1139.5,1435.4 L1150.6,1445.3 L1161.7,1460.7 L1172.7,1481.6 L1183.8,1506.0 L1194.9,1530.3 L1205.9,1551.2 L1217.0,1566.6 L1228.1,1576.6 L1239.2,1582.3 L1250.2,1585.4 L1261.3,1587.2 L1272.4,1588.1 L1283.4,1588.4 L1294.5,1588.5 L1294.5,1591.1 L1283.4,1591.0 L1272.4,1590.7 L1261.3,1589.8 L1250.2,1588.0 L1239.2,1584.9 L1228.1,1579.1 L1217.0,1569.1 L1205.9,1553.6 L1194.9,1532.6 L1183.8,1508.2 L1172.7,1483.8 L1161.7,1462.8 L1150.6,1447.3 L1139.5,1437.3 L1128.4,1431.6 L1117.4,1428.4 L1106.3,1426.7 L1095.2,1425.8 L1084.2,1425.4 L1073.1,1425.3Z" fill="#8a9cb3" fill-opacity="0.74"/><path d="M1073.1,1425.3 L1084.2,1425.4 L1095.2,1425.9 L1106.3,1427.0 L1117.4,1429.2 L1128.4,1433.1 L1139.5,1440.2 L1150.6,1452.5 L1161.7,1471.6 L1172.7,1497.5 L1183.8,1527.7 L1194.9,1557.9 L1205.9,1583.8 L1217.0,1603.0 L1228.1,1615.3 L1239.2,1622.4 L1250.2,1626.3 L1261.3,1628.4 L1272.4,1629.6 L1283.4,1630.0 L1294.5,1630.1 L1294.5,1643.6 L1283.4,1643.5 L1272.4,1643.1 L1261.3,1641.9 L1250.2,1639.7 L1239.2,1635.8 L1228.1,1628.5 L1217.0,1616.0 L1205.9,1596.5 L1194.9,1570.1 L1183.8,1539.4 L1172.7,1508.7 L1161.7,1482.4 L1150.6,1462.9 L1139.5,1450.3 L1128.4,1443.1 L1117.4,1439.2 L1106.3,1437.0 L1095.2,1435.8 L1084.2,1435.3 L1073.1,1435.3Z" fill="#8a9cb3" fill-opacity="0.74"/><path d="M1073.1,1435.3 L1084.2,1435.4 L1095.2,1435.9 L1106.3,1437.2 L1117.4,1439.8 L1128.4,1444.5 L1139.5,1452.9 L1150.6,1467.6 L1161.7,1490.4 L1172.7,1521.2 L1183.8,1557.1 L1194.9,1593.1 L1205.9,1623.9 L1217.0,1646.7 L1228.1,1661.4 L1239.2,1669.8 L1250.2,1674.5 L1261.3,1677.0 L1272.4,1678.4 L1283.4,1678.9 L1294.5,1679.0 L1294.5,1689.5 L1283.4,1689.4 L1272.4,1688.9 L1261.3,1687.5 L1250.2,1684.9 L1239.2,1680.2 L1228.1,1671.7 L1217.0,1656.8 L1205.9,1633.8 L1194.9,1602.6 L1183.8,1566.2 L1172.7,1529.9 L1161.7,1498.7 L1150.6,1475.7 L1139.5,1460.8 L1128.4,1452.3 L1117.4,1447.6 L1106.3,1445.0 L1095.2,1443.6 L1084.2,1443.1 L1073.1,1443.0Z" fill="#8a9cb3" fill-opacity="0.74"/><path d="M1073.1,1112.4 L1084.2,1112.3 L1095.2,1111.3 L1106.3,1109.0 L1117.4,1104.6 L1128.4,1096.6 L1139.5,1082.1 L1150.6,1056.8 L1161.7,1017.6 L1172.7,964.5 L1183.8,902.7 L1194.9,840.8 L1205.9,787.7 L1217.0,748.5 L1228.1,723.2 L1239.2,708.7 L1250.2,700.7 L1261.3,696.3 L1272.4,694.0 L1283.4,693.0 L1294.5,692.9 L1294.5,696.9 L1283.4,697.0 L1272.4,698.0 L1261.3,700.3 L1250.2,704.7 L1239.2,712.7 L1228.1,727.3 L1217.0,752.5 L1205.9,791.8 L1194.9,845.0 L1183.8,906.8 L1172.7,968.7 L1161.7,1021.9 L1150.6,1061.2 L1139.5,1086.4 L1128.4,1101.0 L1117.4,1109.0 L1106.3,1113.4 L1095.2,1115.7 L1084.2,1116.6 L1073.1,1116.8Z" fill="#98685d" fill-opacity="0.7"/><path d="M1073.1,1116.8 L1084.2,1116.7 L1095.2,1115.8 L1106.3,1113.7 L1117.4,1109.6 L1128.4,1102.3 L1139.5,1089.0 L1150.6,1065.9 L1161.7,1030.0 L1172.7,981.5 L1183.8,924.9 L1194.9,868.3 L1205.9,819.8 L1217.0,783.9 L1228.1,760.8 L1239.2,747.5 L1250.2,740.1 L1261.3,736.1 L1272.4,734.0 L1283.4,733.1 L1294.5,733.0 L1294.5,734.2 L1283.4,734.3 L1272.4,735.2 L1261.3,737.3 L1250.2,741.3 L1239.2,748.7 L1228.1,762.0 L1217.0,785.1 L1205.9,821.0 L1194.9,869.6 L1183.8,926.2 L1172.7,982.7 L1161.7,1031.3 L1150.6,1067.2 L1139.5,1090.3 L1128.4,1103.7 L1117.4,1111.0 L1106.3,1115.0 L1095.2,1117.1 L1084.2,1118.0 L1073.1,1118.1Z" fill="#98685d" fill-opacity="0.7"/><path d="M1073.1,1118.1 L1084.2,1118.0 L1095.2,1117.2 L1106.3,1115.2 L1117.4,1111.4 L1128.4,1104.6 L1139.5,1092.1 L1150.6,1070.4 L1161.7,1036.7 L1172.7,991.2 L1183.8,938.1 L1194.9,885.1 L1205.9,839.5 L1217.0,805.8 L1228.1,784.1 L1239.2,771.7 L1250.2,764.8 L1261.3,761.0 L1272.4,759.0 L1283.4,758.2 L1294.5,758.1 L1294.5,759.6 L1283.4,759.7 L1272.4,760.5 L1261.3,762.5 L1250.2,766.3 L1239.2,773.2 L1228.1,785.7 L1217.0,807.3 L1205.9,841.0 L1194.9,886.6 L1183.8,939.7 L1172.7,992.8 L1161.7,1038.3 L1150.6,1072.0 L1139.5,1093.7 L1128.4,1106.2 L1117.4,1113.1 L1106.3,1116.8 L1095.2,1118.8 L1084.2,1119.6 L1073.1,1119.8Z" fill="#98685d" fill-opacity="0.7"/><path d="M1073.1,1119.8 L1084.2,1119.6 L1095.2,1118.9 L1106.3,1117.1 L1117.4,1113.7 L1128.4,1107.5 L1139.5,1096.3 L1150.6,1076.7 L1161.7,1046.3 L1172.7,1005.2 L1183.8,957.4 L1194.9,909.5 L1205.9,868.4 L1217.0,838.0 L1228.1,818.5 L1239.2,807.2 L1250.2,801.0 L1261.3,797.6 L1272.4,795.8 L1283.4,795.1 L1294.5,795.0 L1294.5,800.0 L1283.4,800.1 L1272.4,800.8 L1261.3,802.6 L1250.2,806.1 L1239.2,812.2 L1228.1,823.5 L1217.0,843.1 L1205.9,873.5 L1194.9,914.7 L1183.8,962.6 L1172.7,1010.6 L1161.7,1051.7 L1150.6,1082.2 L1139.5,1101.7 L1128.4,1113.0 L1117.4,1119.2 L1106.3,1122.6 L1095.2,1124.4 L1084.2,1125.1 L1073.1,1125.2Z" fill="#98685d" fill-opacity="0.7"/><path d="M1073.1,1125.2 L1084.2,1125.2 L1095.2,1124.6 L1106.3,1123.2 L1117.4,1120.6 L1128.4,1115.8 L1139.5,1107.2 L1150.6,1092.1 L1161.7,1068.7 L1172.7,1037.0 L1183.8,1000.2 L1194.9,963.3 L1205.9,931.6 L1217.0,908.2 L1228.1,893.2 L1239.2,884.5 L1250.2,879.8 L1261.3,877.1 L1272.4,875.7 L1283.4,875.2 L1294.5,875.1 L1294.5,882.1 L1283.4,882.2 L1272.4,882.7 L1261.3,884.1 L1250.2,886.8 L1239.2,891.5 L1228.1,900.2 L1217.0,915.3 L1205.9,938.8 L1194.9,970.6 L1183.8,1007.5 L1172.7,1044.5 L1161.7,1076.2 L1150.6,1099.7 L1139.5,1114.8 L1128.4,1123.5 L1117.4,1128.3 L1106.3,1130.9 L1095.2,1132.3 L1084.2,1132.8 L1073.1,1132.9Z" fill="#98685d" fill-opacity="0.7"/><path d="M1073.1,1132.9 L1084.2,1132.9 L1095.2,1132.4 L1106.3,1131.3 L1117.4,1129.1 L1128.4,1125.2 L1139.5,1118.1 L1150.6,1105.8 L1161.7,1086.6 L1172.7,1060.7 L1183.8,1030.5 L1194.9,1000.3 L1205.9,974.4 L1217.0,955.2 L1228.1,942.9 L1239.2,935.8 L1250.2,931.9 L1261.3,929.8 L1272.4,928.6 L1283.4,928.2 L1294.5,928.1 L1294.5,930.6 L1283.4,930.7 L1272.4,931.1 L1261.3,932.3 L1250.2,934.4 L1239.2,938.3 L1228.1,945.4 L1217.0,957.8 L1205.9,977.0 L1194.9,1002.9 L1183.8,1033.1 L1172.7,1063.4 L1161.7,1089.3 L1150.6,1108.5 L1139.5,1120.8 L1128.4,1128.0 L1117.4,1131.9 L1106.3,1134.0 L1095.2,1135.2 L1084.2,1135.6 L1073.1,1135.7Z" fill="#98685d" fill-opacity="0.7"/><path d="M1073.1,1135.7 L1084.2,1135.6 L1095.2,1135.2 L1106.3,1134.3 L1117.4,1132.4 L1128.4,1129.0 L1139.5,1122.9 L1150.6,1112.3 L1161.7,1095.9 L1172.7,1073.6 L1183.8,1047.6 L1194.9,1021.7 L1205.9,999.4 L1217.0,982.9 L1228.1,972.3 L1239.2,966.2 L1250.2,962.9 L1261.3,961.0 L1272.4,960.1 L1283.4,959.7 L1294.5,959.6 L1294.5,961.1 L1283.4,961.2 L1272.4,961.6 L1261.3,962.5 L1250.2,964.4 L1239.2,967.7 L1228.1,973.8 L1217.0,984.4 L1205.9,1000.9 L1194.9,1023.2 L1183.8,1049.2 L1172.7,1075.2 L1161.7,1097.5 L1150.6,1114.0 L1139.5,1124.6 L1128.4,1130.7 L1117.4,1134.0 L1106.3,1135.9 L1095.2,1136.9 L1084.2,1137.3 L1073.1,1137.3Z" fill="#98685d" fill-opacity="0.7"/><path d="M1073.1,1137.3 L1084.2,1137.3 L1095.2,1137.0 L1106.3,1136.4 L1117.4,1135.3 L1128.4,1133.2 L1139.5,1129.5 L1150.6,1122.9 L1161.7,1112.7 L1172.7,1099.0 L1183.8,1082.9 L1194.9,1066.9 L1205.9,1053.1 L1217.0,1042.9 L1228.1,1036.4 L1239.2,1032.6 L1250.2,1030.5 L1261.3,1029.4 L1272.4,1028.8 L1283.4,1028.5 L1294.5,1028.5 L1294.5,1033.5 L1283.4,1033.5 L1272.4,1033.8 L1261.3,1034.4 L1250.2,1035.5 L1239.2,1037.6 L1228.1,1041.4 L1217.0,1048.0 L1205.9,1058.2 L1194.9,1072.0 L1183.8,1088.2 L1172.7,1104.3 L1161.7,1118.1 L1150.6,1128.3 L1139.5,1134.9 L1128.4,1138.7 L1117.4,1140.8 L1106.3,1141.9 L1095.2,1142.5 L1084.2,1142.8 L1073.1,1142.8Z" fill="#98685d" fill-opacity="0.7"/><path d="M1073.1,1142.8 L1084.2,1142.8 L1095.2,1142.6 L1106.3,1142.1 L1117.4,1141.2 L1128.4,1139.6 L1139.5,1136.6 L1150.6,1131.4 L1161.7,1123.4 L1172.7,1112.6 L1183.8,1099.9 L1194.9,1087.3 L1205.9,1076.4 L1217.0,1068.4 L1228.1,1063.2 L1239.2,1060.2 L1250.2,1058.6 L1261.3,1057.7 L1272.4,1057.2 L1283.4,1057.0 L1294.5,1057.0 L1294.5,1063.0 L1283.4,1063.0 L1272.4,1063.2 L1261.3,1063.7 L1250.2,1064.6 L1239.2,1066.3 L1228.1,1069.3 L1217.0,1074.4 L1205.9,1082.5 L1194.9,1093.5 L1183.8,1106.2 L1172.7,1118.9 L1161.7,1129.9 L1150.6,1138.0 L1139.5,1143.2 L1128.4,1146.2 L1117.4,1147.8 L1106.3,1148.7 L1095.2,1149.2 L1084.2,1149.4 L1073.1,1149.4Z" fill="#98685d" fill-opacity="0.7"/><path d="M1073.1,1149.4 L1084.2,1149.4 L1095.2,1149.3 L1106.3,1149.0 L1117.4,1148.4 L1128.4,1147.4 L1139.5,1145.6 L1150.6,1142.5 L1161.7,1137.6 L1172.7,1130.9 L1183.8,1123.2 L1194.9,1115.5 L1205.9,1108.8 L1217.0,1103.9 L1228.1,1100.8 L1239.2,1099.0 L1250.2,1098.0 L1261.3,1097.4 L1272.4,1097.1 L1283.4,1097.0 L1294.5,1097.0 L1294.5,1101.0 L1283.4,1101.0 L1272.4,1101.1 L1261.3,1101.4 L1250.2,1102.0 L1239.2,1103.0 L1228.1,1104.8 L1217.0,1108.0 L1205.9,1112.9 L1194.9,1119.6 L1183.8,1127.4 L1172.7,1135.2 L1161.7,1141.9 L1150.6,1146.8 L1139.5,1150.0 L1128.4,1151.8 L1117.4,1152.8 L1106.3,1153.4 L1095.2,1153.7 L1084.2,1153.8 L1073.1,1153.8Z" fill="#98685d" fill-opacity="0.7"/><path d="M1073.1,1153.8 L1084.2,1153.8 L1095.2,1153.8 L1106.3,1153.6 L1117.4,1153.4 L1128.4,1153.1 L1139.5,1152.4 L1150.6,1151.3 L1161.7,1149.5 L1172.7,1147.2 L1183.8,1144.4 L1194.9,1141.6 L1205.9,1139.2 L1217.0,1137.5 L1228.1,1136.4 L1239.2,1135.7 L1250.2,1135.4 L1261.3,1135.2 L1272.4,1135.0 L1283.4,1135.0 L1294.5,1135.0 L1294.5,1143.0 L1283.4,1143.0 L1272.4,1143.1 L1261.3,1143.2 L1250.2,1143.4 L1239.2,1143.7 L1228.1,1144.4 L1217.0,1145.6 L1205.9,1147.4 L1194.9,1149.9 L1183.8,1152.8 L1172.7,1155.7 L1161.7,1158.2 L1150.6,1160.0 L1139.5,1161.2 L1128.4,1161.8 L1117.4,1162.2 L1106.3,1162.4 L1095.2,1162.5 L1084.2,1162.6 L1073.1,1162.6Z" fill="#98685d" fill-opacity="0.7"/><path d="M1073.1,1162.6 L1084.2,1162.6 L1095.2,1162.8 L1106.3,1163.2 L1117.4,1164.0 L1128.4,1165.3 L1139.5,1167.9 L1150.6,1172.3 L1161.7,1179.2 L1172.7,1188.5 L1183.8,1199.3 L1194.9,1210.1 L1205.9,1219.4 L1217.0,1226.3 L1228.1,1230.7 L1239.2,1233.2 L1250.2,1234.6 L1261.3,1235.4 L1272.4,1235.8 L1283.4,1236.0 L1294.5,1236.0 L1294.5,1244.0 L1283.4,1244.0 L1272.4,1243.8 L1261.3,1243.4 L1250.2,1242.6 L1239.2,1241.3 L1228.1,1238.7 L1217.0,1234.4 L1205.9,1227.6 L1194.9,1218.4 L1183.8,1207.7 L1172.7,1197.0 L1161.7,1187.8 L1150.6,1181.0 L1139.5,1176.6 L1128.4,1174.1 L1117.4,1172.7 L1106.3,1172.0 L1095.2,1171.6 L1084.2,1171.4 L1073.1,1171.4Z" fill="#98685d" fill-opacity="0.7"/><path d="M1073.1,1171.4 L1084.2,1171.4 L1095.2,1171.6 L1106.3,1172.2 L1117.4,1173.3 L1128.4,1175.3 L1139.5,1178.9 L1150.6,1185.2 L1161.7,1194.9 L1172.7,1208.1 L1183.8,1223.5 L1194.9,1238.8 L1205.9,1252.0 L1217.0,1261.8 L1228.1,1268.1 L1239.2,1271.7 L1250.2,1273.7 L1261.3,1274.8 L1272.4,1275.3 L1283.4,1275.6 L1294.5,1275.6 L1294.5,1281.6 L1283.4,1281.6 L1272.4,1281.3 L1261.3,1280.8 L1250.2,1279.7 L1239.2,1277.7 L1228.1,1274.1 L1217.0,1267.9 L1205.9,1258.2 L1194.9,1245.1 L1183.8,1229.8 L1172.7,1214.5 L1161.7,1201.4 L1150.6,1191.7 L1139.5,1185.5 L1128.4,1181.9 L1117.4,1179.9 L1106.3,1178.8 L1095.2,1178.2 L1084.2,1178.0 L1073.1,1178.0Z" fill="#98685d" fill-opacity="0.7"/><path d="M1073.1,1178.0 L1084.2,1178.0 L1095.2,1178.3 L1106.3,1179.1 L1117.4,1180.6 L1128.4,1183.3 L1139.5,1188.2 L1150.6,1196.7 L1161.7,1210.0 L1172.7,1227.9 L1183.8,1248.8 L1194.9,1269.7 L1205.9,1287.6 L1217.0,1300.8 L1228.1,1309.4 L1239.2,1314.3 L1250.2,1317.0 L1261.3,1318.5 L1272.4,1319.2 L1283.4,1319.6 L1294.5,1319.6 L1294.5,1325.6 L1283.4,1325.6 L1272.4,1325.2 L1261.3,1324.5 L1250.2,1323.0 L1239.2,1320.3 L1228.1,1315.4 L1217.0,1306.9 L1205.9,1293.7 L1194.9,1275.9 L1183.8,1255.1 L1172.7,1234.3 L1161.7,1216.4 L1150.6,1203.2 L1139.5,1194.8 L1128.4,1189.9 L1117.4,1187.2 L1106.3,1185.7 L1095.2,1184.9 L1084.2,1184.6 L1073.1,1184.5Z" fill="#98685d" fill-opacity="0.7"/><path d="M1073.1,1184.5 L1084.2,1184.6 L1095.2,1185.0 L1106.3,1186.0 L1117.4,1187.8 L1128.4,1191.2 L1139.5,1197.3 L1150.6,1207.8 L1161.7,1224.3 L1172.7,1246.6 L1183.8,1272.5 L1194.9,1298.4 L1205.9,1320.6 L1217.0,1337.1 L1228.1,1347.7 L1239.2,1353.8 L1250.2,1357.1 L1261.3,1359.0 L1272.4,1359.9 L1283.4,1360.3 L1294.5,1360.4 L1294.5,1361.9 L1283.4,1361.8 L1272.4,1361.4 L1261.3,1360.5 L1250.2,1358.6 L1239.2,1355.3 L1228.1,1349.2 L1217.0,1338.6 L1205.9,1322.2 L1194.9,1299.9 L1183.8,1274.0 L1172.7,1248.2 L1161.7,1225.9 L1150.6,1209.5 L1139.5,1198.9 L1128.4,1192.8 L1117.4,1189.5 L1106.3,1187.6 L1095.2,1186.6 L1084.2,1186.3 L1073.1,1186.2Z" fill="#98685d" fill-opacity="0.7"/><path d="M1073.1,1186.2 L1084.2,1186.3 L1095.2,1186.7 L1106.3,1187.8 L1117.4,1189.9 L1128.4,1193.7 L1139.5,1200.6 L1150.6,1212.5 L1161.7,1231.1 L1172.7,1256.3 L1183.8,1285.6 L1194.9,1314.9 L1205.9,1340.1 L1217.0,1358.7 L1228.1,1370.6 L1239.2,1377.5 L1250.2,1381.3 L1261.3,1383.4 L1272.4,1384.5 L1283.4,1384.9 L1294.5,1385.0 L1294.5,1387.5 L1283.4,1387.4 L1272.4,1387.0 L1261.3,1385.9 L1250.2,1383.8 L1239.2,1380.0 L1228.1,1373.1 L1217.0,1361.2 L1205.9,1342.6 L1194.9,1317.5 L1183.8,1288.2 L1172.7,1259.0 L1161.7,1233.8 L1150.6,1215.2 L1139.5,1203.3 L1128.4,1196.4 L1117.4,1192.6 L1106.3,1190.5 L1095.2,1189.5 L1084.2,1189.0 L1073.1,1188.9Z" fill="#98685d" fill-opacity="0.7"/><path d="M1073.1,1188.9 L1084.2,1189.0 L1095.2,1189.5 L1106.3,1190.8 L1117.4,1193.2 L1128.4,1197.5 L1139.5,1205.4 L1150.6,1219.2 L1161.7,1240.5 L1172.7,1269.4 L1183.8,1303.0 L1194.9,1336.6 L1205.9,1365.5 L1217.0,1386.9 L1228.1,1400.6 L1239.2,1408.5 L1250.2,1412.9 L1261.3,1415.2 L1272.4,1416.5 L1283.4,1417.0 L1294.5,1417.1 L1294.5,1419.1 L1283.4,1419.0 L1272.4,1418.5 L1261.3,1417.3 L1250.2,1414.9 L1239.2,1410.5 L1228.1,1402.6 L1217.0,1388.9 L1205.9,1367.6 L1194.9,1338.7 L1183.8,1305.1 L1172.7,1271.5 L1161.7,1242.7 L1150.6,1221.3 L1139.5,1207.6 L1128.4,1199.7 L1117.4,1195.4 L1106.3,1193.0 L1095.2,1191.7 L1084.2,1191.2 L1073.1,1191.1Z" fill="#98685d" fill-opacity="0.7"/><path d="M1073.1,1191.1 L1084.2,1191.2 L1095.2,1191.8 L1106.3,1193.2 L1117.4,1195.9 L1128.4,1200.7 L1139.5,1209.5 L1150.6,1224.8 L1161.7,1248.5 L1172.7,1280.7 L1183.8,1318.1 L1194.9,1355.5 L1205.9,1387.7 L1217.0,1411.5 L1228.1,1426.7 L1239.2,1435.5 L1250.2,1440.4 L1261.3,1443.0 L1272.4,1444.4 L1283.4,1445.0 L1294.5,1445.1 L1294.5,1446.1 L1283.4,1446.0 L1272.4,1445.4 L1261.3,1444.0 L1250.2,1441.4 L1239.2,1436.5 L1228.1,1427.7 L1217.0,1412.5 L1205.9,1388.7 L1194.9,1356.6 L1183.8,1319.2 L1172.7,1281.8 L1161.7,1249.6 L1150.6,1225.9 L1139.5,1210.6 L1128.4,1201.8 L1117.4,1197.0 L1106.3,1194.3 L1095.2,1192.9 L1084.2,1192.3 L1073.1,1192.2Z" fill="#98685d" fill-opacity="0.7"/><path d="M1073.1,1192.2 L1084.2,1192.3 L1095.2,1193.0 L1106.3,1194.7 L1117.4,1197.9 L1128.4,1203.7 L1139.5,1214.3 L1150.6,1232.7 L1161.7,1261.3 L1172.7,1300.0 L1183.8,1345.1 L1194.9,1390.1 L1205.9,1428.8 L1217.0,1457.4 L1228.1,1475.8 L1239.2,1486.4 L1250.2,1492.2 L1261.3,1495.4 L1272.4,1497.1 L1283.4,1497.8 L1294.5,1497.9 L1294.5,1499.9 L1283.4,1499.8 L1272.4,1499.1 L1261.3,1497.4 L1250.2,1494.2 L1239.2,1488.4 L1228.1,1477.8 L1217.0,1459.4 L1205.9,1430.8 L1194.9,1392.2 L1183.8,1347.2 L1172.7,1302.1 L1161.7,1263.5 L1150.6,1234.9 L1139.5,1216.5 L1128.4,1205.9 L1117.4,1200.1 L1106.3,1196.9 L1095.2,1195.2 L1084.2,1194.5 L1073.1,1194.4Z" fill="#98685d" fill-opacity="0.7"/><path d="M1073.1,1194.4 L1084.2,1194.5 L1095.2,1195.3 L1106.3,1197.1 L1117.4,1200.6 L1128.4,1206.8 L1139.5,1218.3 L1150.6,1238.1 L1161.7,1268.9 L1172.7,1310.6 L1183.8,1359.2 L1194.9,1407.8 L1205.9,1449.5 L1217.0,1480.3 L1228.1,1500.2 L1239.2,1511.6 L1250.2,1517.9 L1261.3,1521.3 L1272.4,1523.2 L1283.4,1523.9 L1294.5,1524.0 L1294.5,1530.0 L1283.4,1529.9 L1272.4,1529.2 L1261.3,1527.3 L1250.2,1523.9 L1239.2,1517.6 L1228.1,1506.2 L1217.0,1486.4 L1205.9,1455.6 L1194.9,1414.0 L1183.8,1365.5 L1172.7,1317.0 L1161.7,1275.4 L1150.6,1244.6 L1139.5,1224.8 L1128.4,1213.4 L1117.4,1207.1 L1106.3,1203.7 L1095.2,1201.9 L1084.2,1201.1 L1073.1,1201.0Z" fill="#98685d" fill-opacity="0.7"/><path d="M1073.1,1201.0 L1084.2,1201.2 L1095.2,1202.1 L1106.3,1204.4 L1117.4,1208.8 L1128.4,1216.8 L1139.5,1231.3 L1150.6,1256.4 L1161.7,1295.5 L1172.7,1348.4 L1183.8,1410.1 L1194.9,1471.7 L1205.9,1524.6 L1217.0,1563.7 L1228.1,1588.9 L1239.2,1603.4 L1250.2,1611.3 L1261.3,1615.7 L1272.4,1618.0 L1283.4,1619.0 L1294.5,1619.1 L1294.5,1624.1 L1283.4,1624.0 L1272.4,1623.0 L1261.3,1620.7 L1250.2,1616.3 L1239.2,1608.4 L1228.1,1593.9 L1217.0,1568.8 L1205.9,1529.7 L1194.9,1476.8 L1183.8,1415.3 L1172.7,1353.8 L1161.7,1300.9 L1150.6,1261.8 L1139.5,1236.7 L1128.4,1222.2 L1117.4,1214.3 L1106.3,1209.9 L1095.2,1207.6 L1084.2,1206.7 L1073.1,1206.5Z" fill="#98685d" fill-opacity="0.7"/><path d="M1073.1,1206.5 L1084.2,1206.7 L1095.2,1207.7 L1106.3,1210.3 L1117.4,1215.1 L1128.4,1224.0 L1139.5,1240.0 L1150.6,1267.9 L1161.7,1311.3 L1172.7,1370.0 L1183.8,1438.3 L1194.9,1506.6 L1205.9,1565.2 L1217.0,1608.6 L1228.1,1636.5 L1239.2,1652.5 L1250.2,1661.4 L1261.3,1666.2 L1272.4,1668.8 L1283.4,1669.8 L1294.5,1670.0 L1294.5,1675.0 L1283.4,1674.8 L1272.4,1673.8 L1261.3,1671.2 L1250.2,1666.4 L1239.2,1657.6 L1228.1,1641.5 L1217.0,1613.7 L1205.9,1570.3 L1194.9,1511.7 L1183.8,1443.5 L1172.7,1375.3 L1161.7,1316.7 L1150.6,1273.3 L1139.5,1245.5 L1128.4,1229.4 L1117.4,1220.6 L1106.3,1215.8 L1095.2,1213.2 L1084.2,1212.2 L1073.1,1212.0Z" fill="#98685d" fill-opacity="0.7"/><path d="M1073.1,1233.6 L1084.2,1233.4 L1095.2,1232.2 L1106.3,1229.2 L1117.4,1223.6 L1128.4,1213.4 L1139.5,1194.8 L1150.6,1162.5 L1161.7,1112.3 L1172.7,1044.3 L1183.8,965.2 L1194.9,886.2 L1205.9,818.2 L1217.0,768.0 L1228.1,735.7 L1239.2,717.1 L1250.2,706.9 L1261.3,701.3 L1272.4,698.3 L1283.4,697.1 L1294.5,696.9 L1294.5,698.4 L1283.4,698.6 L1272.4,699.8 L1261.3,702.8 L1250.2,708.4 L1239.2,718.6 L1228.1,737.2 L1217.0,769.5 L1205.9,819.7 L1194.9,887.6 L1183.8,966.6 L1172.7,1045.7 L1161.7,1113.6 L1150.6,1163.8 L1139.5,1196.0 L1128.4,1214.6 L1117.4,1224.9 L1106.3,1230.5 L1095.2,1233.5 L1084.2,1234.7 L1073.1,1234.8Z" fill="#8a4a3c" fill-opacity="0.7"/><path d="M1073.1,1234.8 L1084.2,1234.7 L1095.2,1233.6 L1106.3,1230.8 L1117.4,1225.5 L1128.4,1216.0 L1139.5,1198.6 L1150.6,1168.5 L1161.7,1121.7 L1172.7,1058.3 L1183.8,984.5 L1194.9,910.7 L1205.9,847.4 L1217.0,800.5 L1228.1,770.4 L1239.2,753.1 L1250.2,743.5 L1261.3,738.3 L1272.4,735.5 L1283.4,734.4 L1294.5,734.2 L1294.5,735.0 L1283.4,735.2 L1272.4,736.3 L1261.3,739.1 L1250.2,744.3 L1239.2,753.9 L1228.1,771.2 L1217.0,801.3 L1205.9,848.1 L1194.9,911.5 L1183.8,985.3 L1172.7,1059.0 L1161.7,1122.4 L1150.6,1169.2 L1139.5,1199.3 L1128.4,1216.7 L1117.4,1226.2 L1106.3,1231.5 L1095.2,1234.2 L1084.2,1235.3 L1073.1,1235.5Z" fill="#8a4a3c" fill-opacity="0.7"/><path d="M1073.1,1235.5 L1084.2,1235.4 L1095.2,1234.3 L1106.3,1231.7 L1117.4,1226.7 L1128.4,1217.6 L1139.5,1201.1 L1150.6,1172.5 L1161.7,1127.9 L1172.7,1067.7 L1183.8,997.6 L1194.9,927.4 L1205.9,867.2 L1217.0,822.7 L1228.1,794.0 L1239.2,777.5 L1250.2,768.5 L1261.3,763.5 L1272.4,760.8 L1283.4,759.8 L1294.5,759.6 L1294.5,761.1 L1283.4,761.3 L1272.4,762.3 L1261.3,765.0 L1250.2,770.0 L1239.2,779.0 L1228.1,795.5 L1217.0,824.1 L1205.9,868.6 L1194.9,928.8 L1183.8,998.9 L1172.7,1069.0 L1161.7,1129.2 L1150.6,1173.7 L1139.5,1202.4 L1128.4,1218.8 L1117.4,1227.9 L1106.3,1232.9 L1095.2,1235.5 L1084.2,1236.6 L1073.1,1236.8Z" fill="#8a4a3c" fill-opacity="0.7"/><path d="M1073.1,1236.8 L1084.2,1236.6 L1095.2,1235.6 L1106.3,1233.2 L1117.4,1228.6 L1128.4,1220.3 L1139.5,1205.2 L1150.6,1178.9 L1161.7,1138.0 L1172.7,1082.7 L1183.8,1018.4 L1194.9,954.0 L1205.9,898.7 L1217.0,857.9 L1228.1,831.6 L1239.2,816.5 L1250.2,808.1 L1261.3,803.5 L1272.4,801.1 L1283.4,800.2 L1294.5,800.0 L1294.5,802.0 L1283.4,802.2 L1272.4,803.1 L1261.3,805.5 L1250.2,810.1 L1239.2,818.4 L1228.1,833.6 L1217.0,859.8 L1205.9,900.7 L1194.9,955.9 L1183.8,1020.2 L1172.7,1084.5 L1161.7,1139.8 L1150.6,1180.6 L1139.5,1206.9 L1128.4,1222.0 L1117.4,1230.3 L1106.3,1234.9 L1095.2,1237.3 L1084.2,1238.3 L1073.1,1238.4Z" fill="#8a4a3c" fill-opacity="0.7"/><path d="M1073.1,1238.4 L1084.2,1238.3 L1095.2,1237.5 L1106.3,1235.5 L1117.4,1231.8 L1128.4,1225.0 L1139.5,1212.7 L1150.6,1191.2 L1161.7,1157.9 L1172.7,1112.8 L1183.8,1060.3 L1194.9,1007.8 L1205.9,962.7 L1217.0,929.3 L1228.1,907.9 L1239.2,895.5 L1250.2,888.7 L1261.3,885.0 L1272.4,883.0 L1283.4,882.2 L1294.5,882.1 L1294.5,885.1 L1283.4,885.2 L1272.4,886.0 L1261.3,888.0 L1250.2,891.7 L1239.2,898.5 L1228.1,910.8 L1217.0,932.2 L1205.9,965.5 L1194.9,1010.6 L1183.8,1063.0 L1172.7,1115.5 L1161.7,1160.5 L1150.6,1193.8 L1139.5,1215.2 L1128.4,1227.5 L1117.4,1234.3 L1106.3,1238.0 L1095.2,1240.0 L1084.2,1240.8 L1073.1,1240.9Z" fill="#8a4a3c" fill-opacity="0.7"/><path d="M1073.1,1240.9 L1084.2,1240.8 L1095.2,1240.1 L1106.3,1238.4 L1117.4,1235.2 L1128.4,1229.2 L1139.5,1218.5 L1150.6,1199.8 L1161.7,1170.8 L1172.7,1131.5 L1183.8,1085.8 L1194.9,1040.0 L1205.9,1000.8 L1217.0,971.7 L1228.1,953.0 L1239.2,942.3 L1250.2,936.4 L1261.3,933.1 L1272.4,931.4 L1283.4,930.7 L1294.5,930.6 L1294.5,932.1 L1283.4,932.2 L1272.4,932.9 L1261.3,934.6 L1250.2,937.9 L1239.2,943.8 L1228.1,954.5 L1217.0,973.2 L1205.9,1002.2 L1194.9,1041.4 L1183.8,1087.1 L1172.7,1132.8 L1161.7,1172.1 L1150.6,1201.1 L1139.5,1219.7 L1128.4,1230.5 L1117.4,1236.4 L1106.3,1239.7 L1095.2,1241.4 L1084.2,1242.1 L1073.1,1242.2Z" fill="#8a4a3c" fill-opacity="0.7"/><path d="M1073.1,1242.2 L1084.2,1242.1 L1095.2,1241.5 L1106.3,1239.9 L1117.4,1236.9 L1128.4,1231.6 L1139.5,1221.8 L1150.6,1204.9 L1161.7,1178.6 L1172.7,1143.1 L1183.8,1101.6 L1194.9,1060.2 L1205.9,1024.6 L1217.0,998.3 L1228.1,981.4 L1239.2,971.7 L1250.2,966.3 L1261.3,963.4 L1272.4,961.8 L1283.4,961.2 L1294.5,961.1 L1294.5,962.5 L1283.4,962.6 L1272.4,963.2 L1261.3,964.8 L1250.2,967.7 L1239.2,973.1 L1228.1,982.8 L1217.0,999.7 L1205.9,1026.0 L1194.9,1061.5 L1183.8,1102.9 L1172.7,1144.3 L1161.7,1179.9 L1150.6,1206.1 L1139.5,1223.0 L1128.4,1232.8 L1117.4,1238.1 L1106.3,1241.1 L1095.2,1242.6 L1084.2,1243.2 L1073.1,1243.3Z" fill="#8a4a3c" fill-opacity="0.7"/><path d="M1073.1,1243.3 L1084.2,1243.3 L1095.2,1242.8 L1106.3,1241.6 L1117.4,1239.4 L1128.4,1235.4 L1139.5,1228.2 L1150.6,1215.5 L1161.7,1195.9 L1172.7,1169.3 L1183.8,1138.4 L1194.9,1107.5 L1205.9,1080.9 L1217.0,1061.3 L1228.1,1048.7 L1239.2,1041.4 L1250.2,1037.4 L1261.3,1035.2 L1272.4,1034.0 L1283.4,1033.6 L1294.5,1033.5 L1294.5,1034.5 L1283.4,1034.6 L1272.4,1035.0 L1261.3,1036.2 L1250.2,1038.4 L1239.2,1042.4 L1228.1,1049.7 L1217.0,1062.3 L1205.9,1081.9 L1194.9,1108.4 L1183.8,1139.3 L1172.7,1170.2 L1161.7,1196.8 L1150.6,1216.4 L1139.5,1229.0 L1128.4,1236.3 L1117.4,1240.3 L1106.3,1242.5 L1095.2,1243.6 L1084.2,1244.1 L1073.1,1244.2Z" fill="#8a4a3c" fill-opacity="0.7"/><path d="M1073.1,1244.2 L1084.2,1244.1 L1095.2,1243.7 L1106.3,1242.7 L1117.4,1240.8 L1128.4,1237.4 L1139.5,1231.1 L1150.6,1220.2 L1161.7,1203.2 L1172.7,1180.3 L1183.8,1153.6 L1194.9,1126.9 L1205.9,1104.0 L1217.0,1087.0 L1228.1,1076.1 L1239.2,1069.8 L1250.2,1066.4 L1261.3,1064.5 L1272.4,1063.5 L1283.4,1063.1 L1294.5,1063.0 L1294.5,1065.0 L1283.4,1065.1 L1272.4,1065.5 L1261.3,1066.5 L1250.2,1068.4 L1239.2,1071.8 L1228.1,1078.1 L1217.0,1089.0 L1205.9,1105.9 L1194.9,1128.8 L1183.8,1155.4 L1172.7,1182.1 L1161.7,1205.0 L1150.6,1221.9 L1139.5,1232.8 L1128.4,1239.0 L1117.4,1242.5 L1106.3,1244.4 L1095.2,1245.4 L1084.2,1245.8 L1073.1,1245.8Z" fill="#8a4a3c" fill-opacity="0.7"/><path d="M1073.1,1245.8 L1084.2,1245.8 L1095.2,1245.5 L1106.3,1244.7 L1117.4,1243.1 L1128.4,1240.4 L1139.5,1235.4 L1150.6,1226.7 L1161.7,1213.1 L1172.7,1194.8 L1183.8,1173.4 L1194.9,1152.1 L1205.9,1133.7 L1217.0,1120.2 L1228.1,1111.5 L1239.2,1106.5 L1250.2,1103.7 L1261.3,1102.2 L1272.4,1101.4 L1283.4,1101.1 L1294.5,1101.0 L1294.5,1103.0 L1283.4,1103.1 L1272.4,1103.4 L1261.3,1104.2 L1250.2,1105.7 L1239.2,1108.4 L1228.1,1113.5 L1217.0,1122.1 L1205.9,1135.7 L1194.9,1154.0 L1183.8,1175.3 L1172.7,1196.6 L1161.7,1214.8 L1150.6,1228.4 L1139.5,1237.1 L1128.4,1242.1 L1117.4,1244.8 L1106.3,1246.3 L1095.2,1247.1 L1084.2,1247.5 L1073.1,1247.5Z" fill="#8a4a3c" fill-opacity="0.7"/><path d="M1073.1,1247.5 L1084.2,1247.5 L1095.2,1247.2 L1106.3,1246.7 L1117.4,1245.6 L1128.4,1243.6 L1139.5,1239.9 L1150.6,1233.7 L1161.7,1223.9 L1172.7,1210.7 L1183.8,1195.3 L1194.9,1179.9 L1205.9,1166.6 L1217.0,1156.8 L1228.1,1150.6 L1239.2,1146.9 L1250.2,1144.9 L1261.3,1143.8 L1272.4,1143.3 L1283.4,1143.0 L1294.5,1143.0 L1294.5,1146.0 L1283.4,1146.0 L1272.4,1146.3 L1261.3,1146.8 L1250.2,1147.9 L1239.2,1149.9 L1228.1,1153.5 L1217.0,1159.8 L1205.9,1169.5 L1194.9,1182.7 L1183.8,1198.0 L1172.7,1213.3 L1161.7,1226.5 L1150.6,1236.2 L1139.5,1242.5 L1128.4,1246.1 L1117.4,1248.1 L1106.3,1249.2 L1095.2,1249.7 L1084.2,1250.0 L1073.1,1250.0Z" fill="#8a4a3c" fill-opacity="0.7"/><path d="M1073.1,1250.0 L1084.2,1250.0 L1095.2,1250.0 L1106.3,1250.0 L1117.4,1249.9 L1128.4,1249.8 L1139.5,1249.6 L1150.6,1249.2 L1161.7,1248.7 L1172.7,1247.9 L1183.8,1247.0 L1194.9,1246.1 L1205.9,1245.4 L1217.0,1244.8 L1228.1,1244.4 L1239.2,1244.2 L1250.2,1244.1 L1261.3,1244.0 L1272.4,1244.0 L1283.4,1244.0 L1294.5,1244.0 L1294.5,1247.0 L1283.4,1247.0 L1272.4,1247.0 L1261.3,1247.0 L1250.2,1247.1 L1239.2,1247.2 L1228.1,1247.4 L1217.0,1247.7 L1205.9,1248.2 L1194.9,1248.9 L1183.8,1249.8 L1172.7,1250.6 L1161.7,1251.3 L1150.6,1251.8 L1139.5,1252.1 L1128.4,1252.3 L1117.4,1252.4 L1106.3,1252.5 L1095.2,1252.5 L1084.2,1252.5 L1073.1,1252.5Z" fill="#8a4a3c" fill-opacity="0.7"/><path d="M1073.1,1252.5 L1084.2,1252.5 L1095.2,1252.6 L1106.3,1252.7 L1117.4,1253.0 L1128.4,1253.6 L1139.5,1254.6 L1150.6,1256.4 L1161.7,1259.1 L1172.7,1262.8 L1183.8,1267.1 L1194.9,1271.3 L1205.9,1275.0 L1217.0,1277.7 L1228.1,1279.5 L1239.2,1280.5 L1250.2,1281.1 L1261.3,1281.4 L1272.4,1281.5 L1283.4,1281.6 L1294.5,1281.6 L1294.5,1283.6 L1283.4,1283.6 L1272.4,1283.5 L1261.3,1283.4 L1250.2,1283.1 L1239.2,1282.5 L1228.1,1281.5 L1217.0,1279.7 L1205.9,1276.9 L1194.9,1273.2 L1183.8,1268.9 L1172.7,1264.5 L1161.7,1260.8 L1150.6,1258.1 L1139.5,1256.3 L1128.4,1255.3 L1117.4,1254.7 L1106.3,1254.4 L1095.2,1254.2 L1084.2,1254.2 L1073.1,1254.2Z" fill="#8a4a3c" fill-opacity="0.7"/><path d="M1073.1,1254.2 L1084.2,1254.2 L1095.2,1254.4 L1106.3,1254.8 L1117.4,1255.5 L1128.4,1256.9 L1139.5,1259.3 L1150.6,1263.6 L1161.7,1270.3 L1172.7,1279.4 L1183.8,1289.9 L1194.9,1300.4 L1205.9,1309.5 L1217.0,1316.1 L1228.1,1320.4 L1239.2,1322.9 L1250.2,1324.3 L1261.3,1325.0 L1272.4,1325.4 L1283.4,1325.6 L1294.5,1325.6 L1294.5,1328.1 L1283.4,1328.1 L1272.4,1327.9 L1261.3,1327.5 L1250.2,1326.8 L1239.2,1325.4 L1228.1,1322.9 L1217.0,1318.6 L1205.9,1311.9 L1194.9,1302.8 L1183.8,1292.2 L1172.7,1281.6 L1161.7,1272.5 L1150.6,1265.8 L1139.5,1261.5 L1128.4,1259.0 L1117.4,1257.6 L1106.3,1256.8 L1095.2,1256.4 L1084.2,1256.3 L1073.1,1256.3Z" fill="#8a4a3c" fill-opacity="0.7"/><path d="M1073.1,1256.3 L1084.2,1256.3 L1095.2,1256.5 L1106.3,1257.1 L1117.4,1258.2 L1128.4,1260.2 L1139.5,1263.9 L1150.6,1270.3 L1161.7,1280.1 L1172.7,1293.5 L1183.8,1309.1 L1194.9,1324.6 L1205.9,1338.0 L1217.0,1347.9 L1228.1,1354.3 L1239.2,1357.9 L1250.2,1359.9 L1261.3,1361.0 L1272.4,1361.6 L1283.4,1361.9 L1294.5,1361.9 L1294.5,1362.9 L1283.4,1362.9 L1272.4,1362.6 L1261.3,1362.0 L1250.2,1360.9 L1239.2,1358.9 L1228.1,1355.2 L1217.0,1348.9 L1205.9,1339.0 L1194.9,1325.6 L1183.8,1310.0 L1172.7,1294.4 L1161.7,1281.0 L1150.6,1271.1 L1139.5,1264.7 L1128.4,1261.1 L1117.4,1259.1 L1106.3,1257.9 L1095.2,1257.4 L1084.2,1257.1 L1073.1,1257.1Z" fill="#8a4a3c" fill-opacity="0.7"/><path d="M1073.1,1257.1 L1084.2,1257.1 L1095.2,1257.4 L1106.3,1258.1 L1117.4,1259.5 L1128.4,1262.0 L1139.5,1266.5 L1150.6,1274.4 L1161.7,1286.6 L1172.7,1303.1 L1183.8,1322.3 L1194.9,1341.5 L1205.9,1358.0 L1217.0,1370.2 L1228.1,1378.1 L1239.2,1382.6 L1250.2,1385.1 L1261.3,1386.4 L1272.4,1387.2 L1283.4,1387.5 L1294.5,1387.5 L1294.5,1390.0 L1283.4,1390.0 L1272.4,1389.7 L1261.3,1388.9 L1250.2,1387.6 L1239.2,1385.1 L1228.1,1380.5 L1217.0,1372.7 L1205.9,1360.4 L1194.9,1343.9 L1183.8,1324.6 L1172.7,1305.3 L1161.7,1288.7 L1150.6,1276.5 L1139.5,1268.6 L1128.4,1264.1 L1117.4,1261.6 L1106.3,1260.2 L1095.2,1259.5 L1084.2,1259.2 L1073.1,1259.2Z" fill="#8a4a3c" fill-opacity="0.7"/><path d="M1073.1,1259.2 L1084.2,1259.2 L1095.2,1259.6 L1106.3,1260.5 L1117.4,1262.1 L1128.4,1265.2 L1139.5,1270.7 L1150.6,1280.4 L1161.7,1295.3 L1172.7,1315.6 L1183.8,1339.1 L1194.9,1362.7 L1205.9,1382.9 L1217.0,1397.9 L1228.1,1407.5 L1239.2,1413.1 L1250.2,1416.1 L1261.3,1417.8 L1272.4,1418.7 L1283.4,1419.0 L1294.5,1419.1 L1294.5,1420.1 L1283.4,1420.0 L1272.4,1419.7 L1261.3,1418.8 L1250.2,1417.1 L1239.2,1414.1 L1228.1,1408.5 L1217.0,1398.9 L1205.9,1383.9 L1194.9,1363.6 L1183.8,1340.1 L1172.7,1316.5 L1161.7,1296.2 L1150.6,1281.2 L1139.5,1271.6 L1128.4,1266.0 L1117.4,1263.0 L1106.3,1261.3 L1095.2,1260.4 L1084.2,1260.1 L1073.1,1260.0Z" fill="#8a4a3c" fill-opacity="0.7"/><path d="M1073.1,1260.0 L1084.2,1260.1 L1095.2,1260.5 L1106.3,1261.5 L1117.4,1263.5 L1128.4,1267.0 L1139.5,1273.5 L1150.6,1284.7 L1161.7,1302.1 L1172.7,1325.6 L1183.8,1353.1 L1194.9,1380.5 L1205.9,1404.0 L1217.0,1421.4 L1228.1,1432.6 L1239.2,1439.1 L1250.2,1442.6 L1261.3,1444.6 L1272.4,1445.6 L1283.4,1446.0 L1294.5,1446.1 L1294.5,1448.1 L1283.4,1448.0 L1272.4,1447.6 L1261.3,1446.6 L1250.2,1444.6 L1239.2,1441.1 L1228.1,1434.6 L1217.0,1423.4 L1205.9,1406.0 L1194.9,1382.4 L1183.8,1354.9 L1172.7,1327.4 L1161.7,1303.8 L1150.6,1286.4 L1139.5,1275.2 L1128.4,1268.7 L1117.4,1265.1 L1106.3,1263.2 L1095.2,1262.1 L1084.2,1261.7 L1073.1,1261.7Z" fill="#8a4a3c" fill-opacity="0.7"/><path d="M1073.1,1261.7 L1084.2,1261.8 L1095.2,1262.3 L1106.3,1263.6 L1117.4,1266.1 L1128.4,1270.6 L1139.5,1278.9 L1150.6,1293.2 L1161.7,1315.5 L1172.7,1345.7 L1183.8,1380.8 L1194.9,1415.9 L1205.9,1446.0 L1217.0,1468.3 L1228.1,1482.7 L1239.2,1490.9 L1250.2,1495.5 L1261.3,1498.0 L1272.4,1499.3 L1283.4,1499.8 L1294.5,1499.9 L1294.5,1500.9 L1283.4,1500.8 L1272.4,1500.3 L1261.3,1499.0 L1250.2,1496.5 L1239.2,1491.9 L1228.1,1483.7 L1217.0,1469.3 L1205.9,1447.0 L1194.9,1416.8 L1183.8,1381.7 L1172.7,1346.6 L1161.7,1316.4 L1150.6,1294.1 L1139.5,1279.7 L1128.4,1271.5 L1117.4,1266.9 L1106.3,1264.4 L1095.2,1263.1 L1084.2,1262.6 L1073.1,1262.5Z" fill="#8a4a3c" fill-opacity="0.7"/><path d="M1073.1,1262.5 L1084.2,1262.6 L1095.2,1263.2 L1106.3,1264.7 L1117.4,1267.5 L1128.4,1272.6 L1139.5,1281.9 L1150.6,1297.9 L1161.7,1323.0 L1172.7,1356.8 L1183.8,1396.3 L1194.9,1435.7 L1205.9,1469.5 L1217.0,1494.6 L1228.1,1510.6 L1239.2,1519.9 L1250.2,1525.0 L1261.3,1527.8 L1272.4,1529.3 L1283.4,1529.9 L1294.5,1530.0 L1294.5,1532.0 L1283.4,1531.9 L1272.4,1531.3 L1261.3,1529.8 L1250.2,1527.0 L1239.2,1521.9 L1228.1,1512.6 L1217.0,1496.5 L1205.9,1471.5 L1194.9,1437.6 L1183.8,1398.1 L1172.7,1358.6 L1161.7,1324.7 L1150.6,1299.7 L1139.5,1283.5 L1128.4,1274.3 L1117.4,1269.2 L1106.3,1266.3 L1095.2,1264.9 L1084.2,1264.3 L1073.1,1264.2Z" fill="#8a4a3c" fill-opacity="0.7"/><path d="M1073.1,1264.2 L1084.2,1264.3 L1095.2,1265.1 L1106.3,1267.1 L1117.4,1270.9 L1128.4,1277.7 L1139.5,1290.2 L1150.6,1311.9 L1161.7,1345.5 L1172.7,1391.1 L1183.8,1444.1 L1194.9,1497.2 L1205.9,1542.7 L1217.0,1576.4 L1228.1,1598.1 L1239.2,1610.5 L1250.2,1617.4 L1261.3,1621.2 L1272.4,1623.2 L1283.4,1624.0 L1294.5,1624.1 L1294.5,1626.1 L1283.4,1626.0 L1272.4,1625.2 L1261.3,1623.2 L1250.2,1619.4 L1239.2,1612.5 L1228.1,1600.0 L1217.0,1578.4 L1205.9,1544.7 L1194.9,1499.1 L1183.8,1446.0 L1172.7,1392.9 L1161.7,1347.3 L1150.6,1313.6 L1139.5,1291.9 L1128.4,1279.4 L1117.4,1272.5 L1106.3,1268.8 L1095.2,1266.8 L1084.2,1266.0 L1073.1,1265.8Z" fill="#8a4a3c" fill-opacity="0.7"/><path d="M1073.1,1265.8 L1084.2,1266.0 L1095.2,1266.9 L1106.3,1269.2 L1117.4,1273.5 L1128.4,1281.2 L1139.5,1295.4 L1150.6,1320.0 L1161.7,1358.3 L1172.7,1410.1 L1183.8,1470.4 L1194.9,1530.7 L1205.9,1582.5 L1217.0,1620.8 L1228.1,1645.4 L1239.2,1659.6 L1250.2,1667.4 L1261.3,1671.7 L1272.4,1673.9 L1283.4,1674.9 L1294.5,1675.0 L1294.5,1677.0 L1283.4,1676.9 L1272.4,1675.9 L1261.3,1673.7 L1250.2,1669.4 L1239.2,1661.6 L1228.1,1647.4 L1217.0,1622.7 L1205.9,1584.4 L1194.9,1532.6 L1183.8,1472.2 L1172.7,1411.9 L1161.7,1360.1 L1150.6,1321.8 L1139.5,1297.1 L1128.4,1282.9 L1117.4,1275.1 L1106.3,1270.8 L1095.2,1268.6 L1084.2,1267.6 L1073.1,1267.5Z" fill="#8a4a3c" fill-opacity="0.7"/></g>
<g><path d="M1332.0,875.1 L1342.4,875.2 L1352.7,876.2 L1363.1,878.6 L1373.5,882.9 L1383.8,889.7 L1394.2,899.5 L1404.6,913.4 L1414.9,932.9 L1425.3,959.0 L1435.7,992.2 L1446.0,1031.5 L1456.4,1074.2 L1466.8,1116.9 L1477.1,1156.2 L1487.5,1189.4 L1497.9,1215.5 L1508.2,1235.0 L1518.6,1248.9 L1529.0,1258.7 L1539.3,1265.5 L1549.7,1269.8 L1560.1,1272.2 L1570.4,1273.2 L1580.8,1273.3 L1580.8,1287.8 L1570.4,1287.7 L1560.1,1286.7 L1549.7,1284.3 L1539.3,1280.0 L1529.0,1273.2 L1518.6,1263.4 L1508.2,1249.5 L1497.9,1230.0 L1487.5,1203.9 L1477.1,1170.7 L1466.8,1131.4 L1456.4,1088.7 L1446.0,1046.0 L1435.7,1006.7 L1425.3,973.5 L1414.9,947.4 L1404.6,927.9 L1394.2,914.0 L1383.8,904.2 L1373.5,897.4 L1363.1,893.1 L1352.7,890.7 L1342.4,889.7 L1332.0,889.6Z" fill="#f4f1d6" fill-opacity="0.95"/><path d="M1332.0,1385.0 L1342.4,1385.0 L1352.7,1384.7 L1363.1,1384.1 L1373.5,1383.1 L1383.8,1381.4 L1394.2,1379.1 L1404.6,1375.6 L1414.9,1370.9 L1425.3,1364.5 L1435.7,1356.4 L1446.0,1346.8 L1456.4,1336.4 L1466.8,1326.0 L1477.1,1316.4 L1487.5,1308.3 L1497.9,1301.9 L1508.2,1297.2 L1518.6,1293.7 L1529.0,1291.4 L1539.3,1289.7 L1549.7,1288.7 L1560.1,1288.1 L1570.4,1287.8 L1580.8,1287.8 L1580.8,1289.4 L1570.4,1289.4 L1560.1,1289.7 L1549.7,1290.3 L1539.3,1291.3 L1529.0,1293.0 L1518.6,1295.3 L1508.2,1298.8 L1497.9,1303.5 L1487.5,1309.9 L1477.1,1318.0 L1466.8,1327.6 L1456.4,1338.0 L1446.0,1348.4 L1435.7,1358.0 L1425.3,1366.1 L1414.9,1372.5 L1404.6,1377.2 L1394.2,1380.7 L1383.8,1383.0 L1373.5,1384.7 L1363.1,1385.7 L1352.7,1386.3 L1342.4,1386.6 L1332.0,1386.6Z" fill="#f2efd2" fill-opacity="0.95"/><path d="M1332.0,889.6 L1342.4,889.8 L1352.7,890.8 L1363.1,893.3 L1373.5,897.9 L1383.8,905.0 L1394.2,915.3 L1404.6,930.0 L1414.9,950.5 L1425.3,978.1 L1435.7,1013.1 L1446.0,1054.4 L1456.4,1099.5 L1466.8,1144.6 L1477.1,1185.9 L1487.5,1220.9 L1497.9,1248.5 L1508.2,1269.0 L1518.6,1283.7 L1529.0,1294.0 L1539.3,1301.1 L1549.7,1305.7 L1560.1,1308.2 L1570.4,1309.2 L1580.8,1309.4 L1580.8,1324.3 L1570.4,1324.1 L1560.1,1323.1 L1549.7,1320.6 L1539.3,1316.0 L1529.0,1308.9 L1518.6,1298.6 L1508.2,1283.9 L1497.9,1263.4 L1487.5,1235.8 L1477.1,1200.8 L1466.8,1159.5 L1456.4,1114.4 L1446.0,1069.3 L1435.7,1028.0 L1425.3,993.0 L1414.9,965.4 L1404.6,944.9 L1394.2,930.2 L1383.8,919.9 L1373.5,912.8 L1363.1,908.2 L1352.7,905.7 L1342.4,904.7 L1332.0,904.5Z" fill="#e3dab5" fill-opacity="0.95"/><path d="M1332.0,1057.0 L1342.4,1057.1 L1352.7,1057.8 L1363.1,1059.5 L1373.5,1062.7 L1383.8,1067.5 L1394.2,1074.6 L1404.6,1084.6 L1414.9,1098.7 L1425.3,1117.6 L1435.7,1141.5 L1446.0,1169.9 L1456.4,1200.7 L1466.8,1231.5 L1477.1,1259.9 L1487.5,1283.8 L1497.9,1302.7 L1508.2,1316.8 L1518.6,1326.8 L1529.0,1333.9 L1539.3,1338.7 L1549.7,1341.9 L1560.1,1343.6 L1570.4,1344.3 L1580.8,1344.4 L1580.8,1360.4 L1570.4,1360.3 L1560.1,1359.6 L1549.7,1357.9 L1539.3,1354.7 L1529.0,1349.9 L1518.6,1342.8 L1508.2,1332.8 L1497.9,1318.7 L1487.5,1299.8 L1477.1,1275.9 L1466.8,1247.5 L1456.4,1216.7 L1446.0,1185.9 L1435.7,1157.5 L1425.3,1133.6 L1414.9,1114.7 L1404.6,1100.6 L1394.2,1090.6 L1383.8,1083.5 L1373.5,1078.7 L1363.1,1075.5 L1352.7,1073.8 L1342.4,1073.1 L1332.0,1073.0Z" fill="#ecc2ba" fill-opacity="0.95"/><path d="M1332.0,1127.0 L1342.4,1127.1 L1352.7,1127.7 L1363.1,1129.2 L1373.5,1132.0 L1383.8,1136.3 L1394.2,1142.5 L1404.6,1151.4 L1414.9,1163.8 L1425.3,1180.5 L1435.7,1201.7 L1446.0,1226.7 L1456.4,1254.0 L1466.8,1281.2 L1477.1,1306.2 L1487.5,1327.4 L1497.9,1344.1 L1508.2,1356.5 L1518.6,1365.4 L1529.0,1371.6 L1539.3,1375.9 L1549.7,1378.7 L1560.1,1380.2 L1570.4,1380.8 L1580.8,1380.9 L1580.8,1393.9 L1570.4,1393.8 L1560.1,1393.2 L1549.7,1391.7 L1539.3,1388.9 L1529.0,1384.6 L1518.6,1378.4 L1508.2,1369.5 L1497.9,1357.1 L1487.5,1340.4 L1477.1,1319.2 L1466.8,1294.2 L1456.4,1267.0 L1446.0,1239.7 L1435.7,1214.7 L1425.3,1193.5 L1414.9,1176.8 L1404.6,1164.4 L1394.2,1155.5 L1383.8,1149.3 L1373.5,1145.0 L1363.1,1142.2 L1352.7,1140.7 L1342.4,1140.1 L1332.0,1140.0Z" fill="#d9a293" fill-opacity="0.95"/><path d="M1332.0,1162.0 L1342.4,1162.1 L1352.7,1162.6 L1363.1,1164.1 L1373.5,1166.6 L1383.8,1170.5 L1394.2,1176.2 L1404.6,1184.3 L1414.9,1195.6 L1425.3,1210.9 L1435.7,1230.2 L1446.0,1253.1 L1456.4,1278.0 L1466.8,1302.8 L1477.1,1325.7 L1487.5,1345.0 L1497.9,1360.3 L1508.2,1371.6 L1518.6,1379.7 L1529.0,1385.4 L1539.3,1389.3 L1549.7,1391.8 L1560.1,1393.3 L1570.4,1393.8 L1580.8,1393.9 L1580.8,1400.9 L1570.4,1400.8 L1560.1,1400.3 L1549.7,1398.8 L1539.3,1396.3 L1529.0,1392.4 L1518.6,1386.7 L1508.2,1378.6 L1497.9,1367.3 L1487.5,1352.0 L1477.1,1332.7 L1466.8,1309.8 L1456.4,1285.0 L1446.0,1260.1 L1435.7,1237.2 L1425.3,1217.9 L1414.9,1202.6 L1404.6,1191.3 L1394.2,1183.2 L1383.8,1177.5 L1373.5,1173.6 L1363.1,1171.1 L1352.7,1169.6 L1342.4,1169.1 L1332.0,1169.0Z" fill="#d9a293" fill-opacity="0.95"/><path d="M1332.0,1190.0 L1342.4,1190.1 L1352.7,1190.6 L1363.1,1191.9 L1373.5,1194.2 L1383.8,1197.7 L1394.2,1202.9 L1404.6,1210.3 L1414.9,1220.6 L1425.3,1234.4 L1435.7,1252.0 L1446.0,1272.8 L1456.4,1295.5 L1466.8,1318.1 L1477.1,1338.9 L1487.5,1356.5 L1497.9,1370.3 L1508.2,1380.6 L1518.6,1388.0 L1529.0,1393.2 L1539.3,1396.7 L1549.7,1399.0 L1560.1,1400.3 L1570.4,1400.8 L1580.8,1400.9 L1580.8,1402.9 L1570.4,1402.8 L1560.1,1402.3 L1549.7,1401.0 L1539.3,1398.7 L1529.0,1395.2 L1518.6,1390.0 L1508.2,1382.6 L1497.9,1372.3 L1487.5,1358.5 L1477.1,1340.9 L1466.8,1320.1 L1456.4,1297.5 L1446.0,1274.8 L1435.7,1254.0 L1425.3,1236.4 L1414.9,1222.6 L1404.6,1212.3 L1394.2,1204.9 L1383.8,1199.7 L1373.5,1196.2 L1363.1,1193.9 L1352.7,1192.6 L1342.4,1192.1 L1332.0,1192.0Z" fill="#d9a293" fill-opacity="0.95"/><path d="M1332.0,1214.0 L1342.4,1214.1 L1352.7,1214.5 L1363.1,1215.7 L1373.5,1217.7 L1383.8,1220.9 L1394.2,1225.6 L1404.6,1232.2 L1414.9,1241.4 L1425.3,1253.8 L1435.7,1269.6 L1446.0,1288.2 L1456.4,1308.5 L1466.8,1328.7 L1477.1,1347.3 L1487.5,1363.1 L1497.9,1375.5 L1508.2,1384.7 L1518.6,1391.3 L1529.0,1396.0 L1539.3,1399.2 L1549.7,1401.2 L1560.1,1402.4 L1570.4,1402.8 L1580.8,1402.9 L1580.8,1404.9 L1570.4,1404.8 L1560.1,1404.4 L1549.7,1403.2 L1539.3,1401.2 L1529.0,1398.0 L1518.6,1393.3 L1508.2,1386.7 L1497.9,1377.5 L1487.5,1365.1 L1477.1,1349.3 L1466.8,1330.7 L1456.4,1310.5 L1446.0,1290.2 L1435.7,1271.6 L1425.3,1255.8 L1414.9,1243.4 L1404.6,1234.2 L1394.2,1227.6 L1383.8,1222.9 L1373.5,1219.7 L1363.1,1217.7 L1352.7,1216.5 L1342.4,1216.1 L1332.0,1216.0Z" fill="#d9a293" fill-opacity="0.95"/><path d="M1332.0,1236.0 L1342.4,1236.1 L1352.7,1236.5 L1363.1,1237.5 L1373.5,1239.3 L1383.8,1242.2 L1394.2,1246.3 L1404.6,1252.2 L1414.9,1260.5 L1425.3,1271.6 L1435.7,1285.7 L1446.0,1302.3 L1456.4,1320.5 L1466.8,1338.6 L1477.1,1355.2 L1487.5,1369.3 L1497.9,1380.4 L1508.2,1388.7 L1518.6,1394.6 L1529.0,1398.7 L1539.3,1401.6 L1549.7,1403.4 L1560.1,1404.4 L1570.4,1404.8 L1580.8,1404.9 L1580.8,1416.9 L1570.4,1416.8 L1560.1,1416.4 L1549.7,1415.4 L1539.3,1413.6 L1529.0,1410.7 L1518.6,1406.6 L1508.2,1400.7 L1497.9,1392.4 L1487.5,1381.3 L1477.1,1367.2 L1466.8,1350.6 L1456.4,1332.5 L1446.0,1314.3 L1435.7,1297.7 L1425.3,1283.6 L1414.9,1272.5 L1404.6,1264.2 L1394.2,1258.3 L1383.8,1254.2 L1373.5,1251.3 L1363.1,1249.5 L1352.7,1248.5 L1342.4,1248.1 L1332.0,1248.0Z" fill="#d9a293" fill-opacity="0.95"/><path d="M1332.0,1524.0 L1342.4,1524.0 L1352.7,1523.7 L1363.1,1523.1 L1373.5,1521.9 L1383.8,1520.1 L1394.2,1517.4 L1404.6,1513.7 L1414.9,1508.5 L1425.3,1501.4 L1435.7,1492.5 L1446.0,1481.9 L1456.4,1470.5 L1466.8,1459.0 L1477.1,1448.4 L1487.5,1439.5 L1497.9,1432.4 L1508.2,1427.2 L1518.6,1423.5 L1529.0,1420.8 L1539.3,1419.0 L1549.7,1417.8 L1560.1,1417.2 L1570.4,1416.9 L1580.8,1416.9 L1580.8,1433.0 L1570.4,1433.0 L1560.1,1433.3 L1549.7,1433.9 L1539.3,1435.1 L1529.0,1436.9 L1518.6,1439.6 L1508.2,1443.3 L1497.9,1448.5 L1487.5,1455.6 L1477.1,1464.5 L1466.8,1475.1 L1456.4,1486.5 L1446.0,1498.0 L1435.7,1508.6 L1425.3,1517.5 L1414.9,1524.6 L1404.6,1529.8 L1394.2,1533.5 L1383.8,1536.2 L1373.5,1538.0 L1363.1,1539.2 L1352.7,1539.8 L1342.4,1540.1 L1332.0,1540.1Z" fill="#d9a293" fill-opacity="0.95"/></g>
<rect x="1047.9" y="929.4" width="25.2" height="26.1" fill="#546a84" stroke="#1a1a1a" stroke-width="1.5"/><rect x="1047.9" y="975" width="25.2" height="116.7" fill="#546a84" stroke="#1a1a1a" stroke-width="1.5"/><rect x="1047.9" y="1112.4" width="25.2" height="99.6" fill="#65342b" stroke="#1a1a1a" stroke-width="1.5"/><rect x="1047.9" y="1233.6" width="25.2" height="33.9" fill="#6b1a0c" stroke="#1a1a1a" stroke-width="1.5"/><rect x="1047.9" y="1287.6" width="25.2" height="25.5" fill="#546a84" stroke="#1a1a1a" stroke-width="1.5"/><rect x="1047.9" y="1333.5" width="25.2" height="109.5" fill="#546a84" stroke="#1a1a1a" stroke-width="1.5"/><rect x="1294.5" y="683.4" width="37.5" height="25.2" fill="#d9c487" stroke="#333" stroke-width="0.9"/><rect x="1294.5" y="729" width="37.5" height="9.6" fill="#d9c487" stroke="#333" stroke-width="0.9"/><rect x="1294.5" y="758.1" width="37.5" height="3.0" fill="#b8a878" stroke="#333" stroke-width="0.9"/><rect x="1294.5" y="781.5" width="37.5" height="39.0" fill="#d9c487" stroke="#333" stroke-width="0.9"/><rect x="1294.5" y="840.9" width="37.5" height="14.1" fill="#d9c487" stroke="#333" stroke-width="0.9"/><rect x="1294.5" y="875.1" width="37.5" height="27.3" fill="#3e5575" stroke="#333" stroke-width="0.9"/><rect x="1294.5" y="923.1" width="37.5" height="13.5" fill="#cdb47a" stroke="#333" stroke-width="0.9"/><rect x="1294.5" y="957.6" width="37.5" height="6.9" fill="#cdb47a" stroke="#333" stroke-width="0.9"/><rect x="1294.5" y="985" width="37.5" height="15.5" fill="#cdb47a" stroke="#333" stroke-width="0.9"/><rect x="1294.5" y="1021.5" width="37.5" height="15.9" fill="#afa48a" stroke="#333" stroke-width="0.9"/><rect x="1294.5" y="1057" width="37.5" height="18.0" fill="#8a9ab5" stroke="#333" stroke-width="0.9"/><rect x="1294.5" y="1093.5" width="37.5" height="14.4" fill="#8a9ab5" stroke="#333" stroke-width="0.9"/><rect x="1294.5" y="1127" width="37.5" height="19.0" fill="#8a9ab5" stroke="#333" stroke-width="0.9"/><rect x="1294.5" y="1162" width="37.5" height="13.0" fill="#8a9ab5" stroke="#333" stroke-width="0.9"/><rect x="1294.5" y="1190" width="37.5" height="6.0" fill="#8a9ab5" stroke="#333" stroke-width="0.9"/><rect x="1294.5" y="1214" width="37.5" height="5.0" fill="#8a9ab5" stroke="#333" stroke-width="0.9"/><rect x="1294.5" y="1236" width="37.5" height="15.0" fill="#8a9ab5" stroke="#333" stroke-width="0.9"/><rect x="1294.5" y="1269.6" width="37.5" height="22.8" fill="#8a9ab5" stroke="#333" stroke-width="0.9"/><rect x="1294.5" y="1313.1" width="37.5" height="24.9" fill="#8a9ab5" stroke="#333" stroke-width="0.9"/><rect x="1294.5" y="1358.4" width="37.5" height="6.6" fill="#6f809a" stroke="#333" stroke-width="0.9"/><rect x="1294.5" y="1385" width="37.5" height="5.0" fill="#6f809a" stroke="#333" stroke-width="0.9"/><rect x="1294.5" y="1409.1" width="37.5" height="15.9" fill="#6f809a" stroke="#333" stroke-width="0.9"/><rect x="1294.5" y="1445.1" width="37.5" height="3.0" fill="#5a6e88" stroke="#333" stroke-width="0.9"/><rect x="1294.5" y="1467.9" width="37.5" height="5.1" fill="#7385a0" stroke="#333" stroke-width="0.9"/><rect x="1294.5" y="1493.4" width="37.5" height="11.1" fill="#4d6282" stroke="#333" stroke-width="0.9"/><rect x="1294.5" y="1524" width="37.5" height="16.0" fill="#4d6282" stroke="#333" stroke-width="0.9"/><rect x="1294.5" y="1559.9" width="37.5" height="6.0" fill="#4d6282" stroke="#333" stroke-width="0.9"/><rect x="1294.5" y="1586" width="37.5" height="5.1" fill="#4d6282" stroke="#333" stroke-width="0.9"/><rect x="1294.5" y="1612.1" width="37.5" height="31.5" fill="#546a84" stroke="#333" stroke-width="0.9"/><rect x="1294.5" y="1664" width="37.5" height="25.5" fill="#546a84" stroke="#333" stroke-width="0.9"/><rect x="1580.8" y="1273.3" width="28.5" height="16.1" fill="#f3edc4" stroke="#333" stroke-width="0.9"/><rect x="1580.8" y="1309.4" width="28.5" height="14.9" fill="#d9c487" stroke="#333" stroke-width="0.9"/><rect x="1580.8" y="1344.4" width="28.5" height="16.0" fill="#d98070" stroke="#333" stroke-width="0.9"/><rect x="1580.8" y="1380.9" width="28.5" height="52.1" fill="#c0523a" stroke="#333" stroke-width="0.9"/>
<g font-size="21.3"><text x="1039" y="951" text-anchor="end">neuropil</text><text x="1039" y="1042.5" text-anchor="end">neuronal cells</text><text x="1039" y="1170" text-anchor="end">glial cells</text><text x="1039" y="1259.1" text-anchor="end">endothelial cells</text><text x="1039" y="1309.5" text-anchor="end">Purkinje cells</text><text x="1039" y="1396.5" text-anchor="end">Other cells</text></g>
<g font-size="17"><text x="1342.5" y="704.4">TNFSF13</text><text x="1342.5" y="740.4">TMEM273</text><text x="1342.5" y="766.5">TGM2</text><text x="1342.5" y="811.5">S100B</text><text x="1342.5" y="855">RHOH</text><rect x="1272" y="878" width="82.5" height="22.0" rx="3.5" fill="#fff" stroke="#555" stroke-width="1"/><text x="1313.2" y="895.1" text-anchor="middle">PYCARD</text><text x="1342.5" y="936.6">PSMB8</text><text x="1342.5" y="967.5">PROCR</text><text x="1342.5" y="1000.5">PDCD1LG2</text><text x="1342.5" y="1038.6">NMI</text><rect x="1280.4" y="1054.5" width="65.1" height="22.5" rx="3.5" fill="#fff" stroke="#555" stroke-width="1"/><text x="1313.0" y="1071.8" text-anchor="middle">ITGAM</text><text x="1342.5" y="1108.5">IL3RA</text><rect x="1262.4" y="1125" width="101.1" height="22.5" rx="3.5" fill="#fff" stroke="#555" stroke-width="1"/><text x="1313.0" y="1142.3" text-anchor="middle">HLA−DQB1</text><rect x="1262.4" y="1157.4" width="101.1" height="21.6" rx="3.5" fill="#fff" stroke="#555" stroke-width="1"/><text x="1313.0" y="1174.3" text-anchor="middle">HLA−DQA1</text><rect x="1263.6" y="1183" width="99.0" height="20.6" rx="3.5" fill="#fff" stroke="#555" stroke-width="1"/><text x="1313.1" y="1199.4" text-anchor="middle">HLA−DPB1</text><rect x="1264.8" y="1206" width="97.2" height="21.0" rx="3.5" fill="#fff" stroke="#555" stroke-width="1"/><text x="1313.4" y="1222.6" text-anchor="middle">HLA−DPA1</text><rect x="1266.6" y="1233" width="93.1" height="21.6" rx="3.5" fill="#fff" stroke="#555" stroke-width="1"/><text x="1313.2" y="1249.9" text-anchor="middle">HLA−DMA</text><text x="1342.5" y="1288.5">GIMAP4</text><text x="1342.5" y="1336.5">GGTA1</text><text x="1342.5" y="1364.4">GGT5</text><rect x="1285.5" y="1376.4" width="56.1" height="22.2" rx="3.5" fill="#fff" stroke="#555" stroke-width="1"/><text x="1313.5" y="1393.6" text-anchor="middle">GBP5</text><text x="1342.5" y="1424.4">GBGT1</text><text x="1342.5" y="1452">FLT1</text><text x="1342.5" y="1478.4">FCER1A</text><text x="1342.5" y="1504.5">CTSC</text><rect x="1287" y="1520.9" width="52.5" height="22.2" rx="3.5" fill="#fff" stroke="#555" stroke-width="1"/><text x="1313.2" y="1538.1" text-anchor="middle">CIITA</text><text x="1342.5" y="1562">CDCP1</text><text x="1342.5" y="1589">CD1E</text><text x="1342.5" y="1633.4">ARHGDIB</text><text x="1342.5" y="1682">AGBL2</text></g>
<g font-size="21.5"><text x="1620.1" y="1288.6">NOD−like receptor signaling pathway</text><text x="1620.1" y="1323.5">Cytosolic DNA−sensing pathway</text><text x="1620.1" y="1358.8">Complement and coagulation cascades</text><text x="1620.1" y="1413.8">Antigen processing and presentation</text></g>
</svg></body></html>
